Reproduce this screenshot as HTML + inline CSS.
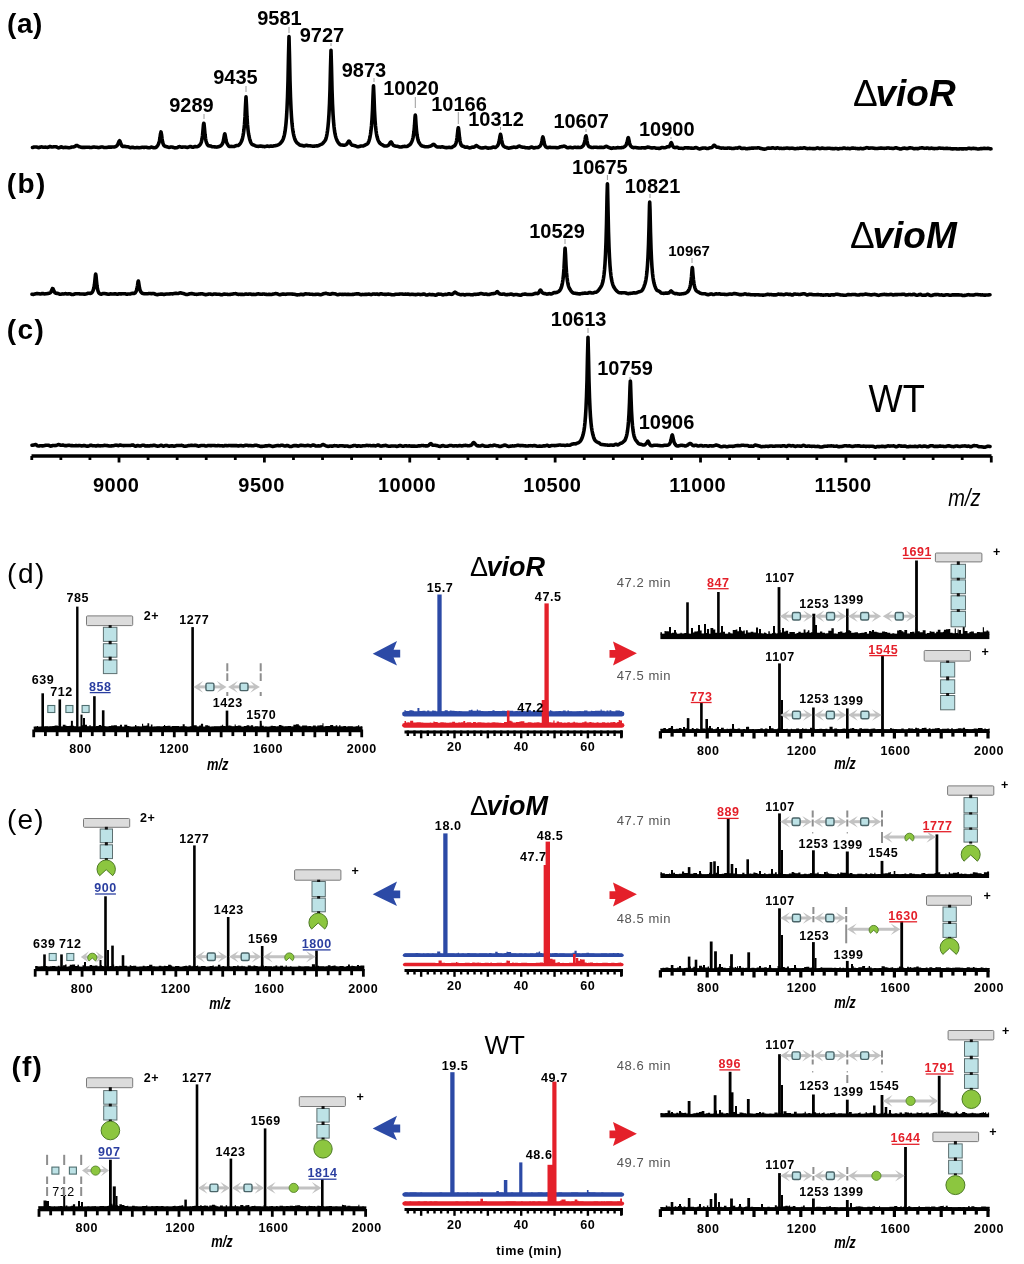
<!DOCTYPE html>
<html><head><meta charset="utf-8"><title>Figure</title>
<style>
html,body{margin:0;padding:0;background:#fff;}
body{width:1024px;height:1264px;overflow:hidden;}
svg{display:block;font-family:"Liberation Sans", sans-serif;filter:blur(0.45px);}
</style></head><body>
<svg width="1024" height="1264" viewBox="0 0 1024 1264">
<rect width="1024" height="1264" fill="#fff"/>
<text x="7" y="33.2" font-size="28" font-weight="bold" text-anchor="start" fill="#000" letter-spacing="0.6">(a)</text>
<path d="M32.5 147.53 L33 147.41 L33.5 147.21 L34 147.04 L34.5 146.95 L35 146.94 L35.5 146.96 L36 146.99 L36.5 147.02 L37 147.1 L37.5 147.26 L38 147.45 L38.5 147.59 L39 147.6 L39.5 147.45 L40 147.24 L40.5 147.05 L41 146.95 L41.5 146.92 L42 146.95 L42.5 147.04 L43 147.16 L43.5 147.24 L44 147.24 L44.5 147.19 L45 147.15 L45.5 147.15 L46 147.18 L46.5 147.26 L47 147.35 L47.5 147.39 L48 147.31 L48.5 147.1 L49 146.82 L49.5 146.61 L50 146.53 L50.5 146.61 L51 146.77 L51.5 146.93 L52 146.99 L52.5 146.98 L53 146.91 L53.5 146.82 L54 146.74 L54.5 146.7 L55 146.7 L55.5 146.72 L56 146.78 L56.5 146.93 L57 147.18 L57.5 147.48 L58 147.74 L58.5 147.87 L59 147.83 L59.5 147.65 L60 147.38 L60.5 147.11 L61 146.92 L61.5 146.9 L62 147.04 L62.5 147.28 L63 147.5 L63.5 147.6 L64 147.57 L64.5 147.47 L65 147.37 L65.5 147.32 L66 147.35 L66.5 147.42 L67 147.5 L67.5 147.56 L68 147.61 L68.5 147.67 L69 147.71 L69.5 147.7 L70 147.6 L70.5 147.45 L71 147.27 L71.5 147.12 L72 147.02 L72.5 146.96 L73 146.92 L73.5 146.88 L74 146.81 L74.5 146.68 L75 146.43 L75.5 146.08 L76 145.71 L76.5 145.49 L77 145.5 L77.5 145.7 L78 145.99 L78.5 146.28 L79 146.52 L79.5 146.72 L80 146.89 L80.5 147.03 L81 147.18 L81.5 147.32 L82 147.41 L82.5 147.42 L83 147.39 L83.5 147.39 L84 147.41 L84.5 147.41 L85 147.36 L85.5 147.29 L86 147.24 L86.5 147.23 L87 147.23 L87.5 147.21 L88 147.22 L88.5 147.25 L89 147.31 L89.5 147.39 L90 147.46 L90.5 147.5 L91 147.5 L91.5 147.45 L92 147.37 L92.5 147.25 L93 147.12 L93.5 147.02 L94 147.01 L94.5 147.07 L95 147.15 L95.5 147.2 L96 147.21 L96.5 147.23 L97 147.32 L97.5 147.45 L98 147.57 L98.5 147.59 L99 147.51 L99.5 147.39 L100 147.28 L100.5 147.18 L101 147.07 L101.5 146.97 L102 146.92 L102.5 146.97 L103 147.12 L103.5 147.29 L104 147.42 L104.5 147.48 L105 147.51 L105.5 147.51 L106 147.5 L106.5 147.46 L107 147.39 L107.5 147.3 L108 147.22 L108.5 147.16 L109 147.13 L109.5 147.12 L110 147.12 L110.5 147.11 L111 147.11 L111.5 147.1 L112 147.07 L112.5 147.01 L113 146.96 L113.5 146.94 L114 146.94 L114.5 146.9 L115 146.78 L115.5 146.58 L116 146.33 L116.5 146.02 L117 145.59 L117.5 144.93 L118 143.96 L118.5 142.69 L119 141.39 L119.5 140.77 L120 141.32 L120.5 142.64 L121 144.04 L121.5 145.18 L122 145.98 L122.5 146.42 L123 146.54 L123.5 146.47 L124 146.34 L124.5 146.27 L125 146.33 L125.5 146.5 L126 146.68 L126.5 146.79 L127 146.8 L127.5 146.79 L128 146.83 L128.5 146.95 L129 147.14 L129.5 147.34 L130 147.51 L130.5 147.61 L131 147.58 L131.5 147.47 L132 147.35 L132.5 147.3 L133 147.35 L133.5 147.48 L134 147.64 L134.5 147.77 L135 147.82 L135.5 147.77 L136 147.65 L136.5 147.53 L137 147.49 L137.5 147.54 L138 147.63 L138.5 147.71 L139 147.73 L139.5 147.71 L140 147.66 L140.5 147.59 L141 147.5 L141.5 147.39 L142 147.29 L142.5 147.25 L143 147.28 L143.5 147.36 L144 147.42 L144.5 147.39 L145 147.3 L145.5 147.2 L146 147.2 L146.5 147.28 L147 147.41 L147.5 147.53 L148 147.63 L148.5 147.71 L149 147.78 L149.5 147.77 L150 147.64 L150.5 147.44 L151 147.23 L151.5 147.13 L152 147.18 L152.5 147.36 L153 147.56 L153.5 147.71 L154 147.77 L154.5 147.76 L155 147.7 L155.5 147.57 L156 147.34 L156.5 146.96 L157 146.43 L157.5 145.75 L158 144.94 L158.5 143.97 L159 142.65 L159.5 140.66 L160 137.63 L160.5 133.86 L161 131.92 L161.5 134.27 L162 138.33 L162.5 141.47 L163 143.46 L163.5 144.69 L164 145.47 L164.5 145.97 L165 146.26 L165.5 146.42 L166 146.53 L166.5 146.63 L167 146.76 L167.5 146.93 L168 147.12 L168.5 147.29 L169 147.37 L169.5 147.35 L170 147.25 L170.5 147.1 L171 146.99 L171.5 146.96 L172 147.02 L172.5 147.14 L173 147.29 L173.5 147.46 L174 147.64 L174.5 147.78 L175 147.84 L175.5 147.8 L176 147.75 L176.5 147.71 L177 147.63 L177.5 147.46 L178 147.2 L178.5 146.91 L179 146.71 L179.5 146.65 L180 146.73 L180.5 146.91 L181 147.11 L181.5 147.23 L182 147.23 L182.5 147.15 L183 147.07 L183.5 147.03 L184 147.01 L184.5 146.99 L185 147 L185.5 147.07 L186 147.21 L186.5 147.34 L187 147.42 L187.5 147.39 L188 147.26 L188.5 147.08 L189 146.88 L189.5 146.71 L190 146.59 L190.5 146.56 L191 146.62 L191.5 146.79 L192 147.01 L192.5 147.21 L193 147.28 L193.5 147.18 L194 146.93 L194.5 146.68 L195 146.54 L195.5 146.57 L196 146.69 L196.5 146.77 L197 146.75 L197.5 146.61 L198 146.41 L198.5 146.15 L199 145.78 L199.5 145.28 L200 144.67 L200.5 143.93 L201 142.95 L201.5 141.48 L202 139.14 L202.5 135.44 L203 130.01 L203.5 124.45 L203.8 123.22 L204 123.75 L204.5 128.72 L205 134.33 L205.5 138.31 L206 140.92 L206.5 142.67 L207 143.89 L207.5 144.76 L208 145.36 L208.5 145.72 L209 145.87 L209.5 145.89 L210 145.9 L210.5 146 L211 146.2 L211.5 146.46 L212 146.66 L212.5 146.76 L213 146.78 L213.5 146.78 L214 146.79 L214.5 146.84 L215 146.9 L215.5 146.98 L216 147.04 L216.5 147.08 L217 147.06 L217.5 146.98 L218 146.84 L218.5 146.69 L219 146.55 L219.5 146.41 L220 146.22 L220.5 145.92 L221 145.51 L221.5 145 L222 144.38 L222.5 143.54 L223 142.28 L223.5 140.3 L224 137.4 L224.5 134.45 L224.8 133.84 L225 134.23 L225.5 136.97 L226 139.99 L226.5 142.05 L227 143.34 L227.5 144.23 L228 144.97 L228.5 145.64 L229 146.16 L229.5 146.46 L230 146.53 L230.5 146.47 L231 146.41 L231.5 146.42 L232 146.47 L232.5 146.51 L233 146.54 L233.5 146.55 L234 146.54 L234.5 146.44 L235 146.22 L235.5 145.94 L236 145.71 L236.5 145.58 L237 145.56 L237.5 145.55 L238 145.48 L238.5 145.26 L239 144.88 L239.5 144.39 L240 143.81 L240.5 143.15 L241 142.35 L241.5 141.3 L242 139.91 L242.5 138.14 L243 135.9 L243.5 133.04 L244 129.31 L244.5 124.23 L245 116.89 L245.5 105.75 L246 96.86 L246.5 105.78 L247 116.99 L247.5 124.44 L248 129.62 L248.5 133.38 L249 136.2 L249.5 138.4 L250 140.19 L250.5 141.67 L251 142.83 L251.5 143.67 L252 144.24 L252.5 144.59 L253 144.82 L253.5 144.99 L254 145.19 L254.5 145.42 L255 145.66 L255.5 145.88 L256 146.06 L256.5 146.19 L257 146.27 L257.5 146.33 L258 146.37 L258.5 146.37 L259 146.32 L259.5 146.22 L260 146.12 L260.5 146.07 L261 146.12 L261.5 146.23 L262 146.34 L262.5 146.37 L263 146.38 L263.5 146.43 L264 146.53 L264.5 146.62 L265 146.62 L265.5 146.5 L266 146.33 L266.5 146.16 L267 146.07 L267.5 146.09 L268 146.19 L268.5 146.31 L269 146.38 L269.5 146.34 L270 146.22 L270.5 146.12 L271 146.09 L271.5 146.14 L272 146.21 L272.5 146.21 L273 146.11 L273.5 145.97 L274 145.85 L274.5 145.78 L275 145.71 L275.5 145.63 L276 145.54 L276.5 145.44 L277 145.3 L277.5 145.12 L278 144.89 L278.5 144.64 L279 144.35 L279.5 144.01 L280 143.6 L280.5 143.13 L281 142.61 L281.5 142.03 L282 141.34 L282.5 140.5 L283 139.48 L283.5 138.2 L284 136.56 L284.5 134.43 L285 131.67 L285.5 128.07 L286 123.34 L286.5 117.08 L287 108.7 L287.5 97.24 L288 80.78 L288.5 56.14 L289 36.54 L289.5 55.94 L290 80.47 L290.5 96.95 L291 108.53 L291.5 117.01 L292 123.29 L292.5 127.93 L293 131.4 L293.5 134.09 L294 136.27 L294.5 138.09 L295 139.55 L295.5 140.67 L296 141.54 L296.5 142.24 L297 142.8 L297.5 143.25 L298 143.62 L298.5 143.99 L299 144.41 L299.5 144.83 L300 145.15 L300.5 145.31 L301 145.33 L301.5 145.33 L302 145.39 L302.5 145.54 L303 145.74 L303.5 145.9 L304 145.97 L304.5 145.91 L305 145.73 L305.5 145.51 L306 145.34 L306.5 145.29 L307 145.36 L307.5 145.52 L308 145.69 L308.5 145.77 L309 145.77 L309.5 145.73 L310 145.73 L310.5 145.79 L311 145.9 L311.5 146 L312 146.09 L312.5 146.16 L313 146.18 L313.5 146.17 L314 146.14 L314.5 146.11 L315 146.06 L315.5 145.99 L316 145.91 L316.5 145.87 L317 145.9 L317.5 145.91 L318 145.83 L318.5 145.61 L319 145.31 L319.5 145.03 L320 144.81 L320.5 144.62 L321 144.43 L321.5 144.23 L322 143.96 L322.5 143.58 L323 143.09 L323.5 142.51 L324 141.92 L324.5 141.34 L325 140.69 L325.5 139.82 L326 138.52 L326.5 136.64 L327 134.1 L327.5 130.8 L328 126.59 L328.5 121.12 L329 113.82 L329.5 103.77 L330 89.27 L330.5 67.55 L331 50.32 L331.5 67.45 L332 89.09 L332.5 103.57 L333 113.64 L333.5 121 L334 126.48 L334.5 130.6 L335 133.67 L335.5 135.98 L336 137.77 L336.5 139.19 L337 140.36 L337.5 141.33 L338 142.19 L338.5 142.94 L339 143.59 L339.5 144.13 L340 144.55 L340.5 144.83 L341 144.97 L341.5 145 L342 145 L342.5 145.04 L343 145.13 L343.5 145.21 L344 145.23 L344.5 145.17 L345 145.06 L345.5 144.9 L346 144.67 L346.5 144.3 L347 143.75 L347.5 143.01 L348 142.15 L348.5 141.38 L349 141.08 L349.5 141.49 L350 142.34 L350.5 143.26 L351 144.05 L351.5 144.66 L352 145.05 L352.5 145.24 L353 145.33 L353.5 145.4 L354 145.5 L354.5 145.64 L355 145.81 L355.5 145.99 L356 146.17 L356.5 146.37 L357 146.56 L357.5 146.7 L358 146.77 L358.5 146.74 L359 146.62 L359.5 146.44 L360 146.26 L360.5 146.12 L361 146.02 L361.5 145.98 L362 145.97 L362.5 145.98 L363 145.97 L363.5 145.87 L364 145.68 L364.5 145.4 L365 145.08 L365.5 144.79 L366 144.55 L366.5 144.36 L367 144.13 L367.5 143.76 L368 143.12 L368.5 142.15 L369 140.83 L369.5 139.14 L370 136.99 L370.5 134.21 L371 130.56 L371.5 125.7 L372 119.17 L372.5 110 L373 96.43 L373.5 85.77 L374 96.75 L374.5 110.48 L375 119.62 L375.5 125.95 L376 130.56 L376.5 133.99 L377 136.53 L377.5 138.4 L378 139.84 L378.5 141 L379 141.96 L379.5 142.72 L380 143.29 L380.5 143.74 L381 144.08 L381.5 144.35 L382 144.6 L382.5 144.88 L383 145.21 L383.5 145.54 L384 145.79 L384.5 145.95 L385 146.02 L385.5 146.04 L386 146.05 L386.5 146.02 L387 145.92 L387.5 145.74 L388 145.46 L388.5 145.1 L389 144.61 L389.5 143.93 L390 143.07 L390.5 142.26 L391 141.93 L391.5 142.35 L392 143.26 L392.5 144.18 L393 144.89 L393.5 145.34 L394 145.62 L394.5 145.8 L395 145.96 L395.5 146.09 L396 146.18 L396.5 146.22 L397 146.24 L397.5 146.28 L398 146.41 L398.5 146.6 L399 146.78 L399.5 146.9 L400 146.94 L400.5 146.94 L401 146.93 L401.5 146.92 L402 146.85 L402.5 146.71 L403 146.56 L403.5 146.46 L404 146.42 L404.5 146.41 L405 146.41 L405.5 146.44 L406 146.49 L406.5 146.51 L407 146.43 L407.5 146.22 L408 145.91 L408.5 145.57 L409 145.23 L409.5 144.89 L410 144.49 L410.5 143.93 L411 143.19 L411.5 142.26 L412 141.14 L412.5 139.74 L413 137.85 L413.5 135.17 L414 131.3 L414.5 125.52 L415 117.58 L415.3 115.01 L415.5 116.21 L416 124 L416.5 130.34 L417 134.64 L417.5 137.69 L418 139.85 L418.5 141.39 L419 142.48 L419.5 143.31 L420 144 L420.5 144.63 L421 145.2 L421.5 145.65 L422 145.93 L422.5 146.07 L423 146.17 L423.5 146.27 L424 146.41 L424.5 146.56 L425 146.68 L425.5 146.76 L426 146.8 L426.5 146.81 L427 146.8 L427.5 146.76 L428 146.7 L428.5 146.61 L429 146.5 L429.5 146.36 L430 146.23 L430.5 146.08 L431 145.88 L431.5 145.61 L432 145.26 L432.5 144.87 L433 144.5 L433.5 144.35 L434 144.53 L434.5 144.91 L435 145.35 L435.5 145.8 L436 146.22 L436.5 146.58 L437 146.84 L437.5 146.99 L438 147.04 L438.5 147.03 L439 147.01 L439.5 147.02 L440 147.07 L440.5 147.1 L441 147.07 L441.5 146.95 L442 146.82 L442.5 146.8 L443 146.92 L443.5 147.09 L444 147.25 L444.5 147.35 L445 147.43 L445.5 147.52 L446 147.6 L446.5 147.64 L447 147.62 L447.5 147.56 L448 147.48 L448.5 147.41 L449 147.38 L449.5 147.4 L450 147.47 L450.5 147.57 L451 147.6 L451.5 147.5 L452 147.27 L452.5 146.95 L453 146.62 L453.5 146.32 L454 146.04 L454.5 145.68 L455 145.15 L455.5 144.31 L456 143.03 L456.5 141.09 L457 138.07 L457.5 133.59 L458 128.92 L458.3 127.77 L458.5 128.19 L459 132.43 L459.5 137.31 L460 140.85 L460.5 143.13 L461 144.54 L461.5 145.37 L462 145.8 L462.5 146.01 L463 146.18 L463.5 146.39 L464 146.66 L464.5 146.92 L465 147.12 L465.5 147.22 L466 147.22 L466.5 147.14 L467 147.09 L467.5 147.15 L468 147.35 L468.5 147.6 L469 147.82 L469.5 147.92 L470 147.89 L470.5 147.75 L471 147.54 L471.5 147.33 L472 147.2 L472.5 147.17 L473 147.19 L473.5 147.19 L474 147.08 L474.5 146.81 L475 146.43 L475.5 146 L476 145.66 L476.4 145.56 L476.5 145.58 L477 145.81 L477.5 146.19 L478 146.55 L478.5 146.84 L479 147.1 L479.5 147.34 L480 147.56 L480.5 147.74 L481 147.89 L481.5 147.99 L482 148.03 L482.5 147.99 L483 147.88 L483.5 147.78 L484 147.69 L484.5 147.6 L485 147.48 L485.5 147.41 L486 147.44 L486.5 147.61 L487 147.86 L487.5 148.07 L488 148.16 L488.5 148.15 L489 148.08 L489.5 148.02 L490 147.99 L490.5 147.95 L491 147.87 L491.5 147.72 L492 147.52 L492.5 147.3 L493 147.11 L493.5 147.04 L494 147.11 L494.5 147.27 L495 147.39 L495.5 147.34 L496 147.08 L496.5 146.69 L497 146.24 L497.5 145.69 L498 144.93 L498.5 143.79 L499 142.06 L499.5 139.44 L500 136.13 L500.5 134.31 L501 136.15 L501.5 139.53 L502 142.26 L502.5 144.06 L503 145.2 L503.5 145.92 L504 146.4 L504.5 146.76 L505 147.05 L505.5 147.25 L506 147.4 L506.5 147.54 L507 147.71 L507.5 147.89 L508 148.04 L508.5 148.12 L509 148.11 L509.5 148.04 L510 147.93 L510.5 147.8 L511 147.7 L511.5 147.61 L512 147.52 L512.5 147.39 L513 147.25 L513.5 147.15 L514 147.14 L514.5 147.23 L515 147.33 L515.5 147.39 L516 147.39 L516.5 147.33 L517 147.17 L517.5 146.91 L518 146.59 L518.5 146.29 L519 146.14 L519.5 146.17 L520 146.33 L520.5 146.54 L521 146.74 L521.5 146.92 L522 147.07 L522.5 147.16 L523 147.21 L523.5 147.24 L524 147.29 L524.5 147.39 L525 147.51 L525.5 147.61 L526 147.68 L526.5 147.72 L527 147.75 L527.5 147.81 L528 147.88 L528.5 147.95 L529 147.95 L529.5 147.86 L530 147.69 L530.5 147.45 L531 147.22 L531.5 147.1 L532 147.16 L532.5 147.38 L533 147.67 L533.5 147.89 L534 147.96 L534.5 147.88 L535 147.74 L535.5 147.6 L536 147.54 L536.5 147.54 L537 147.57 L537.5 147.54 L538 147.4 L538.5 147.17 L539 146.87 L539.5 146.51 L540 146.07 L540.5 145.46 L541 144.52 L541.5 143.01 L542 140.68 L542.5 137.97 L542.9 136.97 L543 137.06 L543.5 139.12 L544 141.99 L544.5 144.16 L545 145.57 L545.5 146.45 L546 146.97 L546.5 147.28 L547 147.48 L547.5 147.61 L548 147.62 L548.5 147.52 L549 147.37 L549.5 147.29 L550 147.31 L550.5 147.37 L551 147.43 L551.5 147.46 L552 147.49 L552.5 147.52 L553 147.53 L553.5 147.53 L554 147.52 L554.5 147.52 L555 147.53 L555.5 147.56 L556 147.61 L556.5 147.66 L557 147.68 L557.5 147.68 L558 147.63 L558.5 147.55 L559 147.41 L559.5 147.22 L560 146.99 L560.5 146.79 L561 146.69 L561.5 146.67 L562 146.65 L562.5 146.55 L563 146.37 L563.5 146.2 L564 146.15 L564.5 146.22 L565 146.39 L565.5 146.63 L566 146.93 L566.5 147.28 L567 147.55 L567.5 147.69 L568 147.71 L568.5 147.66 L569 147.57 L569.5 147.47 L570 147.37 L570.5 147.37 L571 147.47 L571.5 147.62 L572 147.74 L572.5 147.77 L573 147.7 L573.5 147.55 L574 147.38 L574.5 147.25 L575 147.22 L575.5 147.28 L576 147.38 L576.5 147.45 L577 147.45 L577.5 147.42 L578 147.39 L578.5 147.4 L579 147.45 L579.5 147.49 L580 147.5 L580.5 147.44 L581 147.32 L581.5 147.12 L582 146.81 L582.5 146.4 L583 145.86 L583.5 145.17 L584 144.16 L584.5 142.56 L585 140.06 L585.5 137.09 L585.9 135.91 L586 135.89 L586.5 138.03 L587 141.1 L587.5 143.46 L588 145.02 L588.5 145.99 L589 146.53 L589.5 146.81 L590 146.96 L590.5 147.1 L591 147.27 L591.5 147.43 L592 147.54 L592.5 147.56 L593 147.5 L593.5 147.38 L594 147.28 L594.5 147.24 L595 147.24 L595.5 147.25 L596 147.26 L596.5 147.29 L597 147.35 L597.5 147.43 L598 147.48 L598.5 147.48 L599 147.45 L599.5 147.4 L600 147.39 L600.5 147.39 L601 147.39 L601.5 147.37 L602 147.38 L602.5 147.42 L603 147.45 L603.5 147.42 L604 147.27 L604.5 147.05 L605 146.8 L605.5 146.55 L606 146.38 L606.5 146.37 L607 146.54 L607.5 146.82 L608 147.12 L608.5 147.35 L609 147.51 L609.5 147.66 L610 147.86 L610.5 148.12 L611 148.32 L611.5 148.35 L612 148.22 L612.5 148.02 L613 147.89 L613.5 147.89 L614 147.95 L614.5 148.01 L615 148.04 L615.5 148.04 L616 147.98 L616.5 147.85 L617 147.69 L617.5 147.59 L618 147.6 L618.5 147.69 L619 147.76 L619.5 147.78 L620 147.78 L620.5 147.76 L621 147.71 L621.5 147.63 L622 147.55 L622.5 147.48 L623 147.4 L623.5 147.26 L624 147 L624.5 146.65 L625 146.24 L625.5 145.77 L626 145.13 L626.5 144.14 L627 142.58 L627.5 140.3 L628 137.99 L628.3 137.59 L628.5 138.02 L629 140.37 L629.5 142.91 L630 144.62 L630.5 145.63 L631 146.26 L631.5 146.71 L632 147.08 L632.5 147.36 L633 147.54 L633.5 147.61 L634 147.58 L634.5 147.52 L635 147.48 L635.5 147.5 L636 147.58 L636.5 147.67 L637 147.75 L637.5 147.83 L638 147.9 L638.5 147.97 L639 148.01 L639.5 148.03 L640 148.03 L640.5 148.02 L641 147.97 L641.5 147.89 L642 147.8 L642.5 147.73 L643 147.72 L643.5 147.77 L644 147.85 L644.5 147.91 L645 147.92 L645.5 147.86 L646 147.71 L646.5 147.5 L647 147.28 L647.5 147.13 L648 147.09 L648.5 147.17 L649 147.33 L649.5 147.48 L650 147.58 L650.5 147.67 L651 147.79 L651.5 147.94 L652 148.02 L652.5 147.98 L653 147.84 L653.5 147.71 L654 147.67 L654.5 147.75 L655 147.9 L655.5 148.04 L656 148.15 L656.5 148.22 L657 148.26 L657.5 148.28 L658 148.3 L658.5 148.33 L659 148.37 L659.5 148.39 L660 148.36 L660.5 148.21 L661 147.94 L661.5 147.67 L662 147.5 L662.5 147.47 L663 147.55 L663.5 147.66 L664 147.73 L664.5 147.75 L665 147.7 L665.5 147.6 L666 147.42 L666.5 147.18 L667 146.91 L667.5 146.73 L668 146.67 L668.5 146.71 L669 146.66 L669.5 146.32 L670 145.51 L670.5 144.22 L671 142.92 L671.3 142.63 L671.5 142.86 L672 144.09 L672.5 145.46 L673 146.43 L673.5 147.04 L674 147.4 L674.5 147.58 L675 147.63 L675.5 147.56 L676 147.42 L676.5 147.29 L677 147.28 L677.5 147.44 L678 147.72 L678.5 148.01 L679 148.22 L679.5 148.29 L680 148.28 L680.5 148.23 L681 148.21 L681.5 148.25 L682 148.33 L682.5 148.42 L683 148.46 L683.5 148.4 L684 148.21 L684.5 147.97 L685 147.8 L685.5 147.73 L686 147.76 L686.5 147.83 L687 147.88 L687.5 147.91 L688 147.91 L688.5 147.9 L689 147.91 L689.5 147.95 L690 148.02 L690.5 148.08 L691 148.11 L691.5 148.13 L692 148.16 L692.5 148.2 L693 148.23 L693.5 148.22 L694 148.13 L694.5 147.96 L695 147.76 L695.5 147.64 L696 147.62 L696.5 147.72 L697 147.9 L697.5 148.14 L698 148.41 L698.5 148.66 L699 148.84 L699.5 148.91 L700 148.86 L700.5 148.72 L701 148.53 L701.5 148.33 L702 148.19 L702.5 148.12 L703 148.08 L703.5 148.06 L704 148.04 L704.5 148.03 L705 148.05 L705.5 148.11 L706 148.23 L706.5 148.39 L707 148.5 L707.5 148.51 L708 148.42 L708.5 148.26 L709 148.08 L709.5 147.91 L710 147.8 L710.5 147.74 L711 147.71 L711.5 147.6 L712 147.35 L712.5 146.89 L713 146.27 L713.5 145.62 L714 145.24 L714.5 145.32 L715 145.76 L715.5 146.3 L716 146.77 L716.5 147.09 L717 147.24 L717.5 147.28 L718 147.29 L718.5 147.34 L719 147.46 L719.5 147.64 L720 147.84 L720.5 148.01 L721 148.1 L721.5 148.1 L722 148.04 L722.5 148 L723 148.01 L723.5 148.1 L724 148.2 L724.5 148.27 L725 148.3 L725.5 148.31 L726 148.3 L726.5 148.27 L727 148.2 L727.5 148.12 L728 148.07 L728.5 148.05 L729 148.07 L729.5 148.11 L730 148.16 L730.5 148.22 L731 148.29 L731.5 148.37 L732 148.45 L732.5 148.52 L733 148.52 L733.5 148.47 L734 148.38 L734.5 148.28 L735 148.17 L735.5 148.08 L736 148.04 L736.5 148.07 L737 148.11 L737.5 148.08 L738 147.93 L738.5 147.7 L739 147.48 L739.5 147.41 L740 147.57 L740.5 147.9 L741 148.25 L741.5 148.47 L742 148.53 L742.5 148.48 L743 148.37 L743.5 148.26 L744 148.21 L744.5 148.25 L745 148.37 L745.5 148.52 L746 148.67 L746.5 148.76 L747 148.76 L747.5 148.67 L748 148.53 L748.5 148.43 L749 148.39 L749.5 148.39 L750 148.36 L750.5 148.3 L751 148.21 L751.5 148.14 L752 148.11 L752.5 148.11 L753 148.12 L753.5 148.1 L754 148.05 L754.5 148.01 L755 147.99 L755.5 148 L756 148.01 L756.5 147.98 L757 147.92 L757.5 147.85 L758 147.78 L758.5 147.76 L759 147.83 L759.5 148.01 L760 148.2 L760.5 148.36 L761 148.45 L761.5 148.53 L762 148.64 L762.5 148.79 L763 148.95 L763.5 149.07 L764 149.14 L764.5 149.15 L765 149.11 L765.5 149 L766 148.83 L766.5 148.62 L767 148.38 L767.5 148.18 L768 148.08 L768.5 148.07 L769 148.13 L769.5 148.22 L770 148.28 L770.5 148.27 L771 148.17 L771.5 148.01 L772 147.85 L772.5 147.77 L773 147.81 L773.5 147.94 L774 148.1 L774.5 148.25 L775 148.35 L775.5 148.34 L776 148.21 L776.5 148.01 L777 147.84 L777.5 147.81 L778 147.93 L778.5 148.13 L779 148.29 L779.5 148.36 L780 148.34 L780.5 148.3 L781 148.31 L781.5 148.37 L782 148.43 L782.5 148.45 L783 148.43 L783.5 148.41 L784 148.39 L784.5 148.37 L785 148.32 L785.5 148.25 L786 148.14 L786.5 148.05 L787 148.01 L787.5 148.04 L788 148.14 L788.5 148.26 L789 148.35 L789.5 148.38 L790 148.37 L790.5 148.32 L791 148.25 L791.5 148.19 L792 148.16 L792.5 148.2 L793 148.32 L793.5 148.46 L794 148.58 L794.5 148.65 L795 148.69 L795.5 148.68 L796 148.61 L796.5 148.5 L797 148.41 L797.5 148.42 L798 148.45 L798.5 148.43 L799 148.32 L799.5 148.17 L800 148.08 L800.5 148.06 L801 148.11 L801.5 148.19 L802 148.26 L802.5 148.24 L803 148.1 L803.5 147.92 L804 147.79 L804.5 147.79 L805 147.92 L805.5 148.13 L806 148.33 L806.5 148.49 L807 148.56 L807.5 148.58 L808 148.57 L808.5 148.52 L809 148.45 L809.5 148.4 L810 148.4 L810.5 148.46 L811 148.52 L811.5 148.56 L812 148.57 L812.5 148.58 L813 148.6 L813.5 148.64 L814 148.67 L814.5 148.67 L815 148.63 L815.5 148.52 L816 148.37 L816.5 148.18 L817 148.01 L817.5 147.92 L818 147.95 L818.5 148.11 L819 148.33 L819.5 148.52 L820 148.61 L820.5 148.57 L821 148.42 L821.5 148.24 L822 148.13 L822.5 148.12 L823 148.19 L823.5 148.28 L824 148.36 L824.5 148.42 L825 148.47 L825.5 148.5 L826 148.48 L826.5 148.43 L827 148.35 L827.5 148.27 L828 148.23 L828.5 148.23 L829 148.25 L829.5 148.28 L830 148.33 L830.5 148.41 L831 148.5 L831.5 148.57 L832 148.61 L832.5 148.63 L833 148.66 L833.5 148.68 L834 148.67 L834.5 148.61 L835 148.53 L835.5 148.45 L836 148.42 L836.5 148.47 L837 148.6 L837.5 148.76 L838 148.87 L838.5 148.88 L839 148.78 L839.5 148.62 L840 148.5 L840.5 148.47 L841 148.52 L841.5 148.56 L842 148.52 L842.5 148.4 L843 148.24 L843.5 148.09 L844 148.01 L844.5 148.02 L845 148.15 L845.5 148.32 L846 148.45 L846.5 148.47 L847 148.42 L847.5 148.37 L848 148.38 L848.5 148.46 L849 148.59 L849.5 148.67 L850 148.66 L850.5 148.54 L851 148.35 L851.5 148.19 L852 148.1 L852.5 148.09 L853 148.12 L853.5 148.15 L854 148.19 L854.5 148.25 L855 148.33 L855.5 148.4 L856 148.47 L856.5 148.52 L857 148.55 L857.5 148.59 L858 148.65 L858.5 148.73 L859 148.74 L859.5 148.63 L860 148.47 L860.5 148.37 L861 148.41 L861.5 148.52 L862 148.64 L862.5 148.72 L863 148.71 L863.5 148.62 L864 148.47 L864.5 148.31 L865 148.16 L865.5 148.01 L866 147.84 L866.5 147.71 L867 147.66 L867.5 147.74 L868 147.93 L868.5 148.13 L869 148.24 L869.5 148.22 L870 148.13 L870.5 148.07 L871 148.06 L871.5 148.06 L872 148.05 L872.5 148.07 L873 148.13 L873.5 148.23 L874 148.31 L874.5 148.36 L875 148.4 L875.5 148.44 L876 148.47 L876.5 148.48 L877 148.48 L877.5 148.46 L878 148.41 L878.5 148.33 L879 148.25 L879.5 148.19 L880 148.15 L880.5 148.13 L881 148.12 L881.5 148.13 L882 148.16 L882.5 148.21 L883 148.26 L883.5 148.31 L884 148.34 L884.5 148.34 L885 148.32 L885.5 148.27 L886 148.2 L886.5 148.11 L887 148.01 L887.5 147.93 L888 147.91 L888.5 147.94 L889 148.02 L889.5 148.13 L890 148.21 L890.5 148.25 L891 148.27 L891.5 148.31 L892 148.37 L892.5 148.46 L893 148.51 L893.5 148.48 L894 148.36 L894.5 148.16 L895 147.97 L895.5 147.85 L896 147.82 L896.5 147.9 L897 148.06 L897.5 148.23 L898 148.36 L898.5 148.46 L899 148.59 L899.5 148.77 L900 148.95 L900.5 149.03 L901 148.98 L901.5 148.83 L902 148.64 L902.5 148.45 L903 148.29 L903.5 148.19 L904 148.15 L904.5 148.15 L905 148.2 L905.5 148.29 L906 148.43 L906.5 148.57 L907 148.63 L907.5 148.56 L908 148.41 L908.5 148.21 L909 148.02 L909.5 147.88 L910 147.83 L910.5 147.87 L911 147.95 L911.5 148.02 L912 148.09 L912.5 148.19 L913 148.35 L913.5 148.55 L914 148.69 L914.5 148.72 L915 148.66 L915.5 148.57 L916 148.53 L916.5 148.55 L917 148.6 L917.5 148.63 L918 148.62 L918.5 148.53 L919 148.39 L919.5 148.22 L920 148.08 L920.5 147.98 L921 147.91 L921.5 147.85 L922 147.81 L922.5 147.84 L923 147.95 L923.5 148.11 L924 148.26 L924.5 148.33 L925 148.32 L925.5 148.26 L926 148.19 L926.5 148.11 L927 148.04 L927.5 148.02 L928 148.09 L928.5 148.26 L929 148.44 L929.5 148.53 L930 148.48 L930.5 148.34 L931 148.19 L931.5 148.12 L932 148.17 L932.5 148.3 L933 148.46 L933.5 148.58 L934 148.63 L934.5 148.61 L935 148.55 L935.5 148.52 L936 148.52 L936.5 148.54 L937 148.55 L937.5 148.49 L938 148.35 L938.5 148.17 L939 148.04 L939.5 148.01 L940 148.08 L940.5 148.17 L941 148.24 L941.5 148.26 L942 148.24 L942.5 148.24 L943 148.31 L943.5 148.44 L944 148.55 L944.5 148.57 L945 148.51 L945.5 148.41 L946 148.33 L946.5 148.3 L947 148.33 L947.5 148.38 L948 148.44 L948.5 148.47 L949 148.48 L949.5 148.51 L950 148.55 L950.5 148.62 L951 148.71 L951.5 148.8 L952 148.87 L952.5 148.9 L953 148.87 L953.5 148.79 L954 148.72 L954.5 148.7 L955 148.73 L955.5 148.77 L956 148.81 L956.5 148.84 L957 148.88 L957.5 148.92 L958 148.95 L958.5 148.94 L959 148.89 L959.5 148.84 L960 148.81 L960.5 148.8 L961 148.81 L961.5 148.83 L962 148.85 L962.5 148.88 L963 148.9 L963.5 148.89 L964 148.82 L964.5 148.75 L965 148.73 L965.5 148.78 L966 148.84 L966.5 148.85 L967 148.76 L967.5 148.58 L968 148.37 L968.5 148.23 L969 148.21 L969.5 148.3 L970 148.44 L970.5 148.55 L971 148.61 L971.5 148.6 L972 148.53 L972.5 148.44 L973 148.37 L973.5 148.35 L974 148.38 L974.5 148.42 L975 148.47 L975.5 148.53 L976 148.63 L976.5 148.73 L977 148.84 L977.5 148.92 L978 148.97 L978.5 148.96 L979 148.9 L979.5 148.8 L980 148.69 L980.5 148.63 L981 148.64 L981.5 148.66 L982 148.65 L982.5 148.58 L983 148.49 L983.5 148.41 L984 148.36 L984.5 148.36 L985 148.4 L985.5 148.45 L986 148.49 L986.5 148.48 L987 148.43 L987.5 148.36 L988 148.32 L988.5 148.37 L989 148.5 L989.5 148.67 L990 148.81 L990.5 148.86 L991 148.82" fill="none" stroke="#000" stroke-width="3.6" stroke-linejoin="round" stroke-linecap="round"/>
<text x="191.5" y="112.3" font-size="20" font-weight="bold" text-anchor="middle" fill="#000">9289</text>
<text x="235.5" y="84" font-size="20" font-weight="bold" text-anchor="middle" fill="#000">9435</text>
<text x="279.5" y="25" font-size="20" font-weight="bold" text-anchor="middle" fill="#000">9581</text>
<text x="322" y="41.9" font-size="20" font-weight="bold" text-anchor="middle" fill="#000">9727</text>
<text x="364" y="76.6" font-size="20" font-weight="bold" text-anchor="middle" fill="#000">9873</text>
<text x="411" y="95.2" font-size="20" font-weight="bold" text-anchor="middle" fill="#000">10020</text>
<text x="459" y="111.2" font-size="20" font-weight="bold" text-anchor="middle" fill="#000">10166</text>
<text x="496" y="126.4" font-size="20" font-weight="bold" text-anchor="middle" fill="#000">10312</text>
<text x="581.2" y="128.3" font-size="20" font-weight="bold" text-anchor="middle" fill="#000">10607</text>
<text x="666.8" y="136.1" font-size="20" font-weight="bold" text-anchor="middle" fill="#000">10900</text>
<line x1="204" y1="114" x2="204" y2="119" stroke="#9a9a9a" stroke-width="1"/>
<line x1="246" y1="86" x2="246" y2="92" stroke="#9a9a9a" stroke-width="1"/>
<line x1="289" y1="27" x2="289" y2="33" stroke="#9a9a9a" stroke-width="1"/>
<line x1="331" y1="43" x2="331" y2="46" stroke="#9a9a9a" stroke-width="1"/>
<line x1="374" y1="78" x2="374" y2="82" stroke="#9a9a9a" stroke-width="1"/>
<line x1="415.3" y1="97" x2="415.3" y2="108" stroke="#9a9a9a" stroke-width="1"/>
<line x1="458.3" y1="112" x2="458.3" y2="124" stroke="#9a9a9a" stroke-width="1"/>
<line x1="500.5" y1="127" x2="500.5" y2="130" stroke="#9a9a9a" stroke-width="1"/>
<line x1="586" y1="129" x2="586" y2="132" stroke="#9a9a9a" stroke-width="1"/>
<line x1="671" y1="137" x2="671" y2="139" stroke="#9a9a9a" stroke-width="1"/>
<text x="853" y="105.9" font-size="37" font-weight="normal" text-anchor="start" fill="#000">&#916;</text>
<text x="875.5" y="105.9" font-size="37" font-weight="bold" text-anchor="start" fill="#000" font-style="italic">vioR</text>
<text x="6.8" y="192.5" font-size="28" font-weight="bold" text-anchor="start" fill="#000" letter-spacing="1.4">(b)</text>
<path d="M32 294.22 L32.5 294.32 L33 294.37 L33.5 294.36 L34 294.27 L34.5 294.13 L35 293.97 L35.5 293.82 L36 293.71 L36.5 293.64 L37 293.61 L37.5 293.62 L38 293.64 L38.5 293.68 L39 293.75 L39.5 293.87 L40 293.98 L40.5 294 L41 293.9 L41.5 293.73 L42 293.59 L42.5 293.54 L43 293.6 L43.5 293.74 L44 293.87 L44.5 293.93 L45 293.9 L45.5 293.83 L46 293.76 L46.5 293.7 L47 293.64 L47.5 293.55 L48 293.46 L48.5 293.37 L49 293.28 L49.5 293.17 L50 292.96 L50.5 292.56 L51 291.87 L51.5 290.82 L52 289.52 L52.5 288.54 L52.7 288.46 L53 288.78 L53.5 289.94 L54 291.21 L54.5 292.13 L55 292.69 L55.5 293.03 L56 293.23 L56.5 293.33 L57 293.36 L57.5 293.37 L58 293.45 L58.5 293.65 L59 293.92 L59.5 294.15 L60 294.27 L60.5 294.27 L61 294.17 L61.5 294.06 L62 293.97 L62.5 293.92 L63 293.92 L63.5 293.94 L64 293.93 L64.5 293.84 L65 293.71 L65.5 293.62 L66 293.67 L66.5 293.83 L67 293.98 L67.5 294.02 L68 293.92 L68.5 293.78 L69 293.72 L69.5 293.75 L70 293.87 L70.5 294.03 L71 294.21 L71.5 294.38 L72 294.5 L72.5 294.54 L73 294.51 L73.5 294.41 L74 294.23 L74.5 294.03 L75 293.87 L75.5 293.79 L76 293.79 L76.5 293.82 L77 293.82 L77.5 293.79 L78 293.77 L78.5 293.79 L79 293.83 L79.5 293.89 L80 293.97 L80.5 294.03 L81 294.06 L81.5 294.03 L82 293.96 L82.5 293.93 L83 293.98 L83.5 294.07 L84 294.15 L84.5 294.17 L85 294.13 L85.5 294.04 L86 293.93 L86.5 293.81 L87 293.66 L87.5 293.48 L88 293.3 L88.5 293.21 L89 293.23 L89.5 293.33 L90 293.4 L90.5 293.37 L91 293.22 L91.5 292.93 L92 292.44 L92.5 291.71 L93 290.74 L93.5 289.43 L94 287.5 L94.5 284.35 L95 279.47 L95.5 274.64 L95.7 274.16 L96 275.64 L96.5 281.12 L97 285.87 L97.5 288.93 L98 290.9 L98.5 292.19 L99 293.01 L99.5 293.52 L100 293.85 L100.5 294.06 L101 294.16 L101.5 294.11 L102 293.94 L102.5 293.74 L103 293.6 L103.5 293.55 L104 293.54 L104.5 293.55 L105 293.59 L105.5 293.67 L106 293.78 L106.5 293.88 L107 293.97 L107.5 294.07 L108 294.2 L108.5 294.27 L109 294.24 L109.5 294.1 L110 293.95 L110.5 293.87 L111 293.88 L111.5 293.94 L112 293.99 L112.5 294 L113 293.98 L113.5 293.95 L114 293.91 L114.5 293.88 L115 293.86 L115.5 293.88 L116 293.97 L116.5 294.09 L117 294.2 L117.5 294.22 L118 294.14 L118.5 293.99 L119 293.84 L119.5 293.78 L120 293.8 L120.5 293.86 L121 293.88 L121.5 293.85 L122 293.8 L122.5 293.74 L123 293.72 L123.5 293.72 L124 293.71 L124.5 293.7 L125 293.74 L125.5 293.85 L126 294.02 L126.5 294.15 L127 294.19 L127.5 294.14 L128 294.08 L128.5 294.04 L129 294.05 L129.5 294.06 L130 294.04 L130.5 293.93 L131 293.73 L131.5 293.5 L132 293.33 L132.5 293.28 L133 293.34 L133.5 293.42 L134 293.42 L134.5 293.28 L135 292.96 L135.5 292.42 L136 291.59 L136.5 290.36 L137 288.46 L137.5 285.44 L138 281.93 L138.3 281.07 L138.5 281.5 L139 284.77 L139.5 288 L140 290.03 L140.5 291.26 L141 292.07 L141.5 292.64 L142 293.03 L142.5 293.27 L143 293.42 L143.5 293.55 L144 293.67 L144.5 293.76 L145 293.78 L145.5 293.77 L146 293.77 L146.5 293.79 L147 293.81 L147.5 293.78 L148 293.69 L148.5 293.59 L149 293.51 L149.5 293.47 L150 293.5 L150.5 293.57 L151 293.65 L151.5 293.67 L152 293.63 L152.5 293.56 L153 293.5 L153.5 293.51 L154 293.61 L154.5 293.79 L155 294.01 L155.5 294.23 L156 294.43 L156.5 294.56 L157 294.63 L157.5 294.62 L158 294.54 L158.5 294.43 L159 294.31 L159.5 294.23 L160 294.18 L160.5 294.16 L161 294.13 L161.5 294.09 L162 294.09 L162.5 294.15 L163 294.26 L163.5 294.37 L164 294.42 L164.5 294.4 L165 294.32 L165.5 294.21 L166 294.1 L166.5 294.01 L167 293.98 L167.5 294 L168 294.03 L168.5 294.05 L169 294.03 L169.5 293.96 L170 293.86 L170.5 293.76 L171 293.73 L171.5 293.76 L172 293.83 L172.5 293.85 L173 293.8 L173.5 293.68 L174 293.56 L174.5 293.46 L175 293.41 L175.5 293.38 L176 293.36 L176.5 293.37 L177 293.43 L177.5 293.49 L178 293.49 L178.5 293.4 L179 293.21 L179.5 293 L180 292.83 L180.5 292.79 L180.7 292.87 L181 292.91 L181.5 293.03 L182 293.2 L182.5 293.35 L183 293.45 L183.5 293.56 L184 293.72 L184.5 293.93 L185 294.13 L185.5 294.28 L186 294.38 L186.5 294.45 L187 294.47 L187.5 294.44 L188 294.33 L188.5 294.17 L189 293.99 L189.5 293.86 L190 293.79 L190.5 293.72 L191 293.64 L191.5 293.56 L192 293.55 L192.5 293.66 L193 293.83 L193.5 293.98 L194 294.06 L194.5 294.12 L195 294.18 L195.5 294.25 L196 294.32 L196.5 294.36 L197 294.34 L197.5 294.27 L198 294.15 L198.5 294.03 L199 293.96 L199.5 293.93 L200 293.92 L200.5 293.9 L201 293.85 L201.5 293.81 L202 293.81 L202.5 293.87 L203 293.98 L203.5 294.13 L204 294.27 L204.5 294.41 L205 294.52 L205.5 294.6 L206 294.61 L206.5 294.53 L207 294.4 L207.5 294.27 L208 294.17 L208.5 294.1 L209 294.06 L209.5 294.03 L210 294.04 L210.5 294.09 L211 294.19 L211.5 294.33 L212 294.44 L212.5 294.45 L213 294.33 L213.5 294.17 L214 294.03 L214.5 293.96 L215 293.97 L215.5 294.04 L216 294.14 L216.5 294.24 L217 294.3 L217.5 294.31 L218 294.29 L218.5 294.26 L219 294.25 L219.5 294.29 L220 294.41 L220.5 294.57 L221 294.71 L221.5 294.77 L222 294.71 L222.5 294.55 L223 294.34 L223.5 294.16 L224 294.07 L224.5 294.09 L225 294.15 L225.5 294.21 L226 294.25 L226.5 294.27 L227 294.31 L227.5 294.38 L228 294.45 L228.5 294.49 L229 294.49 L229.5 294.45 L230 294.4 L230.5 294.35 L231 294.3 L231.5 294.23 L232 294.13 L232.5 294.01 L233 293.91 L233.5 293.84 L234 293.8 L234.5 293.74 L235 293.67 L235.5 293.63 L236 293.68 L236.5 293.82 L237 294.03 L237.5 294.22 L238 294.33 L238.5 294.36 L239 294.34 L239.5 294.31 L240 294.32 L240.5 294.36 L241 294.4 L241.5 294.4 L242 294.39 L242.5 294.38 L243 294.43 L243.5 294.47 L244 294.45 L244.5 294.32 L245 294.15 L245.5 294.02 L246 293.99 L246.5 294.07 L247 294.19 L247.5 294.29 L248 294.29 L248.5 294.21 L249 294.09 L249.5 293.99 L250 293.96 L250.5 294.05 L251 294.2 L251.5 294.36 L252 294.43 L252.5 294.41 L253 294.36 L253.5 294.35 L254 294.41 L254.5 294.48 L255 294.52 L255.5 294.48 L256 294.38 L256.5 294.23 L257 294.08 L257.5 293.96 L258 293.89 L258.5 293.89 L259 293.93 L259.5 294.01 L260 294.11 L260.5 294.19 L261 294.24 L261.5 294.25 L262 294.22 L262.5 294.15 L263 294.08 L263.5 294.04 L264 294.07 L264.5 294.15 L265 294.23 L265.5 294.29 L266 294.35 L266.5 294.41 L267 294.46 L267.5 294.48 L268 294.46 L268.5 294.41 L269 294.35 L269.5 294.32 L270 294.36 L270.5 294.42 L271 294.46 L271.5 294.45 L272 294.36 L272.5 294.24 L273 294.13 L273.5 294.05 L274 293.96 L274.5 293.84 L275 293.7 L275.5 293.6 L276 293.59 L276.5 293.66 L277 293.79 L277.5 293.96 L278 294.16 L278.5 294.38 L279 294.57 L279.5 294.69 L280 294.71 L280.5 294.64 L281 294.49 L281.5 294.31 L282 294.16 L282.5 294.08 L283 294.08 L283.5 294.1 L284 294.13 L284.5 294.18 L285 294.27 L285.5 294.33 L286 294.31 L286.5 294.22 L287 294.09 L287.5 293.99 L288 293.93 L288.5 293.94 L289 293.99 L289.5 294.05 L290 294.07 L290.5 294.06 L291 294.05 L291.5 294.05 L292 294.08 L292.5 294.12 L293 294.16 L293.5 294.2 L294 294.23 L294.5 294.28 L295 294.36 L295.5 294.5 L296 294.66 L296.5 294.8 L297 294.87 L297.5 294.84 L298 294.78 L298.5 294.73 L299 294.7 L299.5 294.65 L300 294.53 L300.5 294.38 L301 294.27 L301.5 294.26 L302 294.37 L302.5 294.52 L303 294.63 L303.5 294.62 L304 294.45 L304.5 294.18 L305 293.93 L305.5 293.82 L306 293.85 L306.5 293.95 L307 294.02 L307.5 294.03 L308 293.99 L308.5 293.98 L309 294.03 L309.5 294.11 L310 294.19 L310.5 294.24 L311 294.26 L311.5 294.29 L312 294.33 L312.5 294.39 L313 294.47 L313.5 294.53 L314 294.53 L314.5 294.49 L315 294.44 L315.5 294.4 L316 294.37 L316.5 294.3 L317 294.21 L317.5 294.17 L318 294.23 L318.5 294.34 L319 294.47 L319.5 294.57 L320 294.65 L320.5 294.69 L321 294.68 L321.5 294.59 L322 294.42 L322.5 294.2 L323 293.97 L323.5 293.77 L324 293.62 L324.5 293.51 L325 293.42 L325.5 293.37 L326 293.39 L326.5 293.49 L327 293.63 L327.5 293.77 L328 293.87 L328.5 293.98 L329 294.11 L329.5 294.23 L330 294.29 L330.5 294.23 L331 294.05 L331.5 293.81 L332 293.63 L332.5 293.56 L333 293.61 L333.5 293.7 L334 293.78 L334.5 293.83 L335 293.87 L335.5 293.97 L336 294.15 L336.5 294.4 L337 294.62 L337.5 294.75 L338 294.72 L338.5 294.59 L339 294.4 L339.5 294.26 L340 294.2 L340.5 294.24 L341 294.34 L341.5 294.41 L342 294.42 L342.5 294.4 L343 294.41 L343.5 294.42 L344 294.38 L344.5 294.31 L345 294.26 L345.5 294.29 L346 294.37 L346.5 294.44 L347 294.44 L347.5 294.39 L348 294.35 L348.5 294.35 L349 294.38 L349.5 294.42 L350 294.47 L350.5 294.52 L351 294.54 L351.5 294.51 L352 294.45 L352.5 294.39 L353 294.36 L353.5 294.35 L354 294.32 L354.5 294.24 L355 294.11 L355.5 293.99 L356 293.9 L356.5 293.85 L357 293.84 L357.5 293.84 L358 293.82 L358.5 293.83 L359 293.93 L359.5 294.12 L360 294.38 L360.5 294.59 L361 294.67 L361.5 294.6 L362 294.48 L362.5 294.41 L363 294.43 L363.5 294.51 L364 294.53 L364.5 294.48 L365 294.4 L365.5 294.35 L366 294.35 L366.5 294.37 L367 294.36 L367.5 294.31 L368 294.23 L368.5 294.16 L369 294.13 L369.5 294.2 L370 294.35 L370.5 294.51 L371 294.6 L371.5 294.55 L372 294.4 L372.5 294.21 L373 294.04 L373.5 293.94 L374 293.95 L374.5 294.03 L375 294.14 L375.5 294.18 L376 294.12 L376.5 294.03 L377 294 L377.5 294.1 L378 294.29 L378.5 294.45 L379 294.46 L379.5 294.28 L380 294.01 L380.5 293.79 L381 293.72 L381.5 293.78 L382 293.92 L382.5 294.06 L383 294.18 L383.5 294.27 L384 294.32 L384.5 294.33 L385 294.33 L385.5 294.34 L386 294.36 L386.5 294.36 L387 294.3 L387.5 294.21 L388 294.13 L388.5 294.12 L389 294.17 L389.5 294.25 L390 294.35 L390.5 294.46 L391 294.57 L391.5 294.65 L392 294.71 L392.5 294.74 L393 294.75 L393.5 294.75 L394 294.7 L394.5 294.61 L395 294.47 L395.5 294.34 L396 294.25 L396.5 294.24 L397 294.27 L397.5 294.31 L398 294.3 L398.5 294.24 L399 294.16 L399.5 294.1 L400 294.07 L400.5 294.04 L401 294 L401.5 293.97 L402 293.98 L402.5 294.05 L403 294.16 L403.5 294.25 L404 294.28 L404.5 294.23 L405 294.16 L405.5 294.14 L406 294.17 L406.5 294.2 L407 294.19 L407.5 294.15 L408 294.12 L408.5 294.15 L409 294.26 L409.5 294.39 L410 294.47 L410.5 294.47 L411 294.39 L411.5 294.29 L412 294.24 L412.5 294.27 L413 294.36 L413.5 294.47 L414 294.54 L414.5 294.57 L415 294.59 L415.5 294.61 L416 294.62 L416.5 294.57 L417 294.45 L417.5 294.32 L418 294.25 L418.5 294.26 L419 294.34 L419.5 294.44 L420 294.53 L420.5 294.58 L421 294.58 L421.5 294.52 L422 294.4 L422.5 294.26 L423 294.13 L423.5 294.05 L424 294.06 L424.5 294.19 L425 294.41 L425.5 294.67 L426 294.87 L426.5 294.96 L427 294.96 L427.5 294.89 L428 294.79 L428.5 294.64 L429 294.47 L429.5 294.38 L430 294.43 L430.5 294.57 L431 294.67 L431.5 294.68 L432 294.63 L432.5 294.6 L433 294.62 L433.5 294.68 L434 294.76 L434.5 294.89 L435 295.06 L435.5 295.21 L436 295.21 L436.5 295 L437 294.64 L437.5 294.27 L438 294.05 L438.5 294.03 L439 294.14 L439.5 294.22 L440 294.21 L440.5 294.17 L441 294.21 L441.5 294.38 L442 294.62 L442.5 294.82 L443 294.9 L443.5 294.82 L444 294.65 L444.5 294.49 L445 294.4 L445.5 294.4 L446 294.43 L446.5 294.43 L447 294.37 L447.5 294.23 L448 294.04 L448.5 293.89 L449 293.82 L449.5 293.87 L450 294.03 L450.5 294.2 L451 294.32 L451.5 294.34 L452 294.27 L452.5 294.06 L453 293.7 L453.5 293.24 L454 292.75 L454.5 292.31 L455 292.12 L455.5 292.31 L456 292.71 L456.5 293.09 L457 293.44 L457.5 293.74 L458 293.96 L458.5 294.11 L459 294.23 L459.5 294.39 L460 294.56 L460.5 294.68 L461 294.7 L461.5 294.63 L462 294.54 L462.5 294.48 L463 294.5 L463.5 294.61 L464 294.76 L464.5 294.88 L465 294.88 L465.5 294.77 L466 294.62 L466.5 294.5 L467 294.45 L467.5 294.45 L468 294.45 L468.5 294.43 L469 294.43 L469.5 294.49 L470 294.59 L470.5 294.67 L471 294.73 L471.5 294.78 L472 294.83 L472.5 294.82 L473 294.7 L473.5 294.53 L474 294.38 L474.5 294.31 L475 294.32 L475.5 294.36 L476 294.36 L476.5 294.3 L477 294.21 L477.5 294.17 L478 294.17 L478.5 294.15 L479 294.04 L479.5 293.85 L480 293.64 L480.5 293.51 L481 293.5 L481.5 293.57 L482 293.68 L482.5 293.81 L483 293.95 L483.5 294.08 L484 294.17 L484.5 294.18 L485 294.12 L485.5 294.04 L486 294.01 L486.5 294.09 L487 294.27 L487.5 294.44 L488 294.55 L488.5 294.55 L489 294.48 L489.5 294.37 L490 294.25 L490.5 294.12 L491 293.99 L491.5 293.86 L492 293.75 L492.5 293.68 L493 293.64 L493.5 293.59 L494 293.54 L494.5 293.45 L495 293.33 L495.5 293.13 L496 292.78 L496.5 292.26 L497 291.75 L497.3 291.63 L497.5 291.71 L498 292.24 L498.5 292.92 L499 293.46 L499.5 293.79 L500 293.97 L500.5 294.1 L501 294.2 L501.5 294.27 L502 294.27 L502.5 294.19 L503 294.07 L503.5 294 L504 294.05 L504.5 294.21 L505 294.43 L505.5 294.6 L506 294.69 L506.5 294.69 L507 294.64 L507.5 294.59 L508 294.55 L508.5 294.53 L509 294.48 L509.5 294.38 L510 294.25 L510.5 294.14 L511 294.1 L511.5 294.14 L512 294.26 L512.5 294.46 L513 294.68 L513.5 294.83 L514 294.85 L514.5 294.75 L515 294.61 L515.5 294.5 L516 294.45 L516.5 294.46 L517 294.54 L517.5 294.65 L518 294.77 L518.5 294.89 L519 295 L519.5 295.12 L520 295.24 L520.5 295.29 L521 295.19 L521.5 294.94 L522 294.64 L522.5 294.4 L523 294.28 L523.5 294.23 L524 294.18 L524.5 294.1 L525 294.05 L525.5 294.09 L526 294.22 L526.5 294.38 L527 294.51 L527.5 294.55 L528 294.53 L528.5 294.5 L529 294.49 L529.5 294.5 L530 294.51 L530.5 294.52 L531 294.52 L531.5 294.51 L532 294.46 L532.5 294.35 L533 294.21 L533.5 294.07 L534 293.91 L534.5 293.71 L535 293.51 L535.5 293.39 L536 293.38 L536.5 293.47 L537 293.57 L537.5 293.6 L538 293.45 L538.5 293.03 L539 292.32 L539.5 291.37 L540 290.44 L540.5 290.07 L541 290.57 L541.5 291.47 L542 292.24 L542.5 292.74 L543 293.05 L543.5 293.27 L544 293.42 L544.5 293.53 L545 293.63 L545.5 293.74 L546 293.89 L546.5 294.04 L547 294.12 L547.5 294.08 L548 293.94 L548.5 293.76 L549 293.66 L549.5 293.66 L550 293.77 L550.5 293.9 L551 293.98 L551.5 293.94 L552 293.75 L552.5 293.46 L553 293.14 L553.5 292.85 L554 292.65 L554.5 292.58 L555 292.62 L555.5 292.66 L556 292.63 L556.5 292.49 L557 292.3 L557.5 292.11 L558 291.92 L558.5 291.67 L559 291.3 L559.5 290.79 L560 290.15 L560.5 289.35 L561 288.31 L561.5 286.92 L562 285.05 L562.5 282.55 L563 279.19 L563.5 274.62 L564 268.19 L564.5 258.62 L565 248.63 L565.1 248.22 L565.5 254.03 L566 264.92 L566.5 272.39 L567 277.52 L567.5 281.25 L568 283.99 L568.5 286 L569 287.44 L569.5 288.51 L570 289.35 L570.5 290.09 L571 290.77 L571.5 291.41 L572 291.99 L572.5 292.48 L573 292.85 L573.5 293.08 L574 293.17 L574.5 293.18 L575 293.19 L575.5 293.27 L576 293.42 L576.5 293.56 L577 293.63 L577.5 293.66 L578 293.7 L578.5 293.78 L579 293.86 L579.5 293.9 L580 293.87 L580.5 293.76 L581 293.63 L581.5 293.5 L582 293.43 L582.5 293.39 L583 293.34 L583.5 293.28 L584 293.2 L584.5 293.13 L585 293.09 L585.5 293.1 L586 293.17 L586.5 293.26 L587 293.29 L587.5 293.22 L588 293.05 L588.5 292.83 L589 292.62 L589.5 292.51 L590 292.51 L590.5 292.62 L591 292.78 L591.5 292.94 L592 293.04 L592.5 293.05 L593 292.96 L593.5 292.81 L594 292.63 L594.5 292.46 L595 292.34 L595.5 292.27 L596 292.19 L596.5 292.03 L597 291.74 L597.5 291.32 L598 290.81 L598.5 290.24 L599 289.62 L599.5 288.96 L600 288.26 L600.5 287.53 L601 286.75 L601.5 285.83 L602 284.65 L602.5 283.07 L603 280.99 L603.5 278.27 L604 274.74 L604.5 270.01 L605 263.54 L605.5 254.59 L606 242.11 L606.5 224 L607 197.74 L607.4 183.77 L607.5 184.78 L608 208.73 L608.5 231.57 L609 246.83 L609.5 257.65 L610 265.61 L610.5 271.52 L611 275.91 L611.5 279.17 L612 281.64 L612.5 283.57 L613 285.12 L613.5 286.34 L614 287.3 L614.5 288.09 L615 288.83 L615.5 289.53 L616 290.15 L616.5 290.69 L617 291.14 L617.5 291.56 L618 291.96 L618.5 292.31 L619 292.55 L619.5 292.68 L620 292.76 L620.5 292.82 L621 292.85 L621.5 292.86 L622 292.84 L622.5 292.82 L623 292.79 L623.5 292.77 L624 292.76 L624.5 292.77 L625 292.82 L625.5 292.91 L626 293.05 L626.5 293.24 L627 293.44 L627.5 293.58 L628 293.64 L628.5 293.61 L629 293.54 L629.5 293.45 L630 293.37 L630.5 293.33 L631 293.32 L631.5 293.27 L632 293.18 L632.5 293.04 L633 292.91 L633.5 292.84 L634 292.85 L634.5 292.91 L635 292.96 L635.5 292.95 L636 292.87 L636.5 292.72 L637 292.52 L637.5 292.3 L638 292.1 L638.5 291.93 L639 291.79 L639.5 291.66 L640 291.52 L640.5 291.36 L641 291.17 L641.5 290.89 L642 290.45 L642.5 289.78 L643 288.88 L643.5 287.78 L644 286.56 L644.5 285.22 L645 283.7 L645.5 281.82 L646 279.33 L646.5 275.93 L647 271.3 L647.5 265.06 L648 256.63 L648.5 244.89 L649 227.38 L649.5 205.52 L649.7 202.17 L650 209.34 L650.5 231.77 L651 248.09 L651.5 259.26 L652 267.34 L652.5 273.26 L653 277.57 L653.5 280.7 L654 283.03 L654.5 284.86 L655 286.38 L655.5 287.67 L656 288.77 L656.5 289.66 L657 290.3 L657.5 290.67 L658 290.86 L658.5 290.99 L659 291.18 L659.5 291.49 L660 291.91 L660.5 292.39 L661 292.82 L661.5 293.1 L662 293.22 L662.5 293.25 L663 293.28 L663.5 293.34 L664 293.37 L664.5 293.33 L665 293.22 L665.5 293.1 L666 293.05 L666.5 293.08 L667 293.13 L667.5 293.15 L668 293.1 L668.5 292.97 L669 292.76 L669.5 292.39 L670 291.84 L670.5 291.22 L671 290.92 L671.5 291.21 L672 291.81 L672.5 292.32 L673 292.67 L673.5 292.95 L674 293.22 L674.5 293.45 L675 293.58 L675.5 293.58 L676 293.56 L676.5 293.57 L677 293.65 L677.5 293.76 L678 293.88 L678.5 293.98 L679 294.05 L679.5 294.08 L680 294.08 L680.5 294.07 L681 294.02 L681.5 293.92 L682 293.81 L682.5 293.74 L683 293.7 L683.5 293.66 L684 293.59 L684.5 293.45 L685 293.26 L685.5 293.05 L686 292.82 L686.5 292.57 L687 292.27 L687.5 291.88 L688 291.37 L688.5 290.7 L689 289.82 L689.5 288.62 L690 286.96 L690.5 284.61 L691 281.31 L691.5 276.45 L692 269.81 L692.3 267.6 L692.5 268.49 L693 274.83 L693.5 280.01 L694 283.58 L694.5 286.18 L695 288.07 L695.5 289.41 L696 290.32 L696.5 290.91 L697 291.29 L697.5 291.56 L698 291.8 L698.5 292.07 L699 292.38 L699.5 292.71 L700 293.01 L700.5 293.23 L701 293.4 L701.5 293.52 L702 293.64 L702.5 293.75 L703 293.82 L703.5 293.81 L704 293.74 L704.5 293.68 L705 293.72 L705.5 293.88 L706 294.1 L706.5 294.31 L707 294.48 L707.5 294.59 L708 294.64 L708.5 294.63 L709 294.54 L709.5 294.38 L710 294.18 L710.5 294.01 L711 293.92 L711.5 293.95 L712 294.08 L712.5 294.27 L713 294.44 L713.5 294.5 L714 294.43 L714.5 294.29 L715 294.12 L715.5 293.96 L716 293.87 L716.5 293.86 L717 293.94 L717.5 294.03 L718 294.03 L718.5 293.95 L719 293.86 L719.5 293.87 L720 293.98 L720.5 294.12 L721 294.22 L721.5 294.27 L722 294.29 L722.5 294.28 L723 294.28 L723.5 294.28 L724 294.31 L724.5 294.35 L725 294.4 L725.5 294.46 L726 294.53 L726.5 294.58 L727 294.56 L727.5 294.49 L728 294.38 L728.5 294.25 L729 294.13 L729.5 294.06 L730 294.03 L730.5 294.05 L731 294.11 L731.5 294.18 L732 294.19 L732.5 294.1 L733 293.92 L733.5 293.71 L734 293.56 L734.5 293.54 L735 293.63 L735.5 293.74 L736 293.84 L736.5 293.9 L737 293.96 L737.5 294.05 L738 294.18 L738.5 294.33 L739 294.48 L739.5 294.59 L740 294.64 L740.5 294.65 L741 294.63 L741.5 294.6 L742 294.58 L742.5 294.54 L743 294.46 L743.5 294.32 L744 294.13 L744.5 293.96 L745 293.88 L745.5 293.94 L746 294.09 L746.5 294.27 L747 294.4 L747.5 294.45 L748 294.44 L748.5 294.4 L749 294.39 L749.5 294.45 L750 294.58 L750.5 294.72 L751 294.81 L751.5 294.79 L752 294.73 L752.5 294.68 L753 294.68 L753.5 294.72 L754 294.78 L754.5 294.84 L755 294.88 L755.5 294.88 L756 294.83 L756.5 294.77 L757 294.72 L757.5 294.71 L758 294.74 L758.5 294.81 L759 294.89 L759.5 294.97 L760 295 L760.5 294.97 L761 294.94 L761.5 294.97 L762 295.03 L762.5 295.1 L763 295.13 L763.5 295.11 L764 295.07 L764.5 295 L765 294.92 L765.5 294.84 L766 294.74 L766.5 294.61 L767 294.44 L767.5 294.32 L768 294.31 L768.5 294.42 L769 294.54 L769.5 294.6 L770 294.58 L770.5 294.53 L771 294.52 L771.5 294.6 L772 294.72 L772.5 294.82 L773 294.85 L773.5 294.83 L774 294.81 L774.5 294.83 L775 294.88 L775.5 294.92 L776 294.91 L776.5 294.83 L777 294.65 L777.5 294.43 L778 294.23 L778.5 294.14 L779 294.18 L779.5 294.27 L780 294.35 L780.5 294.38 L781 294.37 L781.5 294.37 L782 294.4 L782.5 294.49 L783 294.6 L783.5 294.68 L784 294.68 L784.5 294.58 L785 294.38 L785.5 294.16 L786 294.01 L786.5 293.99 L787 294.08 L787.5 294.21 L788 294.33 L788.5 294.41 L789 294.41 L789.5 294.34 L790 294.29 L790.5 294.35 L791 294.56 L791.5 294.82 L792 295 L792.5 294.98 L793 294.78 L793.5 294.46 L794 294.14 L794.5 293.95 L795 293.95 L795.5 294.08 L796 294.19 L796.5 294.25 L797 294.25 L797.5 294.27 L798 294.33 L798.5 294.42 L799 294.48 L799.5 294.49 L800 294.45 L800.5 294.38 L801 294.3 L801.5 294.2 L802 294.07 L802.5 293.94 L803 293.85 L803.5 293.81 L804 293.81 L804.5 293.87 L805 294 L805.5 294.23 L806 294.51 L806.5 294.76 L807 294.91 L807.5 294.93 L808 294.82 L808.5 294.62 L809 294.4 L809.5 294.26 L810 294.24 L810.5 294.29 L811 294.36 L811.5 294.41 L812 294.47 L812.5 294.56 L813 294.67 L813.5 294.76 L814 294.8 L814.5 294.81 L815 294.8 L815.5 294.79 L816 294.77 L816.5 294.71 L817 294.64 L817.5 294.58 L818 294.56 L818.5 294.59 L819 294.66 L819.5 294.75 L820 294.83 L820.5 294.88 L821 294.89 L821.5 294.9 L822 294.95 L822.5 295.03 L823 295.11 L823.5 295.12 L824 295.07 L824.5 295 L825 294.95 L825.5 294.92 L826 294.88 L826.5 294.81 L827 294.73 L827.5 294.72 L828 294.83 L828.5 295.03 L829 295.22 L829.5 295.3 L830 295.22 L830.5 295.03 L831 294.84 L831.5 294.74 L832 294.75 L832.5 294.82 L833 294.9 L833.5 294.92 L834 294.87 L834.5 294.76 L835 294.62 L835.5 294.46 L836 294.32 L836.5 294.24 L837 294.24 L837.5 294.3 L838 294.39 L838.5 294.5 L839 294.6 L839.5 294.7 L840 294.8 L840.5 294.89 L841 294.96 L841.5 294.99 L842 295.02 L842.5 295.06 L843 295.11 L843.5 295.18 L844 295.24 L844.5 295.27 L845 295.28 L845.5 295.25 L846 295.18 L846.5 295.06 L847 294.89 L847.5 294.73 L848 294.6 L848.5 294.54 L849 294.57 L849.5 294.67 L850 294.77 L850.5 294.81 L851 294.77 L851.5 294.67 L852 294.56 L852.5 294.49 L853 294.47 L853.5 294.46 L854 294.47 L854.5 294.48 L855 294.53 L855.5 294.63 L856 294.74 L856.5 294.85 L857 294.94 L857.5 295.01 L858 295.06 L858.5 295.05 L859 294.95 L859.5 294.78 L860 294.61 L860.5 294.52 L861 294.52 L861.5 294.56 L862 294.6 L862.5 294.62 L863 294.6 L863.5 294.55 L864 294.47 L864.5 294.36 L865 294.23 L865.5 294.13 L866 294.12 L866.5 294.18 L867 294.3 L867.5 294.42 L868 294.51 L868.5 294.57 L869 294.61 L869.5 294.66 L870 294.74 L870.5 294.84 L871 294.9 L871.5 294.88 L872 294.79 L872.5 294.68 L873 294.58 L873.5 294.51 L874 294.45 L874.5 294.42 L875 294.44 L875.5 294.53 L876 294.66 L876.5 294.8 L877 294.96 L877.5 295.14 L878 295.29 L878.5 295.34 L879 295.26 L879.5 295.08 L880 294.91 L880.5 294.81 L881 294.76 L881.5 294.71 L882 294.64 L882.5 294.56 L883 294.48 L883.5 294.43 L884 294.39 L884.5 294.39 L885 294.46 L885.5 294.55 L886 294.63 L886.5 294.65 L887 294.65 L887.5 294.68 L888 294.73 L888.5 294.74 L889 294.69 L889.5 294.58 L890 294.48 L890.5 294.41 L891 294.4 L891.5 294.47 L892 294.6 L892.5 294.77 L893 294.9 L893.5 294.94 L894 294.87 L894.5 294.74 L895 294.63 L895.5 294.58 L896 294.57 L896.5 294.58 L897 294.58 L897.5 294.59 L898 294.57 L898.5 294.52 L899 294.47 L899.5 294.44 L900 294.46 L900.5 294.5 L901 294.51 L901.5 294.47 L902 294.37 L902.5 294.26 L903 294.19 L903.5 294.2 L904 294.3 L904.5 294.47 L905 294.7 L905.5 294.9 L906 295 L906.5 294.98 L907 294.89 L907.5 294.8 L908 294.7 L908.5 294.61 L909 294.54 L909.5 294.53 L910 294.57 L910.5 294.63 L911 294.69 L911.5 294.73 L912 294.72 L912.5 294.63 L913 294.46 L913.5 294.29 L914 294.23 L914.5 294.33 L915 294.57 L915.5 294.86 L916 295.09 L916.5 295.21 L917 295.23 L917.5 295.18 L918 295.07 L918.5 294.91 L919 294.71 L919.5 294.5 L920 294.37 L920.5 294.37 L921 294.54 L921.5 294.85 L922 295.14 L922.5 295.3 L923 295.28 L923.5 295.18 L924 295.12 L924.5 295.16 L925 295.23 L925.5 295.23 L926 295.06 L926.5 294.77 L927 294.48 L927.5 294.33 L928 294.36 L928.5 294.56 L929 294.84 L929.5 295.12 L930 295.32 L930.5 295.45 L931 295.49 L931.5 295.47 L932 295.37 L932.5 295.22 L933 295.05 L933.5 294.88 L934 294.74 L934.5 294.66 L935 294.63 L935.5 294.62 L936 294.62 L936.5 294.59 L937 294.54 L937.5 294.52 L938 294.56 L938.5 294.68 L939 294.83 L939.5 294.97 L940 295.03 L940.5 295 L941 294.91 L941.5 294.86 L942 294.92 L942.5 295.08 L943 295.25 L943.5 295.33 L944 295.29 L944.5 295.16 L945 295.02 L945.5 294.9 L946 294.79 L946.5 294.71 L947 294.69 L947.5 294.74 L948 294.83 L948.5 294.94 L949 295.05 L949.5 295.16 L950 295.24 L950.5 295.25 L951 295.19 L951.5 295.06 L952 294.93 L952.5 294.86 L953 294.85 L953.5 294.88 L954 294.89 L954.5 294.87 L955 294.84 L955.5 294.83 L956 294.83 L956.5 294.84 L957 294.86 L957.5 294.86 L958 294.84 L958.5 294.85 L959 294.89 L959.5 294.95 L960 294.97 L960.5 294.97 L961 295 L961.5 295.12 L962 295.27 L962.5 295.41 L963 295.47 L963.5 295.48 L964 295.46 L964.5 295.41 L965 295.35 L965.5 295.28 L966 295.2 L966.5 295.1 L967 294.97 L967.5 294.82 L968 294.7 L968.5 294.67 L969 294.75 L969.5 294.88 L970 294.98 L970.5 295 L971 294.99 L971.5 294.98 L972 295.02 L972.5 295.07 L973 295.09 L973.5 295.05 L974 294.96 L974.5 294.83 L975 294.69 L975.5 294.58 L976 294.52 L976.5 294.5 L977 294.53 L977.5 294.58 L978 294.64 L978.5 294.7 L979 294.73 L979.5 294.75 L980 294.8 L980.5 294.87 L981 294.94 L981.5 294.94 L982 294.89 L982.5 294.88 L983 294.94 L983.5 295.03 L984 295.1 L984.5 295.12 L985 295.12 L985.5 295.1 L986 295.05 L986.5 295 L987 294.96 L987.5 294.96 L988 294.95 L988.5 294.91 L989 294.85 L989.5 294.8 L990 294.78" fill="none" stroke="#000" stroke-width="3.6" stroke-linejoin="round" stroke-linecap="round"/>
<text x="557" y="238" font-size="20" font-weight="bold" text-anchor="middle" fill="#000">10529</text>
<text x="599.9" y="173.6" font-size="20" font-weight="bold" text-anchor="middle" fill="#000">10675</text>
<text x="652.5" y="192.5" font-size="20" font-weight="bold" text-anchor="middle" fill="#000">10821</text>
<text x="689.1" y="256.3" font-size="15" font-weight="bold" text-anchor="middle" fill="#000">10967</text>
<line x1="565" y1="239" x2="565" y2="244" stroke="#9a9a9a" stroke-width="1"/>
<line x1="607.4" y1="175" x2="607.4" y2="180" stroke="#9a9a9a" stroke-width="1"/>
<line x1="650" y1="194" x2="650" y2="198" stroke="#9a9a9a" stroke-width="1"/>
<line x1="692" y1="258" x2="692" y2="263" stroke="#9a9a9a" stroke-width="1"/>
<text x="850" y="247.9" font-size="37" font-weight="normal" text-anchor="start" fill="#000">&#916;</text>
<text x="872.5" y="247.9" font-size="37" font-weight="bold" text-anchor="start" fill="#000" font-style="italic">vioM</text>
<text x="6.8" y="339.2" font-size="28" font-weight="bold" text-anchor="start" fill="#000" letter-spacing="1.4">(c)</text>
<path d="M32 445.29 L32.5 445.2 L33 445.11 L33.5 445.02 L34 444.92 L34.5 444.8 L35 444.67 L35.5 444.54 L36 444.57 L36.5 444.95 L37 445.41 L37.5 445.75 L38 445.96 L38.5 446.04 L39 446.02 L39.5 445.89 L40 445.74 L40.5 445.69 L41 445.72 L41.5 445.78 L42 445.84 L42.5 445.86 L43 445.84 L43.5 445.78 L44 445.7 L44.5 445.59 L45 445.47 L45.5 445.34 L46 445.24 L46.5 445.2 L47 445.21 L47.5 445.2 L48 445.2 L48.5 445.26 L49 445.43 L49.5 445.69 L50 445.95 L50.5 446.09 L51 446.09 L51.5 445.96 L52 445.76 L52.5 445.59 L53 445.49 L53.5 445.47 L54 445.5 L54.5 445.56 L55 445.6 L55.5 445.57 L56 445.47 L56.5 445.31 L57 445.11 L57.5 444.89 L58 444.7 L58.5 444.59 L59 444.61 L59.5 444.77 L60 444.99 L60.5 445.19 L61 445.3 L61.5 445.3 L62 445.19 L62.5 445.06 L63 445.05 L63.5 445.19 L64 445.41 L64.5 445.58 L65 445.66 L65.5 445.67 L66 445.66 L66.5 445.62 L67 445.53 L67.5 445.43 L68 445.34 L68.5 445.28 L69 445.28 L69.5 445.33 L70 445.42 L70.5 445.52 L71 445.6 L71.5 445.63 L72 445.63 L72.5 445.65 L73 445.71 L73.5 445.78 L74 445.82 L74.5 445.79 L75 445.7 L75.5 445.61 L76 445.58 L76.5 445.6 L77 445.65 L77.5 445.69 L78 445.68 L78.5 445.63 L79 445.57 L79.5 445.56 L80 445.61 L80.5 445.7 L81 445.79 L81.5 445.85 L82 445.85 L82.5 445.77 L83 445.64 L83.5 445.5 L84 445.44 L84.5 445.51 L85 445.67 L85.5 445.86 L86 446 L86.5 446.09 L87 446.13 L87.5 446.15 L88 446.11 L88.5 446.02 L89 445.86 L89.5 445.66 L90 445.44 L90.5 445.29 L91 445.26 L91.5 445.37 L92 445.53 L92.5 445.64 L93 445.69 L93.5 445.68 L94 445.69 L94.5 445.74 L95 445.84 L95.5 445.94 L96 445.96 L96.5 445.88 L97 445.72 L97.5 445.58 L98 445.54 L98.5 445.6 L99 445.71 L99.5 445.81 L100 445.85 L100.5 445.83 L101 445.79 L101.5 445.76 L102 445.76 L102.5 445.74 L103 445.68 L103.5 445.57 L104 445.47 L104.5 445.41 L105 445.4 L105.5 445.44 L106 445.5 L106.5 445.57 L107 445.61 L107.5 445.65 L108 445.7 L108.5 445.82 L109 445.96 L109.5 446.07 L110 446.07 L110.5 446 L111 445.91 L111.5 445.86 L112 445.84 L112.5 445.82 L113 445.78 L113.5 445.69 L114 445.56 L114.5 445.41 L115 445.29 L115.5 445.2 L116 445.17 L116.5 445.2 L117 445.3 L117.5 445.47 L118 445.61 L118.5 445.6 L119 445.43 L119.5 445.23 L120 445.11 L120.5 445.12 L121 445.2 L121.5 445.3 L122 445.4 L122.5 445.5 L123 445.58 L123.5 445.62 L124 445.61 L124.5 445.57 L125 445.54 L125.5 445.53 L126 445.53 L126.5 445.54 L127 445.52 L127.5 445.49 L128 445.46 L128.5 445.48 L129 445.52 L129.5 445.54 L130 445.51 L130.5 445.42 L131 445.3 L131.5 445.15 L132 445.03 L132.5 444.98 L133 445.04 L133.5 445.23 L134 445.51 L134.5 445.82 L135 446.09 L135.5 446.22 L136 446.16 L136.5 445.96 L137 445.72 L137.5 445.55 L138 445.54 L138.5 445.66 L139 445.83 L139.5 445.98 L140 446.04 L140.5 445.98 L141 445.81 L141.5 445.59 L142 445.39 L142.5 445.25 L143 445.18 L143.5 445.2 L144 445.32 L144.5 445.52 L145 445.78 L145.5 445.99 L146 446.05 L146.5 445.97 L147 445.85 L147.5 445.82 L148 445.88 L148.5 445.97 L149 445.98 L149.5 445.89 L150 445.77 L150.5 445.67 L151 445.64 L151.5 445.67 L152 445.68 L152.5 445.61 L153 445.47 L153.5 445.32 L154 445.24 L154.5 445.29 L155 445.44 L155.5 445.63 L156 445.79 L156.5 445.94 L157 446.05 L157.5 446.12 L158 446.12 L158.5 446.05 L159 445.93 L159.5 445.79 L160 445.62 L160.5 445.44 L161 445.3 L161.5 445.31 L162 445.51 L162.5 445.81 L163 446.07 L163.5 446.15 L164 446.05 L164.5 445.86 L165 445.65 L165.5 445.49 L166 445.42 L166.5 445.44 L167 445.54 L167.5 445.7 L168 445.88 L168.5 446.03 L169 446.12 L169.5 446.11 L170 446.03 L170.5 445.92 L171 445.84 L171.5 445.81 L172 445.83 L172.5 445.89 L173 445.99 L173.5 446.1 L174 446.16 L174.5 446.13 L175 446 L175.5 445.83 L176 445.66 L176.5 445.54 L177 445.49 L177.5 445.5 L178 445.55 L178.5 445.57 L179 445.57 L179.5 445.54 L180 445.51 L180.5 445.47 L181 445.42 L181.5 445.39 L182 445.43 L182.5 445.56 L183 445.75 L183.5 445.95 L184 446.12 L184.5 446.23 L185 446.26 L185.5 446.2 L186 446.12 L186.5 446.04 L187 445.95 L187.5 445.82 L188 445.66 L188.5 445.55 L189 445.54 L189.5 445.58 L190 445.56 L190.5 445.45 L191 445.33 L191.5 445.29 L192 445.35 L192.5 445.45 L193 445.51 L193.5 445.51 L194 445.47 L194.5 445.4 L195 445.33 L195.5 445.31 L196 445.38 L196.5 445.54 L197 445.74 L197.5 445.93 L198 446.07 L198.5 446.12 L199 446.09 L199.5 445.96 L200 445.8 L200.5 445.64 L201 445.53 L201.5 445.49 L202 445.48 L202.5 445.48 L203 445.46 L203.5 445.45 L204 445.49 L204.5 445.6 L205 445.78 L205.5 445.94 L206 446 L206.5 445.95 L207 445.84 L207.5 445.71 L208 445.58 L208.5 445.51 L209 445.51 L209.5 445.56 L210 445.62 L210.5 445.65 L211 445.65 L211.5 445.61 L212 445.55 L212.5 445.49 L213 445.46 L213.5 445.45 L214 445.47 L214.5 445.52 L215 445.61 L215.5 445.7 L216 445.76 L216.5 445.75 L217 445.67 L217.5 445.59 L218 445.54 L218.5 445.55 L219 445.6 L219.5 445.68 L220 445.75 L220.5 445.79 L221 445.8 L221.5 445.77 L222 445.78 L222.5 445.84 L223 445.94 L223.5 445.99 L224 445.92 L224.5 445.74 L225 445.56 L225.5 445.48 L226 445.53 L226.5 445.63 L227 445.7 L227.5 445.71 L228 445.64 L228.5 445.55 L229 445.48 L229.5 445.47 L230 445.52 L230.5 445.58 L231 445.6 L231.5 445.61 L232 445.62 L232.5 445.65 L233 445.67 L233.5 445.66 L234 445.65 L234.5 445.66 L235 445.67 L235.5 445.64 L236 445.6 L236.5 445.59 L237 445.64 L237.5 445.76 L238 445.86 L238.5 445.89 L239 445.84 L239.5 445.73 L240 445.62 L240.5 445.55 L241 445.55 L241.5 445.62 L242 445.71 L242.5 445.8 L243 445.85 L243.5 445.86 L244 445.8 L244.5 445.65 L245 445.46 L245.5 445.28 L246 445.19 L246.5 445.21 L247 445.33 L247.5 445.46 L248 445.58 L248.5 445.64 L249 445.63 L249.5 445.57 L250 445.52 L250.5 445.53 L251 445.61 L251.5 445.71 L252 445.78 L252.5 445.8 L253 445.79 L253.5 445.74 L254 445.62 L254.5 445.45 L255 445.3 L255.5 445.2 L256 445.19 L256.5 445.25 L257 445.4 L257.5 445.58 L258 445.75 L258.5 445.86 L259 445.97 L259.5 446.1 L260 446.26 L260.5 446.37 L261 446.4 L261.5 446.37 L262 446.34 L262.5 446.33 L263 446.32 L263.5 446.26 L264 446.15 L264.5 446.02 L265 445.92 L265.5 445.85 L266 445.83 L266.5 445.85 L267 445.85 L267.5 445.77 L268 445.63 L268.5 445.51 L269 445.5 L269.5 445.59 L270 445.73 L270.5 445.86 L271 445.98 L271.5 446.12 L272 446.27 L272.5 446.4 L273 446.42 L273.5 446.32 L274 446.16 L274.5 446.02 L275 445.92 L275.5 445.85 L276 445.76 L276.5 445.67 L277 445.6 L277.5 445.56 L278 445.57 L278.5 445.63 L279 445.71 L279.5 445.75 L280 445.69 L280.5 445.54 L281 445.35 L281.5 445.22 L282 445.2 L282.5 445.28 L283 445.43 L283.5 445.61 L284 445.78 L284.5 445.93 L285 446 L285.5 445.95 L286 445.79 L286.5 445.58 L287 445.45 L287.5 445.46 L288 445.64 L288.5 445.91 L289 446.19 L289.5 446.39 L290 446.51 L290.5 446.54 L291 446.5 L291.5 446.43 L292 446.31 L292.5 446.13 L293 445.89 L293.5 445.68 L294 445.59 L294.5 445.59 L295 445.6 L295.5 445.58 L296 445.55 L296.5 445.61 L297 445.77 L297.5 445.98 L298 446.1 L298.5 446.06 L299 445.87 L299.5 445.63 L300 445.44 L300.5 445.34 L301 445.32 L301.5 445.34 L302 445.37 L302.5 445.42 L303 445.48 L303.5 445.56 L304 445.64 L304.5 445.7 L305 445.72 L305.5 445.69 L306 445.63 L306.5 445.53 L307 445.44 L307.5 445.38 L308 445.4 L308.5 445.48 L309 445.6 L309.5 445.72 L310 445.8 L310.5 445.86 L311 445.84 L311.5 445.71 L312 445.48 L312.5 445.23 L313 445.05 L313.5 445.03 L314 445.16 L314.5 445.42 L315 445.7 L315.5 445.93 L316 446.05 L316.5 446.07 L317 446.01 L317.5 445.92 L318 445.85 L318.5 445.83 L319 445.89 L319.5 445.95 L320 445.94 L320.5 445.83 L321 445.61 L321.5 445.31 L322 444.98 L322.5 444.72 L323 444.6 L323.5 444.65 L324 444.84 L324.5 445.11 L325 445.37 L325.5 445.6 L326 445.8 L326.5 445.99 L327 446.17 L327.5 446.29 L328 446.35 L328.5 446.34 L329 446.26 L329.5 446.13 L330 446.03 L330.5 445.99 L331 446.03 L331.5 446.1 L332 446.14 L332.5 446.11 L333 446.01 L333.5 445.84 L334 445.69 L334.5 445.64 L335 445.68 L335.5 445.75 L336 445.79 L336.5 445.83 L337 445.9 L337.5 446.02 L338 446.12 L338.5 446.13 L339 446 L339.5 445.82 L340 445.69 L340.5 445.68 L341 445.75 L341.5 445.79 L342 445.8 L342.5 445.8 L343 445.85 L343.5 445.94 L344 446.03 L344.5 446.09 L345 446.11 L345.5 446.08 L346 446.03 L346.5 445.98 L347 445.96 L347.5 446.01 L348 446.14 L348.5 446.31 L349 446.45 L349.5 446.51 L350 446.49 L350.5 446.42 L351 446.33 L351.5 446.24 L352 446.12 L352.5 445.95 L353 445.76 L353.5 445.6 L354 445.5 L354.5 445.44 L355 445.44 L355.5 445.54 L356 445.76 L356.5 446.02 L357 446.18 L357.5 446.13 L358 445.96 L358.5 445.81 L359 445.8 L359.5 445.92 L360 446.07 L360.5 446.16 L361 446.15 L361.5 446.05 L362 445.95 L362.5 445.88 L363 445.83 L363.5 445.78 L364 445.73 L364.5 445.7 L365 445.68 L365.5 445.61 L366 445.5 L366.5 445.41 L367 445.39 L367.5 445.46 L368 445.55 L368.5 445.59 L369 445.57 L369.5 445.54 L370 445.57 L370.5 445.63 L371 445.68 L371.5 445.7 L372 445.69 L372.5 445.66 L373 445.61 L373.5 445.59 L374 445.63 L374.5 445.74 L375 445.85 L375.5 445.88 L376 445.82 L376.5 445.66 L377 445.45 L377.5 445.24 L378 445.09 L378.5 445.09 L379 445.29 L379.5 445.6 L380 445.89 L380.5 446.07 L381 446.1 L381.5 446.04 L382 445.94 L382.5 445.86 L383 445.79 L383.5 445.71 L384 445.61 L384.5 445.51 L385 445.43 L385.5 445.4 L386 445.45 L386.5 445.59 L387 445.79 L387.5 445.97 L388 446.09 L388.5 446.18 L389 446.26 L389.5 446.32 L390 446.32 L390.5 446.23 L391 446.09 L391.5 445.96 L392 445.92 L392.5 445.96 L393 446.02 L393.5 446.06 L394 446.05 L394.5 446.02 L395 446.02 L395.5 446.08 L396 446.22 L396.5 446.36 L397 446.41 L397.5 446.34 L398 446.18 L398.5 445.98 L399 445.78 L399.5 445.62 L400 445.53 L400.5 445.55 L401 445.67 L401.5 445.85 L402 446.03 L402.5 446.17 L403 446.22 L403.5 446.19 L404 446.08 L404.5 445.93 L405 445.81 L405.5 445.78 L406 445.81 L406.5 445.88 L407 445.94 L407.5 445.98 L408 445.98 L408.5 445.94 L409 445.88 L409.5 445.87 L410 445.94 L410.5 446.06 L411 446.14 L411.5 446.14 L412 446.09 L412.5 446.06 L413 446.09 L413.5 446.15 L414 446.17 L414.5 446.15 L415 446.13 L415.5 446.17 L416 446.24 L416.5 446.26 L417 446.18 L417.5 446.04 L418 445.92 L418.5 445.85 L419 445.85 L419.5 445.88 L420 445.87 L420.5 445.81 L421 445.7 L421.5 445.58 L422 445.49 L422.5 445.47 L423 445.52 L423.5 445.61 L424 445.71 L424.5 445.79 L425 445.83 L425.5 445.84 L426 445.84 L426.5 445.86 L427 445.89 L427.5 445.88 L428 445.75 L428.5 445.47 L429 445.06 L429.5 444.57 L430 444.07 L430.5 443.68 L431 443.65 L431.5 444.07 L432 444.63 L432.5 445.03 L433 445.21 L433.5 445.25 L434 445.21 L434.5 445.2 L435 445.25 L435.5 445.36 L436 445.47 L436.5 445.55 L437 445.62 L437.5 445.71 L438 445.87 L438.5 446.06 L439 446.24 L439.5 446.36 L440 446.39 L440.5 446.34 L441 446.19 L441.5 445.98 L442 445.76 L442.5 445.62 L443 445.61 L443.5 445.72 L444 445.9 L444.5 446.08 L445 446.2 L445.5 446.23 L446 446.22 L446.5 446.22 L447 446.23 L447.5 446.2 L448 446.06 L448.5 445.85 L449 445.67 L449.5 445.57 L450 445.52 L450.5 445.46 L451 445.44 L451.5 445.5 L452 445.64 L452.5 445.79 L453 445.9 L453.5 445.94 L454 445.92 L454.5 445.85 L455 445.75 L455.5 445.7 L456 445.74 L456.5 445.86 L457 445.98 L457.5 446 L458 445.91 L458.5 445.75 L459 445.62 L459.5 445.57 L460 445.62 L460.5 445.73 L461 445.84 L461.5 445.91 L462 445.91 L462.5 445.82 L463 445.67 L463.5 445.54 L464 445.46 L464.5 445.43 L465 445.41 L465.5 445.39 L466 445.41 L466.5 445.49 L467 445.6 L467.5 445.71 L468 445.76 L468.5 445.75 L469 445.71 L469.5 445.65 L470 445.58 L470.5 445.47 L471 445.29 L471.5 444.98 L472 444.49 L472.5 443.77 L473 442.95 L473.5 442.45 L474 442.62 L474.5 443.19 L475 443.78 L475.5 444.31 L476 444.78 L476.5 445.22 L477 445.58 L477.5 445.8 L478 445.89 L478.5 445.91 L479 445.95 L479.5 446.03 L480 446.06 L480.5 445.96 L481 445.75 L481.5 445.52 L482 445.37 L482.5 445.35 L483 445.45 L483.5 445.61 L484 445.81 L484.5 446.01 L485 446.15 L485.5 446.2 L486 446.19 L486.5 446.18 L487 446.21 L487.5 446.26 L488 446.27 L488.5 446.18 L489 445.99 L489.5 445.79 L490 445.64 L490.5 445.62 L491 445.7 L491.5 445.79 L492 445.81 L492.5 445.71 L493 445.51 L493.5 445.3 L494 445.17 L494.5 445.15 L495 445.24 L495.5 445.4 L496 445.57 L496.5 445.68 L497 445.71 L497.5 445.73 L498 445.82 L498.5 446.01 L499 446.26 L499.5 446.46 L500 446.51 L500.5 446.41 L501 446.26 L501.5 446.12 L502 446.01 L502.5 445.88 L503 445.68 L503.5 445.46 L504 445.26 L504.5 445.14 L505 445.12 L505.5 445.2 L506 445.36 L506.5 445.6 L507 445.88 L507.5 446.14 L508 446.33 L508.5 446.41 L509 446.38 L509.5 446.29 L510 446.21 L510.5 446.15 L511 446.11 L511.5 446.04 L512 445.95 L512.5 445.91 L513 445.92 L513.5 445.96 L514 445.96 L514.5 445.9 L515 445.81 L515.5 445.73 L516 445.66 L516.5 445.57 L517 445.45 L517.5 445.32 L518 445.27 L518.5 445.31 L519 445.43 L519.5 445.55 L520 445.62 L520.5 445.64 L521 445.61 L521.5 445.56 L522 445.52 L522.5 445.55 L523 445.63 L523.5 445.73 L524 445.79 L524.5 445.81 L525 445.84 L525.5 445.89 L526 445.98 L526.5 446.04 L527 446.04 L527.5 446 L528 445.94 L528.5 445.88 L529 445.81 L529.5 445.73 L530 445.68 L530.5 445.67 L531 445.71 L531.5 445.77 L532 445.83 L532.5 445.85 L533 445.8 L533.5 445.7 L534 445.58 L534.5 445.53 L535 445.59 L535.5 445.75 L536 445.93 L536.5 446.08 L537 446.17 L537.5 446.24 L538 446.27 L538.5 446.24 L539 446.15 L539.5 446.1 L540 446.13 L540.5 446.23 L541 446.29 L541.5 446.26 L542 446.15 L542.5 446.02 L543 445.93 L543.5 445.88 L544 445.87 L544.5 445.86 L545 445.85 L545.5 445.78 L546 445.62 L546.5 445.41 L547 445.28 L547.5 445.34 L548 445.58 L548.5 445.92 L549 446.19 L549.5 446.26 L550 446.13 L550.5 445.9 L551 445.7 L551.5 445.58 L552 445.53 L552.5 445.52 L553 445.52 L553.5 445.54 L554 445.58 L554.5 445.61 L555 445.61 L555.5 445.56 L556 445.49 L556.5 445.43 L557 445.38 L557.5 445.33 L558 445.25 L558.5 445.16 L559 445.07 L559.5 445.01 L560 445.01 L560.5 445.07 L561 445.16 L561.5 445.26 L562 445.3 L562.5 445.29 L563 445.25 L563.5 445.26 L564 445.33 L564.5 445.43 L565 445.5 L565.5 445.46 L566 445.34 L566.5 445.2 L567 445.12 L567.5 445.13 L568 445.2 L568.5 445.26 L569 445.28 L569.5 445.24 L570 445.13 L570.5 444.95 L571 444.71 L571.5 444.45 L572 444.23 L572.5 444.07 L573 443.95 L573.5 443.86 L574 443.8 L574.5 443.8 L575 443.84 L575.5 443.83 L576 443.72 L576.5 443.51 L577 443.26 L577.5 443.01 L578 442.78 L578.5 442.55 L579 442.29 L579.5 441.96 L580 441.52 L580.5 440.91 L581 440.14 L581.5 439.2 L582 438.08 L582.5 436.73 L583 435.09 L583.5 433.03 L584 430.38 L584.5 426.89 L585 422.27 L585.5 416.11 L586 407.83 L586.5 396.5 L587 380.32 L587.5 356.2 L588 337.19 L588.5 356.6 L589 381 L589.5 397.31 L590 408.63 L590.5 416.84 L591 422.86 L591.5 427.26 L592 430.5 L592.5 432.99 L593 435.06 L593.5 436.84 L594 438.32 L594.5 439.46 L595 440.25 L595.5 440.79 L596 441.23 L596.5 441.63 L597 442 L597.5 442.27 L598 442.43 L598.5 442.58 L599 442.83 L599.5 443.21 L600 443.66 L600.5 444.04 L601 444.29 L601.5 444.43 L602 444.5 L602.5 444.56 L603 444.62 L603.5 444.67 L604 444.71 L604.5 444.78 L605 444.87 L605.5 444.97 L606 445.03 L606.5 445.05 L607 445.05 L607.5 445.1 L608 445.19 L608.5 445.27 L609 445.28 L609.5 445.22 L610 445.13 L610.5 445.07 L611 445.04 L611.5 445.05 L612 445.09 L612.5 445.16 L613 445.21 L613.5 445.18 L614 445.03 L614.5 444.77 L615 444.5 L615.5 444.31 L616 444.3 L616.5 444.48 L617 444.72 L617.5 444.88 L618 444.85 L618.5 444.65 L619 444.34 L619.5 444.02 L620 443.72 L620.5 443.46 L621 443.24 L621.5 443.04 L622 442.79 L622.5 442.46 L623 442.07 L623.5 441.68 L624 441.3 L624.5 440.82 L625 440.1 L625.5 439.06 L626 437.71 L626.5 435.99 L627 433.78 L627.5 430.85 L628 426.87 L628.5 421.42 L629 413.85 L629.5 402.88 L630 387.38 L630.35 380.97 L630.5 382.54 L631 397.64 L631.5 410.79 L632 419.61 L632.5 425.77 L633 430.15 L633.5 433.32 L634 435.67 L634.5 437.42 L635 438.73 L635.5 439.69 L636 440.42 L636.5 441.03 L637 441.64 L637.5 442.3 L638 442.96 L638.5 443.5 L639 443.84 L639.5 444.02 L640 444.11 L640.5 444.19 L641 444.31 L641.5 444.47 L642 444.64 L642.5 444.8 L643 444.92 L643.5 444.99 L644 444.97 L644.5 444.83 L645 444.56 L645.5 444.17 L646 443.72 L646.5 443.15 L647 442.4 L647.5 441.58 L648 441.24 L648.5 441.8 L649 442.9 L649.5 443.96 L650 444.78 L650.5 445.31 L651 445.59 L651.5 445.7 L652 445.7 L652.5 445.67 L653 445.59 L653.5 445.46 L654 445.33 L654.5 445.24 L655 445.21 L655.5 445.21 L656 445.2 L656.5 445.19 L657 445.21 L657.5 445.29 L658 445.39 L658.5 445.47 L659 445.52 L659.5 445.56 L660 445.64 L660.5 445.73 L661 445.78 L661.5 445.78 L662 445.75 L662.5 445.7 L663 445.63 L663.5 445.52 L664 445.4 L664.5 445.32 L665 445.3 L665.5 445.32 L666 445.34 L666.5 445.31 L667 445.25 L667.5 445.17 L668 445.06 L668.5 444.86 L669 444.5 L669.5 443.93 L670 443.07 L670.5 441.83 L671 440.06 L671.5 437.67 L672 435.39 L672.3 434.99 L672.5 435.37 L673 437.56 L673.5 440.05 L674 441.87 L674.5 443.13 L675 444.05 L675.5 444.77 L676 445.33 L676.5 445.72 L677 445.94 L677.5 446.01 L678 445.97 L678.5 445.88 L679 445.76 L679.5 445.63 L680 445.5 L680.5 445.38 L681 445.32 L681.5 445.32 L682 445.35 L682.5 445.38 L683 445.42 L683.5 445.5 L684 445.62 L684.5 445.78 L685 445.92 L685.5 445.95 L686 445.86 L686.5 445.67 L687 445.44 L687.5 445.16 L688 444.81 L688.5 444.4 L689 443.97 L689.5 443.62 L690 443.45 L690.5 443.54 L691 443.84 L691.5 444.25 L692 444.71 L692.5 445.16 L693 445.5 L693.5 445.67 L694 445.66 L694.5 445.51 L695 445.32 L695.5 445.2 L696 445.21 L696.5 445.37 L697 445.63 L697.5 445.88 L698 446.02 L698.5 446.02 L699 445.91 L699.5 445.75 L700 445.61 L700.5 445.51 L701 445.48 L701.5 445.55 L702 445.72 L702.5 445.92 L703 446.05 L703.5 446.06 L704 445.96 L704.5 445.85 L705 445.76 L705.5 445.73 L706 445.76 L706.5 445.84 L707 445.94 L707.5 446.04 L708 446.1 L708.5 446.08 L709 446 L709.5 445.88 L710 445.79 L710.5 445.75 L711 445.79 L711.5 445.87 L712 445.92 L712.5 445.94 L713 445.91 L713.5 445.85 L714 445.76 L714.5 445.62 L715 445.41 L715.5 445.18 L716 445.04 L716.5 445.09 L717 445.23 L717.5 445.38 L718 445.51 L718.5 445.67 L719 445.89 L719.5 446.15 L720 446.4 L720.5 446.6 L721 446.72 L721.5 446.75 L722 446.7 L722.5 446.59 L723 446.45 L723.5 446.31 L724 446.21 L724.5 446.19 L725 446.26 L725.5 446.4 L726 446.55 L726.5 446.68 L727 446.75 L727.5 446.72 L728 446.6 L728.5 446.44 L729 446.32 L729.5 446.26 L730 446.26 L730.5 446.27 L731 446.26 L731.5 446.27 L732 446.3 L732.5 446.34 L733 446.34 L733.5 446.28 L734 446.16 L734.5 446.02 L735 445.9 L735.5 445.81 L736 445.73 L736.5 445.66 L737 445.59 L737.5 445.56 L738 445.58 L738.5 445.64 L739 445.7 L739.5 445.7 L740 445.63 L740.5 445.51 L741 445.41 L741.5 445.34 L742 445.29 L742.5 445.22 L743 445.18 L743.5 445.22 L744 445.36 L744.5 445.49 L745 445.53 L745.5 445.5 L746 445.47 L746.5 445.45 L747 445.44 L747.5 445.48 L748 445.63 L748.5 445.89 L749 446.16 L749.5 446.29 L750 446.26 L750.5 446.15 L751 446.08 L751.5 446.11 L752 446.21 L752.5 446.29 L753 446.25 L753.5 446.05 L754 445.71 L754.5 445.36 L755 445.13 L755.5 445.08 L756 445.16 L756.5 445.28 L757 445.39 L757.5 445.51 L758 445.64 L758.5 445.77 L759 445.89 L759.5 446.02 L760 446.2 L760.5 446.42 L761 446.61 L761.5 446.68 L762 446.64 L762.5 446.57 L763 446.52 L763.5 446.52 L764 446.52 L764.5 446.49 L765 446.4 L765.5 446.29 L766 446.21 L766.5 446.19 L767 446.25 L767.5 446.35 L768 446.42 L768.5 446.41 L769 446.31 L769.5 446.16 L770 446.02 L770.5 445.95 L771 445.96 L771.5 446.02 L772 446.08 L772.5 446.14 L773 446.18 L773.5 446.21 L774 446.22 L774.5 446.2 L775 446.15 L775.5 446.07 L776 445.99 L776.5 445.96 L777 445.97 L777.5 446.01 L778 446.03 L778.5 446.03 L779 446.01 L779.5 446.02 L780 446.05 L780.5 446.1 L781 446.13 L781.5 446.1 L782 445.99 L782.5 445.87 L783 445.78 L783.5 445.74 L784 445.74 L784.5 445.81 L785 446 L785.5 446.24 L786 446.41 L786.5 446.41 L787 446.24 L787.5 445.97 L788 445.7 L788.5 445.5 L789 445.42 L789.5 445.48 L790 445.66 L790.5 445.86 L791 445.98 L791.5 445.97 L792 445.85 L792.5 445.71 L793 445.66 L793.5 445.77 L794 446 L794.5 446.24 L795 446.39 L795.5 446.41 L796 446.3 L796.5 446.14 L797 445.99 L797.5 445.92 L798 445.93 L798.5 445.97 L799 446.02 L799.5 446.07 L800 446.15 L800.5 446.24 L801 446.28 L801.5 446.2 L802 445.99 L802.5 445.71 L803 445.48 L803.5 445.4 L804 445.5 L804.5 445.72 L805 445.96 L805.5 446.13 L806 446.21 L806.5 446.21 L807 446.18 L807.5 446.12 L808 446.04 L808.5 445.99 L809 446.03 L809.5 446.12 L810 446.22 L810.5 446.29 L811 446.33 L811.5 446.36 L812 446.37 L812.5 446.33 L813 446.25 L813.5 446.2 L814 446.21 L814.5 446.29 L815 446.41 L815.5 446.52 L816 446.55 L816.5 446.51 L817 446.41 L817.5 446.34 L818 446.34 L818.5 446.41 L819 446.55 L819.5 446.73 L820 446.9 L820.5 447.02 L821 447.06 L821.5 447.01 L822 446.9 L822.5 446.77 L823 446.64 L823.5 446.51 L824 446.39 L824.5 446.3 L825 446.25 L825.5 446.25 L826 446.28 L826.5 446.28 L827 446.23 L827.5 446.14 L828 446.05 L828.5 446.01 L829 446.01 L829.5 446.02 L830 445.99 L830.5 445.95 L831 445.91 L831.5 445.91 L832 445.94 L832.5 445.98 L833 446.03 L833.5 446.09 L834 446.18 L834.5 446.27 L835 446.32 L835.5 446.28 L836 446.19 L836.5 446.13 L837 446.16 L837.5 446.32 L838 446.54 L838.5 446.7 L839 446.72 L839.5 446.63 L840 446.52 L840.5 446.46 L841 446.45 L841.5 446.44 L842 446.39 L842.5 446.3 L843 446.18 L843.5 446.05 L844 445.93 L844.5 445.83 L845 445.76 L845.5 445.72 L846 445.73 L846.5 445.81 L847 445.94 L847.5 446.03 L848 446.04 L848.5 445.96 L849 445.89 L849.5 445.88 L850 445.94 L850.5 446.04 L851 446.16 L851.5 446.29 L852 446.4 L852.5 446.44 L853 446.39 L853.5 446.29 L854 446.15 L854.5 446.02 L855 445.93 L855.5 445.92 L856 445.94 L856.5 445.93 L857 445.88 L857.5 445.83 L858 445.82 L858.5 445.83 L859 445.85 L859.5 445.91 L860 446.01 L860.5 446.15 L861 446.27 L861.5 446.32 L862 446.3 L862.5 446.24 L863 446.15 L863.5 446.1 L864 446.1 L864.5 446.17 L865 446.26 L865.5 446.36 L866 446.41 L866.5 446.4 L867 446.33 L867.5 446.26 L868 446.26 L868.5 446.33 L869 446.39 L869.5 446.39 L870 446.33 L870.5 446.25 L871 446.21 L871.5 446.23 L872 446.26 L872.5 446.29 L873 446.34 L873.5 446.46 L874 446.67 L874.5 446.92 L875 447.11 L875.5 447.14 L876 447.02 L876.5 446.82 L877 446.63 L877.5 446.55 L878 446.57 L878.5 446.61 L879 446.63 L879.5 446.61 L880 446.56 L880.5 446.49 L881 446.42 L881.5 446.35 L882 446.32 L882.5 446.33 L883 446.39 L883.5 446.48 L884 446.58 L884.5 446.64 L885 446.65 L885.5 446.59 L886 446.48 L886.5 446.31 L887 446.11 L887.5 445.94 L888 445.87 L888.5 445.91 L889 446.01 L889.5 446.1 L890 446.11 L890.5 446.06 L891 446.03 L891.5 446.02 L892 446.02 L892.5 445.98 L893 445.92 L893.5 445.9 L894 445.95 L894.5 446.09 L895 446.3 L895.5 446.52 L896 446.68 L896.5 446.71 L897 446.59 L897.5 446.37 L898 446.09 L898.5 445.83 L899 445.67 L899.5 445.7 L900 445.87 L900.5 446.06 L901 446.15 L901.5 446.15 L902 446.15 L902.5 446.2 L903 446.26 L903.5 446.24 L904 446.13 L904.5 446.03 L905 446.04 L905.5 446.17 L906 446.38 L906.5 446.56 L907 446.71 L907.5 446.79 L908 446.81 L908.5 446.72 L909 446.57 L909.5 446.42 L910 446.37 L910.5 446.41 L911 446.48 L911.5 446.53 L912 446.55 L912.5 446.57 L913 446.56 L913.5 446.52 L914 446.45 L914.5 446.38 L915 446.36 L915.5 446.4 L916 446.48 L916.5 446.57 L917 446.61 L917.5 446.58 L918 446.47 L918.5 446.31 L919 446.13 L919.5 445.98 L920 445.98 L920.5 446.13 L921 446.35 L921.5 446.51 L922 446.53 L922.5 446.42 L923 446.27 L923.5 446.16 L924 446.11 L924.5 446.1 L925 446.14 L925.5 446.22 L926 446.35 L926.5 446.51 L927 446.67 L927.5 446.77 L928 446.77 L928.5 446.64 L929 446.41 L929.5 446.14 L930 445.93 L930.5 445.81 L931 445.76 L931.5 445.74 L932 445.75 L932.5 445.81 L933 445.96 L933.5 446.18 L934 446.36 L934.5 446.43 L935 446.41 L935.5 446.35 L936 446.32 L936.5 446.34 L937 446.39 L937.5 446.42 L938 446.39 L938.5 446.29 L939 446.17 L939.5 446.07 L940 446.04 L940.5 446.1 L941 446.21 L941.5 446.29 L942 446.31 L942.5 446.28 L943 446.3 L943.5 446.39 L944 446.5 L944.5 446.56 L945 446.55 L945.5 446.48 L946 446.38 L946.5 446.26 L947 446.11 L947.5 445.98 L948 445.9 L948.5 445.87 L949 445.87 L949.5 445.91 L950 446.01 L950.5 446.15 L951 446.3 L951.5 446.4 L952 446.45 L952.5 446.51 L953 446.58 L953.5 446.61 L954 446.58 L954.5 446.47 L955 446.3 L955.5 446.13 L956 446 L956.5 445.97 L957 446.02 L957.5 446.1 L958 446.18 L958.5 446.26 L959 446.36 L959.5 446.43 L960 446.44 L960.5 446.4 L961 446.32 L961.5 446.23 L962 446.14 L962.5 446.08 L963 446.04 L963.5 446.01 L964 445.97 L964.5 445.92 L965 445.89 L965.5 445.94 L966 446.08 L966.5 446.26 L967 446.35 L967.5 446.29 L968 446.14 L968.5 446.06 L969 446.15 L969.5 446.38 L970 446.63 L970.5 446.75 L971 446.71 L971.5 446.55 L972 446.34 L972.5 446.12 L973 445.91 L973.5 445.72 L974 445.62 L974.5 445.62 L975 445.69 L975.5 445.76 L976 445.8 L976.5 445.82 L977 445.89 L977.5 446.04 L978 446.27 L978.5 446.51 L979 446.69 L979.5 446.78 L980 446.8 L980.5 446.78 L981 446.78 L981.5 446.82 L982 446.88 L982.5 446.96 L983 447.04 L983.5 447.11 L984 447.17 L984.5 447.19 L985 447.15 L985.5 447.01 L986 446.82 L986.5 446.64 L987 446.49 L987.5 446.38 L988 446.32 L988.5 446.31 L989 446.36 L989.5 446.45 L990 446.52" fill="none" stroke="#000" stroke-width="3.6" stroke-linejoin="round" stroke-linecap="round"/>
<text x="578.6" y="326.4" font-size="20" font-weight="bold" text-anchor="middle" fill="#000">10613</text>
<text x="625" y="375.2" font-size="20" font-weight="bold" text-anchor="middle" fill="#000">10759</text>
<text x="666.5" y="428.9" font-size="20" font-weight="bold" text-anchor="middle" fill="#000">10906</text>
<line x1="588" y1="328" x2="588" y2="333" stroke="#9a9a9a" stroke-width="1"/>
<line x1="630" y1="377" x2="630" y2="379" stroke="#9a9a9a" stroke-width="1"/>
<text x="868.5" y="411.7" font-size="38.8" font-weight="normal" text-anchor="start" fill="#000" textLength="56.3" lengthAdjust="spacingAndGlyphs">WT</text>
<line x1="31.5" y1="456" x2="991.5" y2="456" stroke="#000" stroke-width="3.6"/>
<line x1="31.77" y1="456" x2="31.77" y2="460" stroke="#000" stroke-width="2.8"/>
<line x1="60.85" y1="456" x2="60.85" y2="460" stroke="#000" stroke-width="2.8"/>
<line x1="89.92" y1="456" x2="89.92" y2="460" stroke="#000" stroke-width="2.8"/>
<line x1="119" y1="456" x2="119" y2="462.5" stroke="#000" stroke-width="2.8"/>
<line x1="148.08" y1="456" x2="148.08" y2="460" stroke="#000" stroke-width="2.8"/>
<line x1="177.15" y1="456" x2="177.15" y2="460" stroke="#000" stroke-width="2.8"/>
<line x1="206.23" y1="456" x2="206.23" y2="460" stroke="#000" stroke-width="2.8"/>
<line x1="235.3" y1="456" x2="235.3" y2="460" stroke="#000" stroke-width="2.8"/>
<line x1="264.38" y1="456" x2="264.38" y2="462.5" stroke="#000" stroke-width="2.8"/>
<line x1="293.46" y1="456" x2="293.46" y2="460" stroke="#000" stroke-width="2.8"/>
<line x1="322.53" y1="456" x2="322.53" y2="460" stroke="#000" stroke-width="2.8"/>
<line x1="351.61" y1="456" x2="351.61" y2="460" stroke="#000" stroke-width="2.8"/>
<line x1="380.68" y1="456" x2="380.68" y2="460" stroke="#000" stroke-width="2.8"/>
<line x1="409.76" y1="456" x2="409.76" y2="462.5" stroke="#000" stroke-width="2.8"/>
<line x1="438.84" y1="456" x2="438.84" y2="460" stroke="#000" stroke-width="2.8"/>
<line x1="467.91" y1="456" x2="467.91" y2="460" stroke="#000" stroke-width="2.8"/>
<line x1="496.99" y1="456" x2="496.99" y2="460" stroke="#000" stroke-width="2.8"/>
<line x1="526.06" y1="456" x2="526.06" y2="460" stroke="#000" stroke-width="2.8"/>
<line x1="555.14" y1="456" x2="555.14" y2="462.5" stroke="#000" stroke-width="2.8"/>
<line x1="584.22" y1="456" x2="584.22" y2="460" stroke="#000" stroke-width="2.8"/>
<line x1="613.29" y1="456" x2="613.29" y2="460" stroke="#000" stroke-width="2.8"/>
<line x1="642.37" y1="456" x2="642.37" y2="460" stroke="#000" stroke-width="2.8"/>
<line x1="671.44" y1="456" x2="671.44" y2="460" stroke="#000" stroke-width="2.8"/>
<line x1="700.52" y1="456" x2="700.52" y2="462.5" stroke="#000" stroke-width="2.8"/>
<line x1="729.6" y1="456" x2="729.6" y2="460" stroke="#000" stroke-width="2.8"/>
<line x1="758.67" y1="456" x2="758.67" y2="460" stroke="#000" stroke-width="2.8"/>
<line x1="787.75" y1="456" x2="787.75" y2="460" stroke="#000" stroke-width="2.8"/>
<line x1="816.82" y1="456" x2="816.82" y2="460" stroke="#000" stroke-width="2.8"/>
<line x1="845.9" y1="456" x2="845.9" y2="462.5" stroke="#000" stroke-width="2.8"/>
<line x1="874.98" y1="456" x2="874.98" y2="460" stroke="#000" stroke-width="2.8"/>
<line x1="904.05" y1="456" x2="904.05" y2="460" stroke="#000" stroke-width="2.8"/>
<line x1="933.13" y1="456" x2="933.13" y2="460" stroke="#000" stroke-width="2.8"/>
<line x1="962.2" y1="456" x2="962.2" y2="460" stroke="#000" stroke-width="2.8"/>
<line x1="991.28" y1="456" x2="991.28" y2="462.5" stroke="#000" stroke-width="2.8"/>
<text x="116.2" y="491.8" font-size="20" font-weight="bold" text-anchor="middle" fill="#000" letter-spacing="0.5">9000</text>
<text x="261.58" y="491.8" font-size="20" font-weight="bold" text-anchor="middle" fill="#000" letter-spacing="0.5">9500</text>
<text x="406.96" y="491.8" font-size="20" font-weight="bold" text-anchor="middle" fill="#000" letter-spacing="0.5">10000</text>
<text x="552.34" y="491.8" font-size="20" font-weight="bold" text-anchor="middle" fill="#000" letter-spacing="0.5">10500</text>
<text x="697.72" y="491.8" font-size="20" font-weight="bold" text-anchor="middle" fill="#000" letter-spacing="0.5">11000</text>
<text x="843.1" y="491.8" font-size="20" font-weight="bold" text-anchor="middle" fill="#000" letter-spacing="0.5">11500</text>
<text x="964.4" y="505.6" font-size="23" font-weight="normal" text-anchor="middle" fill="#000" font-style="italic" textLength="32.2" lengthAdjust="spacingAndGlyphs">m/z</text>
<text x="7" y="582.6" font-size="28" font-weight="normal" text-anchor="start" fill="#000" letter-spacing="1.6">(d)</text>
<rect x="33.7" y="726.75" width="328.8" height="5.5" fill="#000"/>
<path d="M33.7 727.25 L33.7 726.72 L35.1 726.72 L35.1 726.38 L37.02 726.38 L37.02 726.08 L38.05 726.08 L38.05 726.73 L40.66 726.73 L40.66 726.56 L43.62 726.56 L43.62 726.55 L44.67 726.55 L44.67 726.3 L46.36 726.3 L46.36 726.15 L48.12 726.15 L48.12 726.52 L49.37 726.52 L49.37 726.31 L50.49 726.31 L50.49 726.3 L52.37 726.3 L52.37 726.03 L54.59 726.03 L54.59 725.61 L57.76 725.61 L57.76 726.04 L58.9 726.04 L58.9 726.28 L60.05 726.28 L60.05 726.55 L62.79 726.55 L62.79 724.79 L65.53 724.79 L65.53 725.71 L66.91 725.71 L66.91 726.03 L69.52 726.03 L69.52 725.78 L72.13 725.78 L72.13 725.66 L74.02 725.66 L74.02 726.25 L76.45 726.25 L76.45 726.64 L78.86 726.64 L78.86 726.45 L81.95 726.45 L81.95 725.32 L84.3 725.32 L84.3 724.67 L86.97 724.67 L86.97 726.24 L89.34 726.24 L89.34 725.25 L90.71 725.25 L90.71 726.18 L93.55 726.18 L93.55 726.39 L96.08 726.39 L96.08 726.06 L98.77 726.06 L98.77 724.92 L101.02 724.92 L101.02 725.73 L103.28 725.73 L103.28 726.09 L104.95 726.09 L104.95 726.25 L106.15 726.25 L106.15 726.51 L108.71 726.51 L108.71 725.93 L111.08 725.93 L111.08 725.54 L113.9 725.54 L113.9 725.18 L116.9 725.18 L116.9 726.13 L119.93 726.13 L119.93 724.64 L122.02 724.64 L122.02 726.71 L124.23 726.71 L124.23 724.78 L127.28 724.78 L127.28 725.92 L128.97 725.92 L128.97 726.25 L130.5 726.25 L130.5 726.66 L133.55 726.66 L133.55 726.57 L135.05 726.57 L135.05 724.99 L136.35 724.99 L136.35 726.34 L139.4 726.34 L139.4 726.62 L142.02 726.62 L142.02 723.86 L143.13 723.86 L143.13 725.8 L146.31 725.8 L146.31 725.5 L147.43 725.5 L147.43 723.23 L149.21 723.23 L149.21 726.42 L150.9 726.42 L150.9 724.49 L152.44 724.49 L152.44 726.69 L153.61 726.69 L153.61 726.61 L156.4 726.61 L156.4 726.23 L157.79 726.23 L157.79 726.29 L160.27 726.29 L160.27 726.41 L162.93 726.41 L162.93 726.02 L163.99 726.02 L163.99 725.05 L165.13 725.05 L165.13 726.08 L167.46 726.08 L167.46 725.67 L170.45 725.67 L170.45 726.66 L171.76 726.66 L171.76 726.05 L174.5 726.05 L174.5 726.05 L176.7 726.05 L176.7 726.01 L179.07 726.01 L179.07 726.53 L180.59 726.53 L180.59 726.3 L182.67 726.3 L182.67 724.16 L184.71 724.16 L184.71 726.36 L186.62 726.36 L186.62 726.71 L189.71 726.71 L189.71 726.37 L192.78 726.37 L192.78 725.28 L194.44 725.28 L194.44 725.22 L196.74 725.22 L196.74 726.39 L199.15 726.39 L199.15 725.44 L200.91 725.44 L200.91 723.67 L203.11 723.67 L203.11 726.72 L205.22 726.72 L205.22 725.28 L208.06 725.28 L208.06 725.65 L209.68 725.65 L209.68 726.7 L211.42 726.7 L211.42 726.49 L213.91 726.49 L213.91 726.35 L216.05 726.35 L216.05 726.27 L217.74 726.27 L217.74 726.21 L220.43 726.21 L220.43 725.77 L222.09 725.77 L222.09 724.81 L223.16 724.81 L223.16 725.99 L225.6 725.99 L225.6 726.4 L226.66 726.4 L226.66 726.03 L228.28 726.03 L228.28 725.62 L230.46 725.62 L230.46 725.71 L231.6 725.71 L231.6 726.15 L233.49 726.15 L233.49 726.28 L234.65 726.28 L234.65 724.46 L235.74 724.46 L235.74 726.09 L237.73 726.09 L237.73 725.54 L240.3 725.54 L240.3 725.77 L241.33 725.77 L241.33 726.66 L243.77 726.66 L243.77 725.99 L246.57 725.99 L246.57 725.26 L249.37 725.26 L249.37 726.32 L250.74 726.32 L250.74 725.14 L253.13 725.14 L253.13 726.66 L254.88 726.66 L254.88 726.23 L258.03 726.23 L258.03 726.59 L260.14 726.59 L260.14 723.43 L261.63 723.43 L261.63 725.77 L263.78 725.77 L263.78 726.65 L265.03 726.65 L265.03 726.52 L266.73 726.52 L266.73 726.64 L269.27 726.64 L269.27 726.43 L270.65 726.43 L270.65 725.78 L272.97 725.78 L272.97 725.98 L275.71 725.98 L275.71 726.47 L277.35 726.47 L277.35 726.31 L278.86 726.31 L278.86 725.01 L281.51 725.01 L281.51 725.63 L283.41 725.63 L283.41 726.51 L284.66 726.51 L284.66 726.34 L287.79 726.34 L287.79 726.01 L290.98 726.01 L290.98 726.6 L293.35 726.6 L293.35 724.86 L295.89 724.86 L295.89 724.34 L298.86 724.34 L298.86 725.61 L300.21 725.61 L300.21 726.59 L302.08 726.59 L302.08 725.51 L304.07 725.51 L304.07 725.6 L307.15 725.6 L307.15 726.17 L308.62 726.17 L308.62 725.91 L310.92 725.91 L310.92 726.51 L312.93 726.51 L312.93 725.51 L315.82 725.51 L315.82 726.44 L317.23 726.44 L317.23 725.42 L318.29 725.42 L318.29 725.42 L319.8 725.42 L319.8 725.33 L322.46 725.33 L322.46 723.23 L323.47 723.23 L323.47 726.4 L325.3 726.4 L325.3 725.88 L327.45 725.88 L327.45 725.99 L330.14 725.99 L330.14 725.06 L333.21 725.06 L333.21 726.27 L335.68 726.27 L335.68 725.27 L337.29 725.27 L337.29 726.49 L339.09 726.49 L339.09 725.2 L340.51 725.2 L340.51 726.41 L343.34 726.41 L343.34 725.9 L346.04 725.9 L346.04 726.67 L347.6 726.67 L347.6 726.18 L348.95 726.18 L348.95 726.26 L351.73 726.26 L351.73 726.29 L352.86 726.29 L352.86 726.72 L355.61 726.72 L355.61 726.13 L357.93 726.13 L357.93 725.16 L359.22 725.16 L359.22 726.69 L360.66 726.69 L360.66 726.26 L362.19 726.26 L362.5 727.25 Z" fill="#000"/>
<rect x="41.4" y="693.3" width="2.6" height="36.2" fill="#000"/>
<rect x="58.5" y="699.4" width="2.6" height="30.1" fill="#000"/>
<rect x="70.9" y="720.8" width="2" height="8.7" fill="#000"/>
<rect x="76.1" y="606.6" width="2.4" height="122.9" fill="#000"/>
<rect x="80.5" y="714.6" width="2" height="14.9" fill="#000"/>
<rect x="83" y="718" width="2" height="11.5" fill="#000"/>
<rect x="93.1" y="696.2" width="2.6" height="33.3" fill="#000"/>
<rect x="101.9" y="710.3" width="2.6" height="19.2" fill="#000"/>
<rect x="191.3" y="627.1" width="2.6" height="102.4" fill="#000"/>
<rect x="225.7" y="710.6" width="2.6" height="18.9" fill="#000"/>
<rect x="259.7" y="720.8" width="2" height="8.7" fill="#000"/>
<rect x="32.3" y="729.5" width="2.8" height="7.75" fill="#000"/>
<rect x="44.02" y="729.5" width="2.8" height="6.55" fill="#000"/>
<rect x="55.73" y="729.5" width="2.8" height="6.55" fill="#000"/>
<rect x="67.44" y="729.5" width="2.8" height="6.55" fill="#000"/>
<rect x="79.16" y="729.5" width="2.8" height="7.75" fill="#000"/>
<rect x="90.88" y="729.5" width="2.8" height="6.55" fill="#000"/>
<rect x="102.59" y="729.5" width="2.8" height="6.55" fill="#000"/>
<rect x="114.31" y="729.5" width="2.8" height="6.55" fill="#000"/>
<rect x="126.02" y="729.5" width="2.8" height="7.75" fill="#000"/>
<rect x="137.73" y="729.5" width="2.8" height="6.55" fill="#000"/>
<rect x="149.45" y="729.5" width="2.8" height="6.55" fill="#000"/>
<rect x="161.16" y="729.5" width="2.8" height="6.55" fill="#000"/>
<rect x="172.88" y="729.5" width="2.8" height="7.75" fill="#000"/>
<rect x="184.59" y="729.5" width="2.8" height="6.55" fill="#000"/>
<rect x="196.31" y="729.5" width="2.8" height="6.55" fill="#000"/>
<rect x="208.03" y="729.5" width="2.8" height="6.55" fill="#000"/>
<rect x="219.74" y="729.5" width="2.8" height="7.75" fill="#000"/>
<rect x="231.46" y="729.5" width="2.8" height="6.55" fill="#000"/>
<rect x="243.17" y="729.5" width="2.8" height="6.55" fill="#000"/>
<rect x="254.89" y="729.5" width="2.8" height="6.55" fill="#000"/>
<rect x="266.6" y="729.5" width="2.8" height="7.75" fill="#000"/>
<rect x="278.32" y="729.5" width="2.8" height="6.55" fill="#000"/>
<rect x="290.03" y="729.5" width="2.8" height="6.55" fill="#000"/>
<rect x="301.75" y="729.5" width="2.8" height="6.55" fill="#000"/>
<rect x="313.46" y="729.5" width="2.8" height="7.75" fill="#000"/>
<rect x="325.18" y="729.5" width="2.8" height="6.55" fill="#000"/>
<rect x="336.89" y="729.5" width="2.8" height="6.55" fill="#000"/>
<rect x="348.61" y="729.5" width="2.8" height="6.55" fill="#000"/>
<rect x="360.32" y="729.5" width="2.8" height="7.75" fill="#000"/>
<text x="77.8" y="602.2" font-size="12.5" font-weight="bold" text-anchor="middle" fill="#000" letter-spacing="0.55">785</text>
<text x="42.9" y="684" font-size="12.5" font-weight="bold" text-anchor="middle" fill="#000" letter-spacing="0.55">639</text>
<text x="61.5" y="695.9" font-size="12.5" font-weight="bold" text-anchor="middle" fill="#000" letter-spacing="0.55">712</text>
<text x="194.2" y="624.3" font-size="12.5" font-weight="bold" text-anchor="middle" fill="#000" letter-spacing="0.55">1277</text>
<text x="227.8" y="707.3" font-size="12.5" font-weight="bold" text-anchor="middle" fill="#000" letter-spacing="0.55">1423</text>
<text x="261.2" y="719" font-size="12.5" font-weight="bold" text-anchor="middle" fill="#000" letter-spacing="0.55">1570</text>
<text x="100.2" y="690.6" font-size="12.5" font-weight="bold" text-anchor="middle" fill="#2a3ea0" letter-spacing="0.55">858</text>
<line x1="89.78" y1="692.6" x2="110.62" y2="692.6" stroke="#2a3ea0" stroke-width="1.3"/>
<text x="151.5" y="620.3" font-size="12.5" font-weight="bold" text-anchor="middle" fill="#000" letter-spacing="0.55">2+</text>
<rect x="86.5" y="615.9" width="46.2" height="9.7" fill="#dcdcdc" stroke="#7a7a7a" stroke-width="1" rx="1"/>
<rect x="103.4" y="627.3" width="13.5" height="14.1" fill="#bde2e6" stroke="#5d6f70" stroke-width="1"/>
<rect x="103.4" y="643.7" width="13.5" height="13.5" fill="#bde2e6" stroke="#5d6f70" stroke-width="1"/>
<rect x="103.4" y="659.9" width="13.5" height="13.7" fill="#bde2e6" stroke="#5d6f70" stroke-width="1"/>
<rect x="108.65" y="625.1" width="3" height="2.7" fill="#111"/>
<rect x="108.65" y="640.9" width="3" height="3.3" fill="#111"/>
<rect x="108.65" y="656.7" width="3" height="3.7" fill="#111"/>
<rect x="47.8" y="705.5" width="7" height="7" fill="#bde2e6" stroke="#4f6f70" stroke-width="1.1"/>
<rect x="65.9" y="705.5" width="7" height="7" fill="#bde2e6" stroke="#4f6f70" stroke-width="1.1"/>
<rect x="82.1" y="705.5" width="7" height="7" fill="#bde2e6" stroke="#4f6f70" stroke-width="1.1"/>
<line x1="197.6" y1="686.9" x2="222.3" y2="686.9" stroke="#c2c2c2" stroke-width="3"/>
<path d="M193.4 686.9 L203.1 681.1 L198.38 686.9 L203.1 692.7 Z M226.5 686.9 L216.8 681.1 L221.53 686.9 L216.8 692.7 Z" fill="#c2c2c2"/>
<rect x="205.95" y="683.15" width="8" height="7.5" rx="1.5" fill="#bde2e6" stroke="#4a6468" stroke-width="1.4"/>
<line x1="232.3" y1="686.9" x2="255.7" y2="686.9" stroke="#c2c2c2" stroke-width="3"/>
<path d="M228.1 686.9 L237.8 681.1 L233.08 686.9 L237.8 692.7 Z M259.9 686.9 L250.2 681.1 L254.92 686.9 L250.2 692.7 Z" fill="#c2c2c2"/>
<rect x="240" y="683.15" width="8" height="7.5" rx="1.5" fill="#bde2e6" stroke="#4a6468" stroke-width="1.4"/>
<line x1="227.3" y1="663.3" x2="227.3" y2="681" stroke="#8e8e8e" stroke-width="2" stroke-dasharray="8 2"/>
<line x1="227.3" y1="692" x2="227.3" y2="696" stroke="#8e8e8e" stroke-width="2" stroke-dasharray="6 3"/>
<line x1="260.7" y1="663.3" x2="260.7" y2="681" stroke="#8e8e8e" stroke-width="2" stroke-dasharray="8 2"/>
<line x1="260.7" y1="692" x2="260.7" y2="696" stroke="#8e8e8e" stroke-width="2" stroke-dasharray="6 3"/>
<text x="80.56" y="752.7" font-size="12.5" font-weight="bold" text-anchor="middle" fill="#000" letter-spacing="0.55">800</text>
<text x="174.28" y="752.7" font-size="12.5" font-weight="bold" text-anchor="middle" fill="#000" letter-spacing="0.55">1200</text>
<text x="268" y="752.7" font-size="12.5" font-weight="bold" text-anchor="middle" fill="#000" letter-spacing="0.55">1600</text>
<text x="361.72" y="752.7" font-size="12.5" font-weight="bold" text-anchor="middle" fill="#000" letter-spacing="0.55">2000</text>
<text x="217.7" y="769.6" font-size="16.5" font-weight="bold" text-anchor="middle" fill="#000" font-style="italic" textLength="21.5" lengthAdjust="spacingAndGlyphs">m/z</text>
<text x="7" y="829" font-size="28" font-weight="normal" text-anchor="start" fill="#000" letter-spacing="1.2">(e)</text>
<rect x="35.2" y="966.8" width="329.1" height="4.4" fill="#000"/>
<path d="M35.2 967.3 L35.2 966.11 L36.54 966.11 L36.54 966.1 L37.57 966.1 L37.57 966.47 L40.55 966.47 L40.55 966.25 L43.63 966.25 L43.63 964.66 L44.64 964.66 L44.64 965.93 L47.32 965.93 L47.32 966.53 L50.01 966.53 L50.01 966.25 L52.04 966.25 L52.04 966.09 L53.68 966.09 L53.68 965.98 L55.42 965.98 L55.42 966.53 L57.79 966.53 L57.79 965.86 L59.67 965.86 L59.67 966.73 L61.06 966.73 L61.06 966.42 L63.08 966.42 L63.08 965.14 L65.11 965.14 L65.11 964.41 L66.59 964.41 L66.59 966.73 L68.51 966.73 L68.51 966.34 L69.76 966.34 L69.76 964.73 L72.17 964.73 L72.17 964.5 L75.14 964.5 L75.14 966.04 L77.47 966.04 L77.47 964.66 L78.92 964.66 L78.92 966.48 L80.09 966.48 L80.09 966.73 L82.49 966.73 L82.49 965.29 L85.56 965.29 L85.56 966.32 L87.92 966.32 L87.92 966.34 L89.63 966.34 L89.63 964.88 L92.14 964.88 L92.14 965.7 L95.16 965.7 L95.16 965.48 L97.48 965.48 L97.48 966.35 L98.64 966.35 L98.64 966.33 L100.52 966.33 L100.52 965.37 L101.97 965.37 L101.97 966.02 L103.7 966.02 L103.7 966.49 L105 966.49 L105 965.82 L106.56 965.82 L106.56 966.59 L109.61 966.59 L109.61 966.04 L111.99 966.04 L111.99 965.73 L113.13 965.73 L113.13 964.44 L114.15 964.44 L114.15 966.4 L115.34 966.4 L115.34 966.08 L117.42 966.08 L117.42 966.2 L119.31 966.2 L119.31 965.78 L120.64 965.78 L120.64 966.09 L123.05 966.09 L123.05 965.65 L124.81 965.65 L124.81 965.68 L127.16 965.68 L127.16 966.5 L129.7 966.5 L129.7 965.36 L131.25 965.36 L131.25 965.92 L133.11 965.92 L133.11 965.82 L136.24 965.82 L136.24 966.75 L139.27 966.75 L139.27 966.55 L140.38 966.55 L140.38 966.62 L142.68 966.62 L142.68 965.81 L144.62 965.81 L144.62 966.33 L147.02 966.33 L147.02 966 L149.17 966 L149.17 964.86 L152.37 964.86 L152.37 966.16 L155.11 966.16 L155.11 966.61 L157.22 966.61 L157.22 966.55 L158.77 966.55 L158.77 965.83 L161.34 965.83 L161.34 966.29 L163.85 966.29 L163.85 965.63 L165.6 965.63 L165.6 966.03 L168.11 966.03 L168.11 964.77 L170.82 964.77 L170.82 965.4 L172.1 965.4 L172.1 966.48 L173.32 966.48 L173.32 966.7 L175.07 966.7 L175.07 965.95 L177.7 965.95 L177.7 966.01 L179.43 966.01 L179.43 966.76 L182.48 966.76 L182.48 966.36 L183.88 966.36 L183.88 965.96 L185.15 965.96 L185.15 965.79 L187.19 965.79 L187.19 966.36 L188.5 966.36 L188.5 965.2 L189.77 965.2 L189.77 965.56 L191.15 965.56 L191.15 966.2 L192.68 966.2 L192.68 965.82 L195.12 965.82 L195.12 966.05 L197.04 966.05 L197.04 965.54 L198.13 965.54 L198.13 966.48 L201.09 966.48 L201.09 965.89 L203.08 965.89 L203.08 965.97 L205.64 965.97 L205.64 966.72 L207.47 966.72 L207.47 966.5 L209.6 966.5 L209.6 966.05 L212.42 966.05 L212.42 965.54 L213.8 965.54 L213.8 966.67 L215.05 966.67 L215.05 966.43 L217.89 966.43 L217.89 964.74 L220.37 964.74 L220.37 966.62 L222.31 966.62 L222.31 965.89 L224.31 965.89 L224.31 966.54 L227.29 966.54 L227.29 965.96 L230.12 965.96 L230.12 966.43 L232.94 966.43 L232.94 966.05 L235.74 966.05 L235.74 966.18 L237.13 966.18 L237.13 965.48 L238.72 965.48 L238.72 966.26 L241.51 966.26 L241.51 965.77 L242.52 965.77 L242.52 966.16 L245.34 966.16 L245.34 966.66 L247.78 966.66 L247.78 965.59 L250.82 965.59 L250.82 966.26 L253.48 966.26 L253.48 965.47 L255.31 965.47 L255.31 965.89 L257.68 965.89 L257.68 966.42 L260.73 966.42 L260.73 965.53 L263.93 965.53 L263.93 966.49 L264.94 966.49 L264.94 966.01 L266.59 966.01 L266.59 966.31 L267.98 966.31 L267.98 966.29 L269.21 966.29 L269.21 966.33 L271.98 966.33 L271.98 966.79 L273.24 966.79 L273.24 966.26 L275.4 966.26 L275.4 965.42 L277.29 965.42 L277.29 966.61 L280.1 966.61 L280.1 965.78 L282.99 965.78 L282.99 966.68 L285.56 966.68 L285.56 965.44 L286.84 965.44 L286.84 966.71 L289.91 966.71 L289.91 966.33 L291.46 966.33 L291.46 966.69 L292.82 966.69 L292.82 966.74 L295.46 966.74 L295.46 966.78 L298.39 966.78 L298.39 965.79 L299.48 965.79 L299.48 966.37 L301.1 966.37 L301.1 966.42 L302.44 966.42 L302.44 966.42 L304.31 966.42 L304.31 966.13 L306.33 966.13 L306.33 966.14 L309.47 966.14 L309.47 966.66 L311.88 966.66 L311.88 964.36 L314.96 964.36 L314.96 966.52 L317.14 966.52 L317.14 965.84 L318.89 965.84 L318.89 966.19 L321.26 966.19 L321.26 966.35 L324.01 966.35 L324.01 966.44 L325.86 966.44 L325.86 966.35 L327.83 966.35 L327.83 965.15 L330.51 965.15 L330.51 966.37 L331.57 966.37 L331.57 965.91 L332.58 965.91 L332.58 965.81 L333.89 965.81 L333.89 965.56 L335.65 965.56 L335.65 966.24 L337.3 966.24 L337.3 966.6 L339.48 966.6 L339.48 966.05 L341.96 966.05 L341.96 965.89 L343.73 965.89 L343.73 966.74 L346.37 966.74 L346.37 965.92 L348.01 965.92 L348.01 964.6 L349.9 964.6 L349.9 966.27 L351.27 966.27 L351.27 965.7 L353.14 965.7 L353.14 966.1 L354.71 966.1 L354.71 966.26 L356.93 966.26 L356.93 964.93 L359.12 964.93 L359.12 966.06 L360.3 966.06 L360.3 965.61 L363.5 965.61 L363.5 965.39 L364.3 965.39 L364.3 967.3 Z" fill="#000"/>
<rect x="43.2" y="954.4" width="2.6" height="14.6" fill="#000"/>
<rect x="60.2" y="954.4" width="2.6" height="14.6" fill="#000"/>
<rect x="84" y="962" width="2" height="7" fill="#000"/>
<rect x="99.5" y="960" width="2" height="9" fill="#000"/>
<rect x="104.2" y="896.3" width="2.6" height="72.7" fill="#000"/>
<rect x="107" y="950" width="2" height="19" fill="#000"/>
<rect x="111.2" y="945.6" width="2.6" height="23.4" fill="#000"/>
<rect x="121.7" y="955.2" width="2.6" height="13.8" fill="#000"/>
<rect x="193.1" y="845.4" width="2.6" height="123.6" fill="#000"/>
<rect x="226.9" y="917" width="2.6" height="52" fill="#000"/>
<rect x="260.9" y="946" width="2.6" height="23" fill="#000"/>
<rect x="315.2" y="950.5" width="2.6" height="18.5" fill="#000"/>
<rect x="33.8" y="969" width="2.8" height="7.7" fill="#000"/>
<rect x="45.52" y="969" width="2.8" height="6.2" fill="#000"/>
<rect x="57.24" y="969" width="2.8" height="6.2" fill="#000"/>
<rect x="68.96" y="969" width="2.8" height="6.2" fill="#000"/>
<rect x="80.68" y="969" width="2.8" height="7.7" fill="#000"/>
<rect x="92.4" y="969" width="2.8" height="6.2" fill="#000"/>
<rect x="104.12" y="969" width="2.8" height="6.2" fill="#000"/>
<rect x="115.84" y="969" width="2.8" height="6.2" fill="#000"/>
<rect x="127.56" y="969" width="2.8" height="7.7" fill="#000"/>
<rect x="139.28" y="969" width="2.8" height="6.2" fill="#000"/>
<rect x="151" y="969" width="2.8" height="6.2" fill="#000"/>
<rect x="162.72" y="969" width="2.8" height="6.2" fill="#000"/>
<rect x="174.44" y="969" width="2.8" height="7.7" fill="#000"/>
<rect x="186.16" y="969" width="2.8" height="6.2" fill="#000"/>
<rect x="197.88" y="969" width="2.8" height="6.2" fill="#000"/>
<rect x="209.6" y="969" width="2.8" height="6.2" fill="#000"/>
<rect x="221.32" y="969" width="2.8" height="7.7" fill="#000"/>
<rect x="233.04" y="969" width="2.8" height="6.2" fill="#000"/>
<rect x="244.76" y="969" width="2.8" height="6.2" fill="#000"/>
<rect x="256.48" y="969" width="2.8" height="6.2" fill="#000"/>
<rect x="268.2" y="969" width="2.8" height="7.7" fill="#000"/>
<rect x="279.92" y="969" width="2.8" height="6.2" fill="#000"/>
<rect x="291.64" y="969" width="2.8" height="6.2" fill="#000"/>
<rect x="303.36" y="969" width="2.8" height="6.2" fill="#000"/>
<rect x="315.08" y="969" width="2.8" height="7.7" fill="#000"/>
<rect x="326.8" y="969" width="2.8" height="6.2" fill="#000"/>
<rect x="338.52" y="969" width="2.8" height="6.2" fill="#000"/>
<rect x="350.24" y="969" width="2.8" height="6.2" fill="#000"/>
<rect x="361.96" y="969" width="2.8" height="7.7" fill="#000"/>
<text x="44.2" y="948.2" font-size="12.5" font-weight="bold" text-anchor="middle" fill="#000" letter-spacing="0.55">639</text>
<text x="70.3" y="948.2" font-size="12.5" font-weight="bold" text-anchor="middle" fill="#000" letter-spacing="0.55">712</text>
<text x="194.2" y="842.5" font-size="12.5" font-weight="bold" text-anchor="middle" fill="#000" letter-spacing="0.55">1277</text>
<text x="228.8" y="914.1" font-size="12.5" font-weight="bold" text-anchor="middle" fill="#000" letter-spacing="0.55">1423</text>
<text x="263" y="942.7" font-size="12.5" font-weight="bold" text-anchor="middle" fill="#000" letter-spacing="0.55">1569</text>
<text x="105.5" y="892" font-size="12.5" font-weight="bold" text-anchor="middle" fill="#2a3ea0" letter-spacing="0.55">900</text>
<line x1="95.08" y1="894" x2="115.92" y2="894" stroke="#2a3ea0" stroke-width="1.3"/>
<text x="316.7" y="947.9" font-size="12.5" font-weight="bold" text-anchor="middle" fill="#2a3ea0" letter-spacing="0.55">1800</text>
<line x1="302.8" y1="949.9" x2="330.6" y2="949.9" stroke="#2a3ea0" stroke-width="1.3"/>
<text x="147.7" y="821.6" font-size="12.5" font-weight="bold" text-anchor="middle" fill="#000" letter-spacing="0.55">2+</text>
<text x="355.5" y="874.5" font-size="12.5" font-weight="bold" text-anchor="middle" fill="#000" letter-spacing="0.55">+</text>
<rect x="83.5" y="818.5" width="46.2" height="8.8" fill="#dcdcdc" stroke="#7a7a7a" stroke-width="1" rx="1"/>
<rect x="100.2" y="829" width="12.3" height="13.7" fill="#bde2e6" stroke="#5d6f70" stroke-width="1"/>
<rect x="100.2" y="844.8" width="12.3" height="13.8" fill="#bde2e6" stroke="#5d6f70" stroke-width="1"/>
<rect x="104.85" y="826.8" width="3" height="2.7" fill="#111"/>
<rect x="104.85" y="842.2" width="3" height="3.1" fill="#111"/>
<rect x="104.85" y="858.1" width="3" height="2" fill="#111"/>
<path d="M112.71 875.71 A9.2 9.2 0 1 0 99.69 875.71 L106.2 869.66 Z" fill="#8cc63f" stroke="#4d7a25" stroke-width="1"/>
<rect x="294.6" y="869.8" width="46.3" height="10.4" fill="#dcdcdc" stroke="#7a7a7a" stroke-width="1" rx="1"/>
<rect x="312" y="881.5" width="13.3" height="15.1" fill="#bde2e6" stroke="#5d6f70" stroke-width="1"/>
<rect x="312" y="898.1" width="13.3" height="13.7" fill="#bde2e6" stroke="#5d6f70" stroke-width="1"/>
<rect x="317.15" y="879.7" width="3" height="2.3" fill="#111"/>
<rect x="317.15" y="896.1" width="3" height="2.5" fill="#111"/>
<rect x="317.15" y="911.3" width="3" height="2" fill="#111"/>
<path d="M324.78 929.08 A9.3 9.3 0 1 0 311.62 929.08 L318.2 922.97 Z" fill="#8cc63f" stroke="#4d7a25" stroke-width="1"/>
<rect x="49.2" y="953.5" width="7" height="7" fill="#bde2e6" stroke="#4f6f70" stroke-width="1.1"/>
<rect x="66.8" y="953.5" width="7" height="7" fill="#bde2e6" stroke="#4f6f70" stroke-width="1.1"/>
<line x1="85" y1="957" x2="99.6" y2="957" stroke="#c2c2c2" stroke-width="3"/>
<path d="M80.8 957 L89 951.3 L84.95 957 L89 962.7 Z M103.8 957 L95.6 951.3 L99.65 957 L95.6 962.7 Z" fill="#c2c2c2"/>
<path d="M95.55 961.05 A4.6 4.6 0 1 0 89.05 961.05 L92.3 958.03 Z" fill="#8cc63f" stroke="#4d7a25" stroke-width="0.9"/>
<line x1="199.4" y1="956.7" x2="223.2" y2="956.7" stroke="#c2c2c2" stroke-width="3"/>
<path d="M195.2 956.7 L204.9 950.9 L200.18 956.7 L204.9 962.5 Z M227.4 956.7 L217.7 950.9 L222.42 956.7 L217.7 962.5 Z" fill="#c2c2c2"/>
<rect x="207.3" y="952.95" width="8" height="7.5" rx="1.5" fill="#bde2e6" stroke="#4a6468" stroke-width="1.4"/>
<line x1="233.2" y1="956.7" x2="257.2" y2="956.7" stroke="#c2c2c2" stroke-width="3"/>
<path d="M229 956.7 L238.7 950.9 L233.97 956.7 L238.7 962.5 Z M261.4 956.7 L251.7 950.9 L256.43 956.7 L251.7 962.5 Z" fill="#c2c2c2"/>
<rect x="241.2" y="952.95" width="8" height="7.5" rx="1.5" fill="#bde2e6" stroke="#4a6468" stroke-width="1.4"/>
<line x1="267.2" y1="956.7" x2="311.5" y2="956.7" stroke="#c2c2c2" stroke-width="3"/>
<path d="M263 956.7 L272.7 950.9 L267.97 956.7 L272.7 962.5 Z M315.7 956.7 L306 950.9 L310.73 956.7 L306 962.5 Z" fill="#c2c2c2"/>
<path d="M292.6 960.75 A4.6 4.6 0 1 0 286.1 960.75 L289.35 957.73 Z" fill="#8cc63f" stroke="#4d7a25" stroke-width="0.9"/>
<text x="82.08" y="992.8" font-size="12.5" font-weight="bold" text-anchor="middle" fill="#000" letter-spacing="0.55">800</text>
<text x="175.84" y="992.8" font-size="12.5" font-weight="bold" text-anchor="middle" fill="#000" letter-spacing="0.55">1200</text>
<text x="269.6" y="992.8" font-size="12.5" font-weight="bold" text-anchor="middle" fill="#000" letter-spacing="0.55">1600</text>
<text x="363.36" y="992.8" font-size="12.5" font-weight="bold" text-anchor="middle" fill="#000" letter-spacing="0.55">2000</text>
<text x="220" y="1008.5" font-size="16.5" font-weight="bold" text-anchor="middle" fill="#000" font-style="italic" textLength="21.5" lengthAdjust="spacingAndGlyphs">m/z</text>
<text x="11.5" y="1076" font-size="28" font-weight="bold" text-anchor="start" fill="#000" letter-spacing="1.2">(f)</text>
<rect x="38.3" y="1206.7" width="328" height="4.6" fill="#000"/>
<path d="M38.3 1207.2 L38.3 1206.18 L41.01 1206.18 L41.01 1206.28 L44.15 1206.28 L44.15 1206.21 L46.49 1206.21 L46.49 1205.74 L47.57 1205.74 L47.57 1206.42 L48.7 1206.42 L48.7 1205.93 L50.26 1205.93 L50.26 1206.34 L51.28 1206.34 L51.28 1206.59 L52.98 1206.59 L52.98 1206.56 L54.05 1206.56 L54.05 1206.23 L55.07 1206.23 L55.07 1206.53 L57.86 1206.53 L57.86 1206.24 L59.92 1206.24 L59.92 1206.05 L60.92 1206.05 L60.92 1205.93 L62.53 1205.93 L62.53 1206.5 L65.55 1206.5 L65.55 1205.45 L67.38 1205.45 L67.38 1206.55 L70.08 1206.55 L70.08 1206.35 L71.38 1206.35 L71.38 1205.84 L72.92 1205.84 L72.92 1204.36 L75.15 1204.36 L75.15 1206.45 L77.04 1206.45 L77.04 1206.41 L79.61 1206.41 L79.61 1205.94 L82.53 1205.94 L82.53 1206.7 L84.33 1206.7 L84.33 1206.4 L87.25 1206.4 L87.25 1206.29 L89.49 1206.29 L89.49 1206.42 L91.49 1206.42 L91.49 1206.3 L92.88 1206.3 L92.88 1206.35 L94.63 1206.35 L94.63 1205.98 L95.82 1205.98 L95.82 1206.54 L97.25 1206.54 L97.25 1206.41 L99.45 1206.41 L99.45 1205.98 L102.57 1205.98 L102.57 1206.1 L104.06 1206.1 L104.06 1206.14 L105.4 1206.14 L105.4 1206.26 L106.9 1206.26 L106.9 1206.06 L107.97 1206.06 L107.97 1205.78 L109.47 1205.78 L109.47 1203.84 L112.47 1203.84 L112.47 1205.26 L115.27 1205.26 L115.27 1205.18 L118.11 1205.18 L118.11 1206.05 L119.33 1206.05 L119.33 1204.2 L121.89 1204.2 L121.89 1205.02 L124.48 1205.02 L124.48 1205.99 L125.83 1205.99 L125.83 1206.12 L127.13 1206.12 L127.13 1205.73 L128.25 1205.73 L128.25 1206.45 L129.87 1206.45 L129.87 1206.43 L131.98 1206.43 L131.98 1205.85 L134.74 1205.85 L134.74 1206.27 L137.57 1206.27 L137.57 1206.47 L139.84 1206.47 L139.84 1206.39 L142.08 1206.39 L142.08 1206.1 L143.48 1206.1 L143.48 1206 L145.95 1206 L145.95 1205.5 L147.39 1205.5 L147.39 1206.46 L149.26 1206.46 L149.26 1206.59 L151.27 1206.59 L151.27 1205.93 L152.72 1205.93 L152.72 1206.2 L155.63 1206.2 L155.63 1206.04 L158.13 1206.04 L158.13 1206.3 L159.28 1206.3 L159.28 1206.14 L161.08 1206.14 L161.08 1205.96 L163.55 1205.96 L163.55 1206.52 L166.29 1206.52 L166.29 1206.17 L168.35 1206.17 L168.35 1206.58 L169.9 1206.58 L169.9 1206.48 L172.59 1206.48 L172.59 1206.12 L174.2 1206.12 L174.2 1205.86 L175.56 1205.86 L175.56 1206.31 L177.64 1206.31 L177.64 1205.97 L179.04 1205.97 L179.04 1205.85 L181.57 1205.85 L181.57 1205.21 L183.23 1205.21 L183.23 1206.45 L186.14 1206.45 L186.14 1206.42 L187.84 1206.42 L187.84 1206.61 L189.64 1206.61 L189.64 1206.16 L191.12 1206.16 L191.12 1206.57 L192.21 1206.57 L192.21 1205.95 L194.27 1205.95 L194.27 1205.72 L197.13 1205.72 L197.13 1206.02 L200.14 1206.02 L200.14 1205.26 L201.67 1205.26 L201.67 1205.99 L203.76 1205.99 L203.76 1205.6 L206.12 1205.6 L206.12 1205.68 L208.08 1205.68 L208.08 1206.69 L209.24 1206.69 L209.24 1205.58 L211.99 1205.58 L211.99 1204.87 L214.9 1204.87 L214.9 1205.54 L216.43 1205.54 L216.43 1206.35 L218.23 1206.35 L218.23 1206.65 L219.98 1206.65 L219.98 1205.62 L222.89 1205.62 L222.89 1206.38 L225.68 1206.38 L225.68 1205.14 L227.14 1205.14 L227.14 1206.43 L229.74 1206.43 L229.74 1205.8 L232.14 1205.8 L232.14 1206.17 L234.79 1206.17 L234.79 1205.03 L235.84 1205.03 L235.84 1206.29 L237.3 1206.29 L237.3 1206.27 L238.35 1206.27 L238.35 1206.48 L240.22 1206.48 L240.22 1204.89 L243.39 1204.89 L243.39 1206.15 L245.34 1206.15 L245.34 1205.29 L247.7 1205.29 L247.7 1205.07 L249.35 1205.07 L249.35 1206.67 L251.41 1206.67 L251.41 1206.1 L254 1206.1 L254 1205.69 L255.53 1205.69 L255.53 1206.31 L257.7 1206.31 L257.7 1206.15 L260.88 1206.15 L260.88 1206.54 L263.63 1206.54 L263.63 1204.92 L264.96 1204.92 L264.96 1206.25 L267.73 1206.25 L267.73 1206.57 L269.02 1206.57 L269.02 1206.35 L270.85 1206.35 L270.85 1205.92 L273.14 1205.92 L273.14 1206.44 L275.92 1206.44 L275.92 1206.12 L277.67 1206.12 L277.67 1206.43 L279.51 1206.43 L279.51 1205.79 L281.07 1205.79 L281.07 1205.8 L283.1 1205.8 L283.1 1206.3 L285.99 1206.3 L285.99 1206.1 L288.66 1206.1 L288.66 1206.22 L289.74 1206.22 L289.74 1205.75 L292.93 1205.75 L292.93 1205.88 L295.08 1205.88 L295.08 1205.5 L297.32 1205.5 L297.32 1205.33 L300.23 1205.33 L300.23 1205.95 L302.52 1205.95 L302.52 1206.35 L304.94 1206.35 L304.94 1206.09 L305.97 1206.09 L305.97 1206.42 L307.39 1206.42 L307.39 1206.18 L308.58 1206.18 L308.58 1205.67 L309.87 1205.67 L309.87 1206.04 L312.66 1206.04 L312.66 1206.2 L313.67 1206.2 L313.67 1205.95 L315.13 1205.95 L315.13 1206.52 L317.25 1206.52 L317.25 1205.71 L319.5 1205.71 L319.5 1205.89 L322.39 1205.89 L322.39 1205.92 L323.87 1205.92 L323.87 1206.42 L326.14 1206.42 L326.14 1206.29 L328.79 1206.29 L328.79 1206.07 L331.99 1206.07 L331.99 1206.5 L333.28 1206.5 L333.28 1206.51 L335.3 1206.51 L335.3 1206.19 L337.49 1206.19 L337.49 1206.44 L338.97 1206.44 L338.97 1206.58 L341.93 1206.58 L341.93 1204.82 L342.97 1204.82 L342.97 1205.09 L344.11 1205.09 L344.11 1205.22 L346.22 1205.22 L346.22 1206.43 L347.32 1206.43 L347.32 1205.74 L350.37 1205.74 L350.37 1206.2 L353.43 1206.2 L353.43 1206.22 L355.64 1206.22 L355.64 1206.17 L358.38 1206.17 L358.38 1204.77 L359.39 1204.77 L359.39 1206.4 L362.18 1206.4 L362.18 1206.27 L364.09 1206.27 L364.09 1206.55 L366.3 1206.55 L366.3 1207.2 Z" fill="#000"/>
<rect x="43.5" y="1200.5" width="3" height="8.5" fill="#000"/>
<rect x="46" y="1201" width="3" height="8" fill="#000"/>
<rect x="63.2" y="1195.5" width="2" height="13.5" fill="#000"/>
<rect x="78" y="1201" width="2" height="8" fill="#000"/>
<rect x="81" y="1202" width="2" height="7" fill="#000"/>
<rect x="109" y="1159.7" width="2.8" height="49.3" fill="#000"/>
<rect x="112.8" y="1186.4" width="3" height="22.6" fill="#000"/>
<rect x="115.5" y="1196" width="2" height="13" fill="#000"/>
<rect x="184.35" y="1199.6" width="2.5" height="9.4" fill="#000"/>
<rect x="195.7" y="1084.4" width="2.6" height="124.6" fill="#000"/>
<rect x="229.6" y="1158.6" width="2.6" height="50.4" fill="#000"/>
<rect x="263.8" y="1128.4" width="2.6" height="80.6" fill="#000"/>
<rect x="321" y="1179.1" width="2.6" height="29.9" fill="#000"/>
<rect x="37.6" y="1209" width="2.8" height="7.8" fill="#000"/>
<rect x="49.27" y="1209" width="2.8" height="6.3" fill="#000"/>
<rect x="60.93" y="1209" width="2.8" height="6.3" fill="#000"/>
<rect x="72.59" y="1209" width="2.8" height="6.3" fill="#000"/>
<rect x="84.26" y="1209" width="2.8" height="7.8" fill="#000"/>
<rect x="95.92" y="1209" width="2.8" height="6.3" fill="#000"/>
<rect x="107.59" y="1209" width="2.8" height="6.3" fill="#000"/>
<rect x="119.25" y="1209" width="2.8" height="6.3" fill="#000"/>
<rect x="130.92" y="1209" width="2.8" height="7.8" fill="#000"/>
<rect x="142.59" y="1209" width="2.8" height="6.3" fill="#000"/>
<rect x="154.25" y="1209" width="2.8" height="6.3" fill="#000"/>
<rect x="165.91" y="1209" width="2.8" height="6.3" fill="#000"/>
<rect x="177.58" y="1209" width="2.8" height="7.8" fill="#000"/>
<rect x="189.25" y="1209" width="2.8" height="6.3" fill="#000"/>
<rect x="200.91" y="1209" width="2.8" height="6.3" fill="#000"/>
<rect x="212.57" y="1209" width="2.8" height="6.3" fill="#000"/>
<rect x="224.24" y="1209" width="2.8" height="7.8" fill="#000"/>
<rect x="235.91" y="1209" width="2.8" height="6.3" fill="#000"/>
<rect x="247.57" y="1209" width="2.8" height="6.3" fill="#000"/>
<rect x="259.24" y="1209" width="2.8" height="6.3" fill="#000"/>
<rect x="270.9" y="1209" width="2.8" height="7.8" fill="#000"/>
<rect x="282.57" y="1209" width="2.8" height="6.3" fill="#000"/>
<rect x="294.23" y="1209" width="2.8" height="6.3" fill="#000"/>
<rect x="305.9" y="1209" width="2.8" height="6.3" fill="#000"/>
<rect x="317.56" y="1209" width="2.8" height="7.8" fill="#000"/>
<rect x="329.23" y="1209" width="2.8" height="6.3" fill="#000"/>
<rect x="340.89" y="1209" width="2.8" height="6.3" fill="#000"/>
<rect x="352.56" y="1209" width="2.8" height="6.3" fill="#000"/>
<rect x="364.22" y="1209" width="2.8" height="7.8" fill="#000"/>
<text x="197" y="1081.5" font-size="12.5" font-weight="bold" text-anchor="middle" fill="#000" letter-spacing="0.55">1277</text>
<text x="230.5" y="1156.1" font-size="12.5" font-weight="bold" text-anchor="middle" fill="#000" letter-spacing="0.55">1423</text>
<text x="265.7" y="1124.8" font-size="12.5" font-weight="bold" text-anchor="middle" fill="#000" letter-spacing="0.55">1569</text>
<text x="63.5" y="1195.6" font-size="12.5" font-weight="normal" text-anchor="middle" fill="#000" letter-spacing="0.55">712</text>
<text x="109.2" y="1156.2" font-size="12.5" font-weight="bold" text-anchor="middle" fill="#2a3ea0" letter-spacing="0.55">907</text>
<line x1="98.78" y1="1158.2" x2="119.62" y2="1158.2" stroke="#2a3ea0" stroke-width="1.3"/>
<text x="322.6" y="1177.2" font-size="12.5" font-weight="bold" text-anchor="middle" fill="#2a3ea0" letter-spacing="0.55">1814</text>
<line x1="308.7" y1="1179.2" x2="336.5" y2="1179.2" stroke="#2a3ea0" stroke-width="1.3"/>
<text x="151.5" y="1081.5" font-size="12.5" font-weight="bold" text-anchor="middle" fill="#000" letter-spacing="0.55">2+</text>
<text x="360.4" y="1101" font-size="12.5" font-weight="bold" text-anchor="middle" fill="#000" letter-spacing="0.55">+</text>
<rect x="86.5" y="1077.8" width="46.2" height="9.9" fill="#dcdcdc" stroke="#7a7a7a" stroke-width="1" rx="1"/>
<rect x="103.7" y="1090.6" width="13.2" height="13.6" fill="#bde2e6" stroke="#5d6f70" stroke-width="1"/>
<rect x="103.7" y="1105.9" width="13.2" height="14.1" fill="#bde2e6" stroke="#5d6f70" stroke-width="1"/>
<rect x="108.8" y="1087.2" width="3" height="3.9" fill="#111"/>
<rect x="108.8" y="1103.7" width="3" height="2.7" fill="#111"/>
<rect x="108.8" y="1119.5" width="3" height="2" fill="#111"/>
<circle cx="110.4" cy="1130.5" r="9.3" fill="#8cc63f" stroke="#4d7a25" stroke-width="1"/>
<rect x="299.3" y="1096.7" width="46.1" height="9.8" fill="#dcdcdc" stroke="#7a7a7a" stroke-width="1" rx="1"/>
<rect x="316.9" y="1108.4" width="12.3" height="13.7" fill="#bde2e6" stroke="#5d6f70" stroke-width="1"/>
<rect x="316.9" y="1124.5" width="12.3" height="13.6" fill="#bde2e6" stroke="#5d6f70" stroke-width="1"/>
<rect x="321.55" y="1106" width="3" height="2.9" fill="#111"/>
<rect x="321.55" y="1121.6" width="3" height="3.4" fill="#111"/>
<rect x="321.55" y="1137.6" width="3" height="2" fill="#111"/>
<circle cx="323" cy="1148.9" r="9.2" fill="#8cc63f" stroke="#4d7a25" stroke-width="1"/>
<line x1="47.1" y1="1154.8" x2="47.1" y2="1165" stroke="#8e8e8e" stroke-width="2"/>
<line x1="47.1" y1="1176.5" x2="47.1" y2="1184" stroke="#8e8e8e" stroke-width="2"/>
<line x1="47.1" y1="1187" x2="47.1" y2="1196" stroke="#8e8e8e" stroke-width="2"/>
<line x1="64.2" y1="1154.8" x2="64.2" y2="1165" stroke="#8e8e8e" stroke-width="2"/>
<line x1="64.2" y1="1176.5" x2="64.2" y2="1184" stroke="#8e8e8e" stroke-width="2"/>
<line x1="64.2" y1="1187" x2="64.2" y2="1196" stroke="#8e8e8e" stroke-width="2"/>
<line x1="81.2" y1="1154.8" x2="81.2" y2="1165" stroke="#8e8e8e" stroke-width="2"/>
<line x1="81.2" y1="1176.5" x2="81.2" y2="1184" stroke="#8e8e8e" stroke-width="2"/>
<line x1="81.2" y1="1187" x2="81.2" y2="1196" stroke="#8e8e8e" stroke-width="2"/>
<rect x="51.9" y="1167.1" width="7" height="7" fill="#bde2e6" stroke="#4f6f70" stroke-width="1.1"/>
<rect x="69.4" y="1167.1" width="7" height="7" fill="#bde2e6" stroke="#4f6f70" stroke-width="1.1"/>
<line x1="86.2" y1="1170.6" x2="104.9" y2="1170.6" stroke="#c2c2c2" stroke-width="3"/>
<path d="M82 1170.6 L90.2 1164.9 L86.15 1170.6 L90.2 1176.3 Z M109.1 1170.6 L100.9 1164.9 L104.95 1170.6 L100.9 1176.3 Z" fill="#c2c2c2"/>
<circle cx="95.55" cy="1170.6" r="4.6" fill="#8cc63f" stroke="#4d7a25" stroke-width="0.8"/>
<line x1="202" y1="1187.9" x2="225.9" y2="1187.9" stroke="#c2c2c2" stroke-width="3"/>
<path d="M197.8 1187.9 L207.5 1182.1 L202.78 1187.9 L207.5 1193.7 Z M230.1 1187.9 L220.4 1182.1 L225.12 1187.9 L220.4 1193.7 Z" fill="#c2c2c2"/>
<rect x="209.95" y="1184.15" width="8" height="7.5" rx="1.5" fill="#bde2e6" stroke="#4a6468" stroke-width="1.4"/>
<line x1="235.9" y1="1187.9" x2="260.1" y2="1187.9" stroke="#c2c2c2" stroke-width="3"/>
<path d="M231.7 1187.9 L241.4 1182.1 L236.68 1187.9 L241.4 1193.7 Z M264.3 1187.9 L254.6 1182.1 L259.33 1187.9 L254.6 1193.7 Z" fill="#c2c2c2"/>
<rect x="244" y="1184.15" width="8" height="7.5" rx="1.5" fill="#bde2e6" stroke="#4a6468" stroke-width="1.4"/>
<line x1="270.1" y1="1187.9" x2="317.3" y2="1187.9" stroke="#c2c2c2" stroke-width="3"/>
<path d="M265.9 1187.9 L275.6 1182.1 L270.88 1187.9 L275.6 1193.7 Z M321.5 1187.9 L311.8 1182.1 L316.53 1187.9 L311.8 1193.7 Z" fill="#c2c2c2"/>
<circle cx="293.7" cy="1187.9" r="4.6" fill="#8cc63f" stroke="#4d7a25" stroke-width="0.8"/>
<text x="86.86" y="1231.9" font-size="12.5" font-weight="bold" text-anchor="middle" fill="#000" letter-spacing="0.55">800</text>
<text x="180.18" y="1231.9" font-size="12.5" font-weight="bold" text-anchor="middle" fill="#000" letter-spacing="0.55">1200</text>
<text x="273.5" y="1231.9" font-size="12.5" font-weight="bold" text-anchor="middle" fill="#000" letter-spacing="0.55">1600</text>
<text x="366.82" y="1231.9" font-size="12.5" font-weight="bold" text-anchor="middle" fill="#000" letter-spacing="0.55">2000</text>
<text x="222" y="1246.5" font-size="16.5" font-weight="bold" text-anchor="middle" fill="#000" font-style="italic" textLength="21.5" lengthAdjust="spacingAndGlyphs">m/z</text>
<text x="470" y="575.6" font-size="27" font-weight="normal" text-anchor="start" fill="#000">&#916;</text>
<text x="486.5" y="575.6" font-size="27" font-weight="bold" text-anchor="start" fill="#000" font-style="italic">vioR</text>
<line x1="404.5" y1="714" x2="622" y2="714" stroke="#2c4aa6" stroke-width="4.8" stroke-linecap="round"/>
<path d="M404.5 712.1 L404.5 710.02 L405.62 710.02 L405.62 710.9 L406.75 710.9 L406.75 711.06 L409.41 711.06 L409.41 710.37 L412.58 710.37 L412.58 710.79 L414.02 710.79 L414.02 711.59 L417.45 711.59 L417.45 707.99 L419.41 707.99 L419.41 711.09 L422.54 711.09 L422.54 710.68 L425.45 710.68 L425.45 711.55 L427.16 711.55 L427.16 710.54 L429.31 710.54 L429.31 711.43 L432.12 711.43 L432.12 710.47 L433.79 710.47 L433.79 710.75 L435.82 710.75 L435.82 711.58 L438.32 711.58 L438.32 710.91 L441.47 710.91 L441.47 711.3 L444.69 711.3 L444.69 710.27 L447.74 710.27 L447.74 711.25 L449.74 711.25 L449.74 710.57 L451.56 710.57 L451.56 710.75 L454.55 710.75 L454.55 711.05 L456.72 711.05 L456.72 711.3 L458.87 711.3 L458.87 711.06 L460.32 711.06 L460.32 711.28 L462.23 711.28 L462.23 711.52 L465.24 711.52 L465.24 711.41 L466.73 711.41 L466.73 711.39 L468.69 711.39 L468.69 710.15 L470.96 710.15 L470.96 709.79 L472.58 709.79 L472.58 710.83 L475.62 710.83 L475.62 710.74 L476.8 710.74 L476.8 709.54 L477.88 709.54 L477.88 710.61 L480.83 710.61 L480.83 711.05 L483.34 711.05 L483.34 711.26 L484.72 711.26 L484.72 711.26 L488.17 711.26 L488.17 710.98 L491.46 710.98 L491.46 711.01 L492.47 711.01 L492.47 710.31 L494.56 710.31 L494.56 711.06 L496.27 711.06 L496.27 710.92 L499.17 710.92 L499.17 711.09 L502.02 711.09 L502.02 710.78 L505.26 710.78 L505.26 710.98 L507.81 710.98 L507.81 711.39 L509.46 711.39 L509.46 710.76 L510.93 710.76 L510.93 710.71 L513.24 710.71 L513.24 711.45 L514.46 711.45 L514.46 711.35 L515.61 711.35 L515.61 711 L517.85 711 L517.85 711.16 L519.34 711.16 L519.34 710.89 L522.03 710.89 L522.03 710.94 L524.37 710.94 L524.37 711.41 L527.62 711.41 L527.62 710.34 L531.02 710.34 L531.02 711.54 L533.65 711.54 L533.65 711.25 L535.45 711.25 L535.45 710.84 L538.89 710.84 L538.89 710.82 L540.88 710.82 L540.88 711.51 L542.2 711.51 L542.2 711.34 L544.5 711.34 L544.5 710.38 L545.77 710.38 L545.77 710.47 L547.76 710.47 L547.76 711.51 L549.84 711.51 L549.84 710.36 L551.09 710.36 L551.09 710.64 L552.41 710.64 L552.41 711.48 L555.43 711.48 L555.43 711.16 L558.58 711.16 L558.58 711.11 L560.93 711.11 L560.93 711.27 L562.85 711.27 L562.85 710.53 L565.68 710.53 L565.68 711.57 L567.35 711.57 L567.35 710.54 L569.01 710.54 L569.01 711.17 L572.2 711.17 L572.2 711.58 L574.8 711.58 L574.8 711.4 L576.56 711.4 L576.56 711.29 L579.42 711.29 L579.42 710.96 L580.49 710.96 L580.49 711.27 L581.59 711.27 L581.59 711.34 L584.05 711.34 L584.05 710.55 L587.49 710.55 L587.49 711.49 L590.79 711.49 L590.79 710.77 L592.25 710.77 L592.25 711.01 L594.94 711.01 L594.94 710.63 L597.83 710.63 L597.83 710.83 L600.59 710.83 L600.59 709.47 L601.71 709.47 L601.71 710.83 L604.73 710.83 L604.73 711.44 L606.49 711.44 L606.49 710.56 L608.44 710.56 L608.44 711.57 L609.45 711.57 L609.45 710.3 L611.33 710.3 L611.33 711.31 L613.56 711.31 L613.56 711.46 L615.47 711.46 L615.47 710.44 L618.8 710.44 L618.8 710.58 L619.98 710.58 L619.98 711.11 L622 711.11 L622 712.1 Z" fill="#2c4aa6"/>
<rect x="437.35" y="594.5" width="4.3" height="120.5" fill="#2c4aa6"/>
<line x1="404.5" y1="725.3" x2="622" y2="725.3" stroke="#e4202a" stroke-width="4.8" stroke-linecap="round"/>
<path d="M404.5 723.4 L404.5 721.01 L406.02 721.01 L406.02 722.46 L407.45 722.46 L407.45 722.16 L409.13 722.16 L409.13 722.39 L410.15 722.39 L410.15 720.83 L413.19 720.83 L413.19 722.47 L416.58 722.47 L416.58 722.36 L418.32 722.36 L418.32 722.13 L420.86 722.13 L420.86 722.43 L423.32 722.43 L423.32 722.66 L426.8 722.66 L426.8 722.64 L429.78 722.64 L429.78 722.5 L431.1 722.5 L431.1 722.73 L433.39 722.73 L433.39 721.41 L434.63 721.41 L434.63 721.89 L437.76 721.89 L437.76 722.81 L440.27 722.81 L440.27 722.21 L443.73 722.21 L443.73 722.39 L446.08 722.39 L446.08 722.72 L449.36 722.72 L449.36 722.49 L452.2 722.49 L452.2 721.67 L455.06 721.67 L455.06 722.72 L458.44 722.72 L458.44 722.22 L459.5 722.22 L459.5 722.55 L461.1 722.55 L461.1 722.14 L463.36 722.14 L463.36 721.09 L465.17 721.09 L465.17 722.64 L466.8 722.64 L466.8 722.22 L467.88 722.22 L467.88 722.35 L471.38 722.35 L471.38 722.89 L472.88 722.89 L472.88 722.06 L475.9 722.06 L475.9 722.78 L477.4 722.78 L477.4 722.18 L479.91 722.18 L479.91 722.34 L481.39 722.34 L481.39 722.5 L484.62 722.5 L484.62 722.66 L487.28 722.66 L487.28 722.55 L489.56 722.55 L489.56 722.85 L491.44 722.85 L491.44 722.4 L492.46 722.4 L492.46 722.26 L495.3 722.26 L495.3 722.6 L498.61 722.6 L498.61 722.82 L501.5 722.82 L501.5 722.9 L504.01 722.9 L504.01 722.09 L506.63 722.09 L506.63 722.09 L508.21 722.09 L508.21 720.83 L511.48 720.83 L511.48 721.55 L512.68 721.55 L512.68 722.62 L516.02 722.62 L516.02 722.04 L519.45 722.04 L519.45 721.55 L520.9 721.55 L520.9 721.37 L524.39 721.37 L524.39 722.82 L525.5 722.82 L525.5 722.7 L527.71 722.7 L527.71 722.14 L531.21 722.14 L531.21 722.5 L532.36 722.5 L532.36 722.72 L534 722.72 L534 722.53 L536.64 722.53 L536.64 722.34 L539.58 722.34 L539.58 722.64 L542.24 722.64 L542.24 721.92 L544.4 721.92 L544.4 716.55 L545.41 716.55 L545.41 715.89 L548.86 715.89 L548.86 722.31 L551.34 722.31 L551.34 722.41 L553.33 722.41 L553.33 720.54 L554.57 720.54 L554.57 722.76 L556.68 722.76 L556.68 721.44 L559.02 721.44 L559.02 722.23 L562.08 722.23 L562.08 722.74 L564.25 722.74 L564.25 722.61 L565.44 722.61 L565.44 722.66 L567.29 722.66 L567.29 722.17 L569.85 722.17 L569.85 722.85 L571.81 722.85 L571.81 722.39 L573.41 722.39 L573.41 721.86 L574.89 721.86 L574.89 722.6 L577.8 722.6 L577.8 722.67 L579.1 722.67 L579.1 722.81 L582.15 722.81 L582.15 722.27 L584.47 722.27 L584.47 721.56 L586.57 721.56 L586.57 722.39 L589.39 722.39 L589.39 721.93 L591.49 721.93 L591.49 722.41 L593.98 722.41 L593.98 722.77 L596.6 722.77 L596.6 722.36 L598.53 722.36 L598.53 722.72 L601.97 722.72 L601.97 722.13 L605.18 722.13 L605.18 722.71 L607.46 722.71 L607.46 722.34 L608.54 722.34 L608.54 722.77 L610.26 722.77 L610.26 722.17 L613.14 722.17 L613.14 722.02 L615.32 722.02 L615.32 722.66 L617.2 722.66 L617.2 721.92 L618.69 721.92 L618.69 719.93 L620.11 719.93 L620.11 720.56 L622 720.56 L622 723.4 Z" fill="#e4202a"/>
<rect x="544.45" y="603.4" width="4.3" height="122.9" fill="#e4202a"/>
<rect x="541.75" y="700" width="6.5" height="26.3" fill="#e4202a"/>
<rect x="506.9" y="710.5" width="2.6" height="15.8" fill="#e4202a"/>
<rect x="404.5" y="730.5" width="218" height="3" fill="#000"/>
<rect x="406.61" y="730.5" width="2.4" height="5.5" fill="#000"/>
<rect x="413.28" y="730.5" width="2.4" height="5.5" fill="#000"/>
<rect x="419.95" y="730.5" width="2.4" height="7.8" fill="#000"/>
<rect x="426.62" y="730.5" width="2.4" height="5.5" fill="#000"/>
<rect x="433.29" y="730.5" width="2.4" height="5.5" fill="#000"/>
<rect x="439.96" y="730.5" width="2.4" height="5.5" fill="#000"/>
<rect x="446.63" y="730.5" width="2.4" height="5.5" fill="#000"/>
<rect x="453.3" y="730.5" width="2.4" height="7.8" fill="#000"/>
<rect x="459.97" y="730.5" width="2.4" height="5.5" fill="#000"/>
<rect x="466.64" y="730.5" width="2.4" height="5.5" fill="#000"/>
<rect x="473.31" y="730.5" width="2.4" height="5.5" fill="#000"/>
<rect x="479.98" y="730.5" width="2.4" height="5.5" fill="#000"/>
<rect x="486.65" y="730.5" width="2.4" height="7.8" fill="#000"/>
<rect x="493.32" y="730.5" width="2.4" height="5.5" fill="#000"/>
<rect x="499.99" y="730.5" width="2.4" height="5.5" fill="#000"/>
<rect x="506.66" y="730.5" width="2.4" height="5.5" fill="#000"/>
<rect x="513.33" y="730.5" width="2.4" height="5.5" fill="#000"/>
<rect x="520" y="730.5" width="2.4" height="7.8" fill="#000"/>
<rect x="526.67" y="730.5" width="2.4" height="5.5" fill="#000"/>
<rect x="533.34" y="730.5" width="2.4" height="5.5" fill="#000"/>
<rect x="540.01" y="730.5" width="2.4" height="5.5" fill="#000"/>
<rect x="546.68" y="730.5" width="2.4" height="5.5" fill="#000"/>
<rect x="553.35" y="730.5" width="2.4" height="7.8" fill="#000"/>
<rect x="560.02" y="730.5" width="2.4" height="5.5" fill="#000"/>
<rect x="566.69" y="730.5" width="2.4" height="5.5" fill="#000"/>
<rect x="573.36" y="730.5" width="2.4" height="5.5" fill="#000"/>
<rect x="580.03" y="730.5" width="2.4" height="5.5" fill="#000"/>
<rect x="586.7" y="730.5" width="2.4" height="7.8" fill="#000"/>
<rect x="593.37" y="730.5" width="2.4" height="5.5" fill="#000"/>
<rect x="600.04" y="730.5" width="2.4" height="5.5" fill="#000"/>
<rect x="606.71" y="730.5" width="2.4" height="5.5" fill="#000"/>
<rect x="613.38" y="730.5" width="2.4" height="5.5" fill="#000"/>
<rect x="620.05" y="730.5" width="2.4" height="7.8" fill="#000"/>
<rect x="620.5" y="730.5" width="2.4" height="7" fill="#000"/>
<text x="440" y="591.7" font-size="12.6" font-weight="bold" text-anchor="middle" fill="#000" letter-spacing="0.55">15.7</text>
<text x="548.2" y="601.1" font-size="12.6" font-weight="bold" text-anchor="middle" fill="#000" letter-spacing="0.55">47.5</text>
<text x="530.5" y="711.7" font-size="12.6" font-weight="bold" text-anchor="middle" fill="#000" letter-spacing="0.55">47.2</text>
<text x="454.5" y="751" font-size="12.6" font-weight="bold" text-anchor="middle" fill="#000" letter-spacing="0.55">20</text>
<text x="521.2" y="751" font-size="12.6" font-weight="bold" text-anchor="middle" fill="#000" letter-spacing="0.55">40</text>
<text x="587.8" y="751" font-size="12.6" font-weight="bold" text-anchor="middle" fill="#000" letter-spacing="0.55">60</text>
<path d="M372.7 653.7 L397 641 L393.6 649.8 L400.2 649.8 L400.2 657.6 L393.6 657.6 L397 665.4 Z" fill="#2c4aa6"/>
<path d="M636.9 653.2 L613 641.5 L615.4 650.1 L609.5 650.1 L609.5 657.8 L615.4 657.8 L613 665.4 Z" fill="#e4202a"/>
<text x="470" y="815" font-size="27" font-weight="normal" text-anchor="start" fill="#000">&#916;</text>
<text x="486.5" y="815" font-size="27" font-weight="bold" text-anchor="start" fill="#000" font-style="italic">vioM</text>
<line x1="404.5" y1="955.2" x2="622" y2="955.2" stroke="#2c4aa6" stroke-width="3.4" stroke-linecap="round"/>
<path d="M404.5 954 L404.5 953.31 L406.79 953.31 L406.79 953.35 L408.21 953.35 L408.21 953.34 L410.76 953.34 L410.76 953.15 L413.87 953.15 L413.87 953.32 L415.61 953.32 L415.61 952.88 L416.88 952.88 L416.88 953.11 L418.24 953.11 L418.24 953.3 L420.31 953.3 L420.31 953.45 L423.1 953.45 L423.1 953.3 L424.3 953.3 L424.3 953.46 L426.46 953.46 L426.46 953.24 L429.39 953.24 L429.39 953.38 L431.78 953.38 L431.78 953.36 L433.78 953.36 L433.78 953.5 L437.17 953.5 L437.17 951.45 L440.24 951.45 L440.24 953.19 L441.43 953.19 L441.43 953.48 L443.01 953.48 L443.01 953.47 L444.33 953.47 L444.33 953.46 L447.71 953.46 L447.71 953.37 L449.84 953.37 L449.84 953.29 L451.97 953.29 L451.97 953.35 L454.53 953.35 L454.53 953.44 L456.49 953.44 L456.49 953.36 L457.81 953.36 L457.81 952.83 L459.12 952.83 L459.12 953.45 L461.61 953.45 L461.61 953.17 L464.12 953.17 L464.12 953.48 L465.14 953.48 L465.14 953.38 L467.22 953.38 L467.22 953.11 L469.64 953.11 L469.64 953.29 L471.96 953.29 L471.96 953.32 L473.32 953.32 L473.32 953.17 L476.43 953.17 L476.43 953.47 L478.94 953.47 L478.94 953.3 L481.54 953.3 L481.54 953.17 L484.11 953.17 L484.11 953.33 L487.23 953.33 L487.23 953.46 L488.95 953.46 L488.95 953.06 L490.77 953.06 L490.77 953.28 L492.01 953.28 L492.01 953.49 L495.23 953.49 L495.23 951.65 L497.64 951.65 L497.64 952.99 L499.03 952.99 L499.03 953.2 L501.88 953.2 L501.88 953.43 L503.08 953.43 L503.08 953.41 L504.36 953.41 L504.36 953.11 L506.49 953.11 L506.49 951.75 L507.86 951.75 L507.86 952.08 L511.13 952.08 L511.13 953.35 L512.26 953.35 L512.26 953.2 L513.77 953.2 L513.77 953.37 L516.32 953.37 L516.32 953.38 L518.92 953.38 L518.92 953.36 L522.33 953.36 L522.33 953.39 L524.15 953.39 L524.15 953.35 L526.66 953.35 L526.66 953.5 L530.05 953.5 L530.05 953.23 L533.52 953.23 L533.52 953.49 L534.69 953.49 L534.69 953.21 L536 953.21 L536 952.46 L538.73 952.46 L538.73 951.48 L540.17 951.48 L540.17 953.08 L542.16 953.08 L542.16 953.41 L544.44 953.41 L544.44 953.06 L547.53 953.06 L547.53 953.32 L550.48 953.32 L550.48 953.43 L551.94 953.43 L551.94 953.25 L554.34 953.25 L554.34 952.93 L557.57 952.93 L557.57 953.48 L559.29 953.48 L559.29 953.21 L561.1 953.21 L561.1 953.24 L563.18 953.24 L563.18 953.15 L564.65 953.15 L564.65 953.4 L567.12 953.4 L567.12 953.46 L568.77 953.46 L568.77 953.45 L570.06 953.45 L570.06 953.42 L572.55 953.42 L572.55 952.71 L574.48 952.71 L574.48 950.65 L576.68 950.65 L576.68 953.25 L580.01 953.25 L580.01 953.49 L581.97 953.49 L581.97 953.26 L585.35 953.26 L585.35 953.37 L586.42 953.37 L586.42 952.81 L589.05 952.81 L589.05 953.18 L591.42 953.18 L591.42 953.33 L594.45 953.33 L594.45 953.39 L596.92 953.39 L596.92 953.44 L598.78 953.44 L598.78 953.43 L600.84 953.43 L600.84 953.32 L602.08 953.32 L602.08 953.23 L604.94 953.23 L604.94 953.29 L607.13 953.29 L607.13 953.41 L608.92 953.41 L608.92 953.24 L611.02 953.24 L611.02 953.2 L612.91 953.2 L612.91 953.01 L614.32 953.01 L614.32 953.33 L617.1 953.33 L617.1 953.03 L619.01 953.03 L619.01 953.39 L620.99 953.39 L620.99 953.44 L622 953.44 L622 954 Z" fill="#2c4aa6"/>
<rect x="443.25" y="833.4" width="4.3" height="122.8" fill="#2c4aa6"/>
<line x1="404.5" y1="964.6" x2="622" y2="964.6" stroke="#e4202a" stroke-width="3.2" stroke-linecap="round"/>
<path d="M404.5 963.5 L404.5 962.87 L407.9 962.87 L407.9 962.74 L411.39 962.74 L411.39 962.67 L412.73 962.67 L412.73 962.79 L415.51 962.79 L415.51 962.83 L417.84 962.83 L417.84 962.76 L420.2 962.76 L420.2 962.8 L423.31 962.8 L423.31 962.7 L426.73 962.7 L426.73 962.74 L430.09 962.74 L430.09 962.67 L432.3 962.67 L432.3 962.66 L435.41 962.66 L435.41 962.93 L438.54 962.93 L438.54 960.44 L441.69 960.44 L441.69 962.7 L443.05 962.7 L443.05 962.86 L445.09 962.86 L445.09 962.98 L447.93 962.98 L447.93 962.93 L451.23 962.93 L451.23 962.86 L453.66 962.86 L453.66 962.87 L456.06 962.87 L456.06 962.06 L457.35 962.06 L457.35 962.66 L459.07 962.66 L459.07 962.92 L461.71 962.92 L461.71 962.93 L464.85 962.93 L464.85 962.87 L468.28 962.87 L468.28 962.85 L469.73 962.85 L469.73 962.95 L472.16 962.95 L472.16 962.46 L474.74 962.46 L474.74 962.74 L475.77 962.74 L475.77 962.79 L477.46 962.79 L477.46 962.53 L478.8 962.53 L478.8 962.86 L480.99 962.86 L480.99 962.99 L483.08 962.99 L483.08 962.97 L484.7 962.97 L484.7 962.86 L486.6 962.86 L486.6 962.85 L488.72 962.85 L488.72 962.99 L490.44 962.99 L490.44 962.59 L491.82 962.59 L491.82 962.94 L494.68 962.94 L494.68 962.97 L496.63 962.97 L496.63 962.82 L499.69 962.82 L499.69 962.83 L502.06 962.83 L502.06 962.98 L504.72 962.98 L504.72 962.63 L506.43 962.63 L506.43 960.52 L507.82 960.52 L507.82 960.64 L509.95 960.64 L509.95 962.89 L512.42 962.89 L512.42 962.16 L513.49 962.16 L513.49 962.88 L514.6 962.88 L514.6 962.76 L515.85 962.76 L515.85 962.66 L517.86 962.66 L517.86 962.88 L521.21 962.88 L521.21 962.83 L524.42 962.83 L524.42 962.84 L527.17 962.84 L527.17 962.88 L528.94 962.88 L528.94 962.88 L532 962.88 L532 962.91 L533.82 962.91 L533.82 962.93 L535.82 962.93 L535.82 962.81 L538.58 962.81 L538.58 962.83 L539.81 962.83 L539.81 962.52 L543.01 962.52 L543.01 962.9 L544.8 962.9 L544.8 962.76 L547.64 962.76 L547.64 962.06 L549.56 962.06 L549.56 958.84 L552.54 958.84 L552.54 959.58 L555.34 959.58 L555.34 962.65 L557.54 962.65 L557.54 962.2 L559.91 962.2 L559.91 962.88 L562.46 962.88 L562.46 962.71 L563.49 962.71 L563.49 962.94 L565.44 962.94 L565.44 963 L568.92 963 L568.92 962.66 L570.58 962.66 L570.58 962.8 L573.83 962.8 L573.83 962.25 L574.85 962.25 L574.85 962.7 L577.56 962.7 L577.56 960.76 L580.09 960.76 L580.09 958.97 L581.24 958.97 L581.24 959.49 L584.73 959.49 L584.73 962.54 L586.64 962.54 L586.64 962.95 L588.05 962.95 L588.05 962.84 L590 962.84 L590 962.57 L593.01 962.57 L593.01 962.93 L596.46 962.93 L596.46 962.83 L597.5 962.83 L597.5 962.97 L598.92 962.97 L598.92 962.96 L600.31 962.96 L600.31 962.95 L602.19 962.95 L602.19 962.79 L603.89 962.79 L603.89 962.73 L606.7 962.73 L606.7 962.76 L607.78 962.76 L607.78 963 L609.15 963 L609.15 962.97 L611.21 962.97 L611.21 962.79 L614.49 962.79 L614.49 962.97 L615.51 962.97 L615.51 962.89 L617.65 962.89 L617.65 962.8 L619.62 962.8 L619.62 962.61 L621.29 962.61 L621.29 962.95 L622 962.95 L622 963.5 Z" fill="#e4202a"/>
<rect x="545.6" y="841.6" width="4.4" height="124" fill="#e4202a"/>
<rect x="543.65" y="865" width="3.5" height="100.6" fill="#e4202a"/>
<rect x="573" y="954" width="2.6" height="11.6" fill="#e4202a"/>
<rect x="575.75" y="958" width="2.5" height="7.6" fill="#e4202a"/>
<rect x="404.5" y="969" width="218" height="3" fill="#000"/>
<rect x="406.61" y="969" width="2.4" height="5.5" fill="#000"/>
<rect x="413.28" y="969" width="2.4" height="5.5" fill="#000"/>
<rect x="419.95" y="969" width="2.4" height="7.8" fill="#000"/>
<rect x="426.62" y="969" width="2.4" height="5.5" fill="#000"/>
<rect x="433.29" y="969" width="2.4" height="5.5" fill="#000"/>
<rect x="439.96" y="969" width="2.4" height="5.5" fill="#000"/>
<rect x="446.63" y="969" width="2.4" height="5.5" fill="#000"/>
<rect x="453.3" y="969" width="2.4" height="7.8" fill="#000"/>
<rect x="459.97" y="969" width="2.4" height="5.5" fill="#000"/>
<rect x="466.64" y="969" width="2.4" height="5.5" fill="#000"/>
<rect x="473.31" y="969" width="2.4" height="5.5" fill="#000"/>
<rect x="479.98" y="969" width="2.4" height="5.5" fill="#000"/>
<rect x="486.65" y="969" width="2.4" height="7.8" fill="#000"/>
<rect x="493.32" y="969" width="2.4" height="5.5" fill="#000"/>
<rect x="499.99" y="969" width="2.4" height="5.5" fill="#000"/>
<rect x="506.66" y="969" width="2.4" height="5.5" fill="#000"/>
<rect x="513.33" y="969" width="2.4" height="5.5" fill="#000"/>
<rect x="520" y="969" width="2.4" height="7.8" fill="#000"/>
<rect x="526.67" y="969" width="2.4" height="5.5" fill="#000"/>
<rect x="533.34" y="969" width="2.4" height="5.5" fill="#000"/>
<rect x="540.01" y="969" width="2.4" height="5.5" fill="#000"/>
<rect x="546.68" y="969" width="2.4" height="5.5" fill="#000"/>
<rect x="553.35" y="969" width="2.4" height="7.8" fill="#000"/>
<rect x="560.02" y="969" width="2.4" height="5.5" fill="#000"/>
<rect x="566.69" y="969" width="2.4" height="5.5" fill="#000"/>
<rect x="573.36" y="969" width="2.4" height="5.5" fill="#000"/>
<rect x="580.03" y="969" width="2.4" height="5.5" fill="#000"/>
<rect x="586.7" y="969" width="2.4" height="7.8" fill="#000"/>
<rect x="593.37" y="969" width="2.4" height="5.5" fill="#000"/>
<rect x="600.04" y="969" width="2.4" height="5.5" fill="#000"/>
<rect x="606.71" y="969" width="2.4" height="5.5" fill="#000"/>
<rect x="613.38" y="969" width="2.4" height="5.5" fill="#000"/>
<rect x="620.05" y="969" width="2.4" height="7.8" fill="#000"/>
<rect x="620.5" y="969" width="2.4" height="7" fill="#000"/>
<text x="448.2" y="829.8" font-size="12.6" font-weight="bold" text-anchor="middle" fill="#000" letter-spacing="0.55">18.0</text>
<text x="550" y="839.7" font-size="12.6" font-weight="bold" text-anchor="middle" fill="#000" letter-spacing="0.55">48.5</text>
<text x="533.3" y="860.8" font-size="12.6" font-weight="bold" text-anchor="middle" fill="#000" letter-spacing="0.55">47.7</text>
<text x="454.5" y="990" font-size="12.6" font-weight="bold" text-anchor="middle" fill="#000" letter-spacing="0.55">20</text>
<text x="521.2" y="990" font-size="12.6" font-weight="bold" text-anchor="middle" fill="#000" letter-spacing="0.55">40</text>
<text x="587.8" y="990" font-size="12.6" font-weight="bold" text-anchor="middle" fill="#000" letter-spacing="0.55">60</text>
<path d="M372.7 894.3 L397 881.6 L393.6 890.4 L400.2 890.4 L400.2 898.2 L393.6 898.2 L397 906 Z" fill="#2c4aa6"/>
<path d="M636.9 894.3 L613 882.6 L615.4 891.2 L609.5 891.2 L609.5 898.9 L615.4 898.9 L613 906.5 Z" fill="#e4202a"/>
<text x="484.5" y="1054" font-size="26" font-weight="normal" text-anchor="start" fill="#000">WT</text>
<line x1="404.5" y1="1194.6" x2="622" y2="1194.6" stroke="#2c4aa6" stroke-width="4.3" stroke-linecap="round"/>
<path d="M404.5 1192.95 L404.5 1192.33 L407.68 1192.33 L407.68 1192.41 L409.7 1192.41 L409.7 1192.32 L412.42 1192.32 L412.42 1192.31 L414.42 1192.31 L414.42 1192.37 L416.54 1192.37 L416.54 1192.43 L418.35 1192.43 L418.35 1192.44 L420.27 1192.44 L420.27 1192.36 L422.23 1192.36 L422.23 1192.41 L424.51 1192.41 L424.51 1192.45 L426.57 1192.45 L426.57 1192.43 L428.27 1192.43 L428.27 1192.4 L429.99 1192.4 L429.99 1192.4 L432.39 1192.4 L432.39 1192.41 L433.59 1192.41 L433.59 1192.41 L435.36 1192.41 L435.36 1192.45 L437.1 1192.45 L437.1 1192.38 L438.32 1192.38 L438.32 1192.42 L439.51 1192.42 L439.51 1192.29 L442.21 1192.29 L442.21 1192.44 L445.01 1192.44 L445.01 1192.41 L447 1192.41 L447 1192.39 L450.1 1192.39 L450.1 1192.44 L452.04 1192.44 L452.04 1192.39 L453.11 1192.39 L453.11 1192.43 L455.59 1192.43 L455.59 1192.43 L457.01 1192.43 L457.01 1192.34 L458.85 1192.34 L458.85 1192.44 L461.74 1192.44 L461.74 1192.4 L462.8 1192.4 L462.8 1192.43 L464.08 1192.43 L464.08 1192.4 L465.52 1192.4 L465.52 1192.38 L466.74 1192.38 L466.74 1192.35 L467.95 1192.35 L467.95 1192.44 L469.56 1192.44 L469.56 1192.41 L471.76 1192.41 L471.76 1192.4 L475.15 1192.4 L475.15 1192.45 L476.95 1192.45 L476.95 1192.34 L479.46 1192.34 L479.46 1192.42 L481.42 1192.42 L481.42 1192.36 L482.64 1192.36 L482.64 1192.44 L484.09 1192.44 L484.09 1192.4 L487.59 1192.4 L487.59 1192.43 L491.08 1192.43 L491.08 1192.39 L492.89 1192.39 L492.89 1192.45 L496.29 1192.45 L496.29 1192.22 L499.28 1192.22 L499.28 1192.35 L500.89 1192.35 L500.89 1192.34 L502.83 1192.34 L502.83 1192.38 L503.94 1192.38 L503.94 1192.39 L506.41 1192.39 L506.41 1192.44 L507.91 1192.44 L507.91 1192.42 L510.81 1192.42 L510.81 1192.35 L513.16 1192.35 L513.16 1192.44 L515.96 1192.44 L515.96 1192.39 L517 1192.39 L517 1192.44 L518.83 1192.44 L518.83 1192.33 L521.24 1192.33 L521.24 1192.4 L523.3 1192.4 L523.3 1192.41 L525.4 1192.41 L525.4 1192.44 L528.29 1192.44 L528.29 1192.42 L529.92 1192.42 L529.92 1192.44 L531.07 1192.44 L531.07 1192.37 L532.71 1192.37 L532.71 1192.44 L535.84 1192.44 L535.84 1192.41 L537.64 1192.41 L537.64 1192.34 L539.83 1192.34 L539.83 1192.35 L542.54 1192.35 L542.54 1192.44 L543.81 1192.44 L543.81 1192.39 L545.88 1192.39 L545.88 1192.28 L547.68 1192.28 L547.68 1192.31 L550.58 1192.31 L550.58 1192.42 L553.26 1192.42 L553.26 1192.38 L554.44 1192.38 L554.44 1192.23 L556.36 1192.23 L556.36 1192.39 L558.37 1192.39 L558.37 1192.3 L559.42 1192.3 L559.42 1192.33 L562.13 1192.33 L562.13 1192.43 L564.18 1192.43 L564.18 1192.38 L566.83 1192.38 L566.83 1192.39 L567.91 1192.39 L567.91 1192.41 L569.91 1192.41 L569.91 1192.4 L571.06 1192.4 L571.06 1192.37 L573.68 1192.37 L573.68 1192.35 L574.79 1192.35 L574.79 1192.29 L578.28 1192.29 L578.28 1192.44 L581.63 1192.44 L581.63 1192.38 L583.84 1192.38 L583.84 1192.43 L586.92 1192.43 L586.92 1189.92 L588.52 1189.92 L588.52 1191.91 L589.58 1191.91 L589.58 1192.32 L590.9 1192.32 L590.9 1192.32 L592.29 1192.32 L592.29 1192.34 L595.47 1192.34 L595.47 1192.43 L598.37 1192.43 L598.37 1192.4 L601.16 1192.4 L601.16 1192.3 L603.42 1192.3 L603.42 1192.38 L605.54 1192.38 L605.54 1192.42 L607.73 1192.42 L607.73 1192.41 L609.49 1192.41 L609.49 1192.44 L612.33 1192.44 L612.33 1192.41 L615.77 1192.41 L615.77 1192.44 L619.09 1192.44 L619.09 1192.43 L620.69 1192.43 L620.69 1192.42 L622 1192.42 L622 1192.95 Z" fill="#2c4aa6"/>
<rect x="450.25" y="1072.2" width="4.3" height="123.4" fill="#2c4aa6"/>
<rect x="503.85" y="1180" width="3.5" height="15.6" fill="#2c4aa6"/>
<rect x="519.2" y="1162.4" width="3.2" height="33.2" fill="#2c4aa6"/>
<rect x="496.35" y="1191" width="2.5" height="4.6" fill="#2c4aa6"/>
<line x1="404.5" y1="1203.6" x2="622" y2="1203.6" stroke="#e4202a" stroke-width="4.3" stroke-linecap="round"/>
<path d="M404.5 1201.95 L404.5 1201.34 L406.27 1201.34 L406.27 1201.44 L409.45 1201.44 L409.45 1201.33 L411.12 1201.33 L411.12 1201.45 L412.57 1201.45 L412.57 1201.39 L414.28 1201.39 L414.28 1201.39 L417.68 1201.39 L417.68 1201.29 L420.1 1201.29 L420.1 1201.44 L423.59 1201.44 L423.59 1201.34 L427.03 1201.34 L427.03 1201.39 L429.53 1201.39 L429.53 1201.35 L432.13 1201.35 L432.13 1201.38 L433.83 1201.38 L433.83 1201.35 L436.25 1201.35 L436.25 1201.3 L437.49 1201.3 L437.49 1201.4 L440.93 1201.4 L440.93 1201.39 L442.39 1201.39 L442.39 1201.41 L445.78 1201.41 L445.78 1201.41 L446.98 1201.41 L446.98 1201.44 L448.31 1201.44 L448.31 1201.44 L451.69 1201.44 L451.69 1201.43 L453.54 1201.43 L453.54 1201.45 L455.45 1201.45 L455.45 1201.36 L458.4 1201.36 L458.4 1201.39 L461 1201.39 L461 1201.44 L462.68 1201.44 L462.68 1201.41 L465.84 1201.41 L465.84 1201.33 L468.59 1201.33 L468.59 1201.43 L469.76 1201.43 L469.76 1201.41 L472.29 1201.41 L472.29 1201.43 L473.55 1201.43 L473.55 1201.4 L475.94 1201.4 L475.94 1201.38 L477.15 1201.38 L477.15 1201.36 L478.81 1201.36 L478.81 1201.4 L481.55 1201.4 L481.55 1201.3 L484.56 1201.3 L484.56 1201.35 L486.95 1201.35 L486.95 1201.43 L489.38 1201.43 L489.38 1201.44 L491.6 1201.44 L491.6 1201.44 L494.6 1201.44 L494.6 1201.4 L496.26 1201.4 L496.26 1201.44 L497.44 1201.44 L497.44 1201.43 L499.36 1201.43 L499.36 1201.43 L502.37 1201.43 L502.37 1201.44 L503.91 1201.44 L503.91 1201.45 L505.64 1201.45 L505.64 1201.35 L508.9 1201.35 L508.9 1201.37 L511.07 1201.37 L511.07 1201.33 L513.75 1201.33 L513.75 1201.35 L515.76 1201.35 L515.76 1201.41 L519.23 1201.41 L519.23 1201.43 L520.99 1201.43 L520.99 1201.36 L522.81 1201.36 L522.81 1201.38 L524.5 1201.38 L524.5 1201.44 L525.8 1201.44 L525.8 1201.41 L527.3 1201.41 L527.3 1201.43 L529.45 1201.43 L529.45 1201.24 L530.82 1201.24 L530.82 1201.39 L532.25 1201.39 L532.25 1201.34 L533.43 1201.34 L533.43 1201.37 L535.14 1201.37 L535.14 1201.41 L537.63 1201.41 L537.63 1201.36 L540.58 1201.36 L540.58 1201.41 L541.6 1201.41 L541.6 1201.38 L544.78 1201.38 L544.78 1201.44 L547.74 1201.44 L547.74 1201.25 L550.57 1201.25 L550.57 1201.37 L551.76 1201.37 L551.76 1201.4 L554.77 1201.4 L554.77 1201.41 L556.62 1201.41 L556.62 1201.43 L558.89 1201.43 L558.89 1201.14 L560.2 1201.14 L560.2 1200.55 L561.49 1200.55 L561.49 1199.57 L562.62 1199.57 L562.62 1199.57 L565.58 1199.57 L565.58 1201.27 L567.83 1201.27 L567.83 1201.36 L569.42 1201.36 L569.42 1201.38 L571.32 1201.38 L571.32 1201.27 L574.67 1201.27 L574.67 1199.5 L577.3 1199.5 L577.3 1200.86 L578.65 1200.86 L578.65 1201.36 L580.97 1201.36 L580.97 1201.28 L583.53 1201.28 L583.53 1201.41 L586.55 1201.41 L586.55 1201.38 L589.79 1201.38 L589.79 1201.43 L591.12 1201.43 L591.12 1201.45 L593.61 1201.45 L593.61 1201.36 L596.64 1201.36 L596.64 1201.26 L598.25 1201.26 L598.25 1201.45 L601.18 1201.45 L601.18 1201.35 L602.52 1201.35 L602.52 1201.42 L603.67 1201.42 L603.67 1201.32 L604.97 1201.32 L604.97 1201.38 L606.17 1201.38 L606.17 1201.35 L609.46 1201.35 L609.46 1201.36 L612.42 1201.36 L612.42 1201.44 L614.96 1201.44 L614.96 1201.44 L617.15 1201.44 L617.15 1201.33 L620.16 1201.33 L620.16 1198.45 L622 1198.45 L622 1201.95 Z" fill="#e4202a"/>
<rect x="552.3" y="1081.6" width="4.2" height="123" fill="#e4202a"/>
<rect x="547.5" y="1164.8" width="6" height="39.8" fill="#e4202a"/>
<rect x="480.4" y="1198.7" width="2.6" height="5.9" fill="#e4202a"/>
<rect x="404.5" y="1208" width="218" height="3" fill="#000"/>
<rect x="406.61" y="1208" width="2.4" height="5.5" fill="#000"/>
<rect x="413.28" y="1208" width="2.4" height="5.5" fill="#000"/>
<rect x="419.95" y="1208" width="2.4" height="7.8" fill="#000"/>
<rect x="426.62" y="1208" width="2.4" height="5.5" fill="#000"/>
<rect x="433.29" y="1208" width="2.4" height="5.5" fill="#000"/>
<rect x="439.96" y="1208" width="2.4" height="5.5" fill="#000"/>
<rect x="446.63" y="1208" width="2.4" height="5.5" fill="#000"/>
<rect x="453.3" y="1208" width="2.4" height="7.8" fill="#000"/>
<rect x="459.97" y="1208" width="2.4" height="5.5" fill="#000"/>
<rect x="466.64" y="1208" width="2.4" height="5.5" fill="#000"/>
<rect x="473.31" y="1208" width="2.4" height="5.5" fill="#000"/>
<rect x="479.98" y="1208" width="2.4" height="5.5" fill="#000"/>
<rect x="486.65" y="1208" width="2.4" height="7.8" fill="#000"/>
<rect x="493.32" y="1208" width="2.4" height="5.5" fill="#000"/>
<rect x="499.99" y="1208" width="2.4" height="5.5" fill="#000"/>
<rect x="506.66" y="1208" width="2.4" height="5.5" fill="#000"/>
<rect x="513.33" y="1208" width="2.4" height="5.5" fill="#000"/>
<rect x="520" y="1208" width="2.4" height="7.8" fill="#000"/>
<rect x="526.67" y="1208" width="2.4" height="5.5" fill="#000"/>
<rect x="533.34" y="1208" width="2.4" height="5.5" fill="#000"/>
<rect x="540.01" y="1208" width="2.4" height="5.5" fill="#000"/>
<rect x="546.68" y="1208" width="2.4" height="5.5" fill="#000"/>
<rect x="553.35" y="1208" width="2.4" height="7.8" fill="#000"/>
<rect x="560.02" y="1208" width="2.4" height="5.5" fill="#000"/>
<rect x="566.69" y="1208" width="2.4" height="5.5" fill="#000"/>
<rect x="573.36" y="1208" width="2.4" height="5.5" fill="#000"/>
<rect x="580.03" y="1208" width="2.4" height="5.5" fill="#000"/>
<rect x="586.7" y="1208" width="2.4" height="7.8" fill="#000"/>
<rect x="593.37" y="1208" width="2.4" height="5.5" fill="#000"/>
<rect x="600.04" y="1208" width="2.4" height="5.5" fill="#000"/>
<rect x="606.71" y="1208" width="2.4" height="5.5" fill="#000"/>
<rect x="613.38" y="1208" width="2.4" height="5.5" fill="#000"/>
<rect x="620.05" y="1208" width="2.4" height="7.8" fill="#000"/>
<rect x="620.5" y="1208" width="2.4" height="7" fill="#000"/>
<text x="455" y="1069.8" font-size="12.6" font-weight="bold" text-anchor="middle" fill="#000" letter-spacing="0.55">19.5</text>
<text x="554.4" y="1081.6" font-size="12.6" font-weight="bold" text-anchor="middle" fill="#000" letter-spacing="0.55">49.7</text>
<text x="539.1" y="1158.9" font-size="12.6" font-weight="bold" text-anchor="middle" fill="#000" letter-spacing="0.55">48.6</text>
<text x="454.5" y="1229.2" font-size="12.6" font-weight="bold" text-anchor="middle" fill="#000" letter-spacing="0.55">20</text>
<text x="521.2" y="1229.2" font-size="12.6" font-weight="bold" text-anchor="middle" fill="#000" letter-spacing="0.55">40</text>
<text x="587.8" y="1229.2" font-size="12.6" font-weight="bold" text-anchor="middle" fill="#000" letter-spacing="0.55">60</text>
<text x="529.2" y="1255.2" font-size="12.6" font-weight="bold" text-anchor="middle" fill="#000" letter-spacing="0.55">time (min)</text>
<path d="M372.7 1128.5 L397 1115.8 L393.6 1124.6 L400.2 1124.6 L400.2 1132.4 L393.6 1132.4 L397 1140.2 Z" fill="#2c4aa6"/>
<path d="M636.9 1133.7 L613 1122 L615.4 1130.6 L609.5 1130.6 L609.5 1138.3 L615.4 1138.3 L613 1145.9 Z" fill="#e4202a"/>
<rect x="660.4" y="633.9" width="329" height="5.2" fill="#000"/>
<path d="M660.4 634.4 L660.4 632.23 L662.03 632.23 L662.03 633.72 L664.5 633.72 L664.5 630.89 L665.6 630.89 L665.6 631.29 L668.67 631.29 L668.67 631.6 L670.26 631.6 L670.26 633.24 L671.85 633.24 L671.85 632.8 L675 632.8 L675 632.55 L676.84 632.55 L676.84 633.64 L679.33 633.64 L679.33 633.5 L680.48 633.5 L680.48 632.73 L681.67 632.73 L681.67 633.39 L684.32 633.39 L684.32 633.1 L687.22 633.1 L687.22 633.48 L689.31 633.48 L689.31 633.87 L690.98 633.87 L690.98 633.73 L692.87 633.73 L692.87 632.57 L694.33 632.57 L694.33 631.46 L696.99 631.46 L696.99 631.16 L699.64 631.16 L699.64 630.38 L701.67 630.38 L701.67 633.48 L704.48 633.48 L704.48 632.91 L706.93 632.91 L706.93 629.08 L709.07 629.08 L709.07 633.67 L710.46 633.67 L710.46 627.88 L713.28 627.88 L713.28 629.55 L715.3 629.55 L715.3 632.81 L717.66 632.81 L717.66 633.06 L720.06 633.06 L720.06 632.59 L722.27 632.59 L722.27 631.87 L724.97 631.87 L724.97 633.69 L728.14 633.69 L728.14 632.2 L730.19 632.2 L730.19 633.29 L731.36 633.29 L731.36 633.61 L732.73 633.61 L732.73 630.11 L735.69 630.11 L735.69 629.41 L737.37 629.41 L737.37 631.2 L738.9 631.2 L738.9 630.39 L742.02 630.39 L742.02 631.19 L743.35 631.19 L743.35 630.62 L744.83 630.62 L744.83 633.65 L745.9 633.65 L745.9 630.32 L747.77 630.32 L747.77 632.58 L750.66 632.58 L750.66 631.64 L753.39 631.64 L753.39 632.53 L756.03 632.53 L756.03 627.51 L758.06 627.51 L758.06 633.37 L759.36 633.37 L759.36 633.23 L762.44 633.23 L762.44 633.43 L764.03 633.43 L764.03 632.44 L765.45 632.44 L765.45 632.88 L766.62 632.88 L766.62 633.89 L768.32 633.89 L768.32 631.13 L769.81 631.13 L769.81 633.85 L772.07 633.85 L772.07 633.01 L773.62 633.01 L773.62 632.84 L775.73 632.84 L775.73 633.43 L777.13 633.43 L777.13 633.25 L779.2 633.25 L779.2 630.11 L780.6 630.11 L780.6 632.4 L783.7 632.4 L783.7 631.44 L785.59 631.44 L785.59 630.8 L788.14 630.8 L788.14 633.77 L789.37 633.77 L789.37 632 L792.42 632 L792.42 631.9 L794.88 631.9 L794.88 633.8 L796.55 633.8 L796.55 633.1 L798.33 633.1 L798.33 631.71 L800.72 631.71 L800.72 632.85 L803.63 632.85 L803.63 629.43 L805.47 629.43 L805.47 632.5 L806.89 632.5 L806.89 631.82 L807.9 631.82 L807.9 630.27 L809.41 630.27 L809.41 632.87 L810.95 632.87 L810.95 632.14 L812.8 632.14 L812.8 629.17 L814.93 629.17 L814.93 631.92 L817.08 631.92 L817.08 632.63 L819.95 632.63 L819.95 631.6 L822.3 631.6 L822.3 632.67 L824.97 632.67 L824.97 633.55 L826.3 633.55 L826.3 633.3 L828.29 633.3 L828.29 630.81 L831.38 630.81 L831.38 628.24 L833.79 628.24 L833.79 633.38 L836.12 633.38 L836.12 633.67 L837.89 633.67 L837.89 632.09 L839.81 632.09 L839.81 631.62 L842.42 631.62 L842.42 632.83 L845.13 632.83 L845.13 632.31 L847.3 632.31 L847.3 630.34 L850.16 630.34 L850.16 631.02 L851.22 631.02 L851.22 632.71 L854.22 632.71 L854.22 632.5 L855.3 632.5 L855.3 632.25 L857.94 632.25 L857.94 633.3 L859.9 633.3 L859.9 633.04 L861.41 633.04 L861.41 632.79 L864.47 632.79 L864.47 632.11 L866.92 632.11 L866.92 633.65 L868.88 633.65 L868.88 633.24 L870.22 633.24 L870.22 631.49 L872.68 631.49 L872.68 631.23 L873.92 631.23 L873.92 631.8 L876.72 631.8 L876.72 632.3 L878.47 632.3 L878.47 632.76 L880.44 632.76 L880.44 632.77 L882.06 632.77 L882.06 631.5 L885.11 631.5 L885.11 631.96 L887.26 631.96 L887.26 632.76 L890.23 632.76 L890.23 633.65 L892.26 633.65 L892.26 633.18 L894.37 633.18 L894.37 633.68 L897.1 633.68 L897.1 630.46 L899.09 630.46 L899.09 629.98 L901.63 629.98 L901.63 631.15 L903.33 631.15 L903.33 632.36 L904.34 632.36 L904.34 629.92 L907.16 629.92 L907.16 633.6 L909.98 633.6 L909.98 632.12 L912.1 632.12 L912.1 631.79 L914.51 631.79 L914.51 633.13 L915.62 633.13 L915.62 628.7 L917.35 628.7 L917.35 631.23 L919.76 631.23 L919.76 632.26 L922.7 632.26 L922.7 630.19 L925.59 630.19 L925.59 633.68 L926.92 633.68 L926.92 633.07 L929.59 633.07 L929.59 631.32 L931.24 631.32 L931.24 631.72 L932.57 631.72 L932.57 631.83 L934.61 631.83 L934.61 633.16 L936.15 633.16 L936.15 631.77 L937.78 631.77 L937.78 629.67 L940.45 629.67 L940.45 632.28 L942.9 632.28 L942.9 631.7 L943.93 631.7 L943.93 629.68 L945.95 629.68 L945.95 629.22 L948.57 629.22 L948.57 628.98 L950.28 628.98 L950.28 632.85 L952.6 632.85 L952.6 633.17 L954.7 633.17 L954.7 628.57 L955.91 628.57 L955.91 632.99 L957.56 632.99 L957.56 629.41 L958.74 629.41 L958.74 633.74 L961.48 633.74 L961.48 633.67 L962.74 633.67 L962.74 626.86 L964.7 626.86 L964.7 630.92 L967.51 630.92 L967.51 633.32 L969.37 633.32 L969.37 632.11 L970.72 632.11 L970.72 631.47 L973.88 631.47 L973.88 633.18 L976.88 633.18 L976.88 631.93 L979.7 631.93 L979.7 632.19 L982.79 632.19 L982.79 627.37 L983.94 627.37 L983.94 631.54 L986.43 631.54 L986.43 630.57 L988.25 630.57 L988.25 631.4 L989.4 631.4 L989.4 634.4 Z" fill="#000"/>
<rect x="669" y="627" width="2" height="9.5" fill="#000"/>
<rect x="674" y="630" width="2" height="6.5" fill="#000"/>
<rect x="686.2" y="602.3" width="2.6" height="34.2" fill="#000"/>
<rect x="691" y="628" width="2" height="8.5" fill="#000"/>
<rect x="698" y="625" width="2" height="11.5" fill="#000"/>
<rect x="704" y="624" width="2" height="12.5" fill="#000"/>
<rect x="717.1" y="592" width="2.6" height="44.5" fill="#000"/>
<rect x="721" y="626" width="2" height="10.5" fill="#000"/>
<rect x="739" y="627" width="2" height="9.5" fill="#000"/>
<rect x="759" y="629" width="2" height="7.5" fill="#000"/>
<rect x="773" y="626" width="2" height="10.5" fill="#000"/>
<rect x="777.6" y="587.1" width="2.8" height="49.4" fill="#000"/>
<rect x="782" y="628" width="2" height="8.5" fill="#000"/>
<rect x="812.3" y="613.7" width="3" height="22.8" fill="#000"/>
<rect x="815" y="625" width="2" height="11.5" fill="#000"/>
<rect x="846" y="608.6" width="2.6" height="27.9" fill="#000"/>
<rect x="869" y="631" width="2" height="5.5" fill="#000"/>
<rect x="872" y="630" width="2" height="6.5" fill="#000"/>
<rect x="915.1" y="560.5" width="2.8" height="76" fill="#000"/>
<rect x="959" y="630" width="2" height="6.5" fill="#000"/>
<text x="616.8" y="587.1" font-size="13" font-weight="normal" text-anchor="start" fill="#555" letter-spacing="0.55">47.2 min</text>
<text x="780" y="582.2" font-size="12.5" font-weight="bold" text-anchor="middle" fill="#000" letter-spacing="0.55">1107</text>
<text x="814.3" y="608.1" font-size="12.5" font-weight="bold" text-anchor="middle" fill="#000" letter-spacing="0.55">1253</text>
<text x="848.8" y="604.4" font-size="12.5" font-weight="bold" text-anchor="middle" fill="#000" letter-spacing="0.55">1399</text>
<text x="718.2" y="586.7" font-size="12.5" font-weight="bold" text-anchor="middle" fill="#e4202a" letter-spacing="0.55">847</text>
<line x1="707.78" y1="588.7" x2="728.62" y2="588.7" stroke="#e4202a" stroke-width="1.3"/>
<text x="917.1" y="556.4" font-size="12.5" font-weight="bold" text-anchor="middle" fill="#e4202a" letter-spacing="0.55">1691</text>
<line x1="903.2" y1="558.4" x2="931" y2="558.4" stroke="#e4202a" stroke-width="1.3"/>
<text x="997" y="556" font-size="12.5" font-weight="bold" text-anchor="middle" fill="#000" letter-spacing="0.55">+</text>
<rect x="935.4" y="553" width="46.5" height="8.9" fill="#dcdcdc" stroke="#7a7a7a" stroke-width="1" rx="1"/>
<rect x="951.1" y="564.3" width="14.4" height="14" fill="#bde2e6" stroke="#5d6f70" stroke-width="1"/>
<rect x="951.1" y="579.9" width="14.4" height="13.8" fill="#bde2e6" stroke="#5d6f70" stroke-width="1"/>
<rect x="951.1" y="595.8" width="14.4" height="13.9" fill="#bde2e6" stroke="#5d6f70" stroke-width="1"/>
<rect x="951.1" y="611.4" width="14.4" height="15.4" fill="#bde2e6" stroke="#5d6f70" stroke-width="1"/>
<rect x="956.8" y="561.4" width="3" height="3.4" fill="#111"/>
<rect x="956.8" y="577.8" width="3" height="2.6" fill="#111"/>
<rect x="956.8" y="593.2" width="3" height="3.1" fill="#111"/>
<rect x="956.8" y="609.2" width="3" height="2.7" fill="#111"/>
<line x1="784" y1="616.2" x2="808.8" y2="616.2" stroke="#c2c2c2" stroke-width="3"/>
<path d="M779.8 616.2 L789.5 610.4 L784.77 616.2 L789.5 622 Z M813 616.2 L803.3 610.4 L808.02 616.2 L803.3 622 Z" fill="#c2c2c2"/>
<rect x="792.4" y="612.45" width="8" height="7.5" rx="1.5" fill="#bde2e6" stroke="#4a6468" stroke-width="1.4"/>
<line x1="818.8" y1="616.2" x2="842.3" y2="616.2" stroke="#c2c2c2" stroke-width="3"/>
<path d="M814.6 616.2 L824.3 610.4 L819.57 616.2 L824.3 622 Z M846.5 616.2 L836.8 610.4 L841.52 616.2 L836.8 622 Z" fill="#c2c2c2"/>
<rect x="826.55" y="612.45" width="8" height="7.5" rx="1.5" fill="#bde2e6" stroke="#4a6468" stroke-width="1.4"/>
<line x1="852.3" y1="616.2" x2="877" y2="616.2" stroke="#c2c2c2" stroke-width="3"/>
<path d="M848.1 616.2 L857.8 610.4 L853.07 616.2 L857.8 622 Z M881.2 616.2 L871.5 610.4 L876.23 616.2 L871.5 622 Z" fill="#c2c2c2"/>
<rect x="860.65" y="612.45" width="8" height="7.5" rx="1.5" fill="#bde2e6" stroke="#4a6468" stroke-width="1.4"/>
<line x1="887" y1="616.2" x2="911.5" y2="616.2" stroke="#c2c2c2" stroke-width="3"/>
<path d="M882.8 616.2 L892.5 610.4 L887.77 616.2 L892.5 622 Z M915.7 616.2 L906 610.4 L910.73 616.2 L906 622 Z" fill="#c2c2c2"/>
<rect x="895.25" y="612.45" width="8" height="7.5" rx="1.5" fill="#bde2e6" stroke="#4a6468" stroke-width="1.4"/>
<rect x="660.4" y="729.4" width="329.2" height="3.6" fill="#000"/>
<path d="M660.4 729.9 L660.4 728.75 L663.29 728.75 L663.29 727.9 L665.91 727.9 L665.91 729.28 L667.13 729.28 L667.13 728.91 L668.33 728.91 L668.33 728.1 L670.79 728.1 L670.79 726.76 L673.09 726.76 L673.09 729.34 L675.78 729.34 L675.78 728.74 L678.97 728.74 L678.97 727.88 L681.53 727.88 L681.53 729.09 L682.9 729.09 L682.9 728.85 L684 728.85 L684 728.58 L686.53 728.58 L686.53 728.04 L688.62 728.04 L688.62 729.24 L691.78 729.24 L691.78 727.97 L693.66 727.97 L693.66 729.1 L696.39 729.1 L696.39 728.11 L697.41 728.11 L697.41 728.79 L699.12 728.79 L699.12 729.36 L701.42 729.36 L701.42 728.61 L702.45 728.61 L702.45 728.43 L705.18 728.43 L705.18 729.17 L707.59 729.17 L707.59 727.69 L708.87 727.69 L708.87 728.97 L710.7 728.97 L710.7 728.37 L712.91 728.37 L712.91 729.15 L715.62 729.15 L715.62 728.6 L717.09 728.6 L717.09 728.52 L718.63 728.52 L718.63 729.01 L721 729.01 L721 727.81 L723.8 727.81 L723.8 729.24 L726.57 729.24 L726.57 728.7 L728.21 728.7 L728.21 728.91 L729.49 728.91 L729.49 728.85 L731.88 728.85 L731.88 729.22 L733.08 729.22 L733.08 728.68 L735.25 728.68 L735.25 729.08 L737.58 729.08 L737.58 728.55 L740.13 728.55 L740.13 729.38 L742.8 729.38 L742.8 728.9 L745.12 728.9 L745.12 729.38 L746.47 729.38 L746.47 726.76 L749.11 726.76 L749.11 729.18 L752.2 729.18 L752.2 729.12 L754.13 729.12 L754.13 729.4 L755.23 729.4 L755.23 729.23 L757.5 729.23 L757.5 729.12 L760.46 729.12 L760.46 728.35 L761.48 728.35 L761.48 728.41 L762.95 728.41 L762.95 729.29 L764.86 729.29 L764.86 728.49 L767.38 728.49 L767.38 729.02 L768.49 729.02 L768.49 729.14 L770.54 729.14 L770.54 728.31 L773.56 728.31 L773.56 729.18 L775.08 729.18 L775.08 729.15 L777.33 729.15 L777.33 728.53 L778.7 728.53 L778.7 728.4 L781.62 728.4 L781.62 729.09 L783.29 729.09 L783.29 728.9 L785.23 728.9 L785.23 728.95 L786.44 728.95 L786.44 728.76 L787.81 728.76 L787.81 729.39 L790.83 729.39 L790.83 728.79 L791.94 728.79 L791.94 729.29 L793.3 729.29 L793.3 729.21 L796.16 729.21 L796.16 728.56 L799.14 728.56 L799.14 729.13 L800.73 729.13 L800.73 729.04 L802 729.04 L802 728.33 L803.45 728.33 L803.45 728.92 L804.66 728.92 L804.66 728.69 L806.9 728.69 L806.9 729.24 L810.03 729.24 L810.03 727.77 L812.12 727.77 L812.12 728.49 L814.98 728.49 L814.98 729.19 L816.51 729.19 L816.51 728.97 L819.43 728.97 L819.43 728.65 L822.16 728.65 L822.16 728.96 L825.29 728.96 L825.29 728.84 L827.43 728.84 L827.43 729.16 L829.5 729.16 L829.5 726.76 L832.64 726.76 L832.64 729.32 L834.23 729.32 L834.23 728.47 L837.09 728.47 L837.09 729 L838.76 729 L838.76 729.15 L840.82 729.15 L840.82 729.05 L842.06 729.05 L842.06 728.7 L843.16 728.7 L843.16 728.59 L845.49 728.59 L845.49 729.02 L848.37 729.02 L848.37 729.05 L849.76 729.05 L849.76 728.61 L851.89 728.61 L851.89 727.94 L854.23 727.94 L854.23 729.09 L856.95 729.09 L856.95 729.38 L859.32 729.38 L859.32 728.15 L862.11 728.15 L862.11 729.12 L863.43 729.12 L863.43 728.7 L866.57 728.7 L866.57 728.75 L868.54 728.75 L868.54 729.34 L870.6 729.34 L870.6 728.73 L872.56 728.73 L872.56 728.51 L875.25 728.51 L875.25 729.3 L877.25 729.3 L877.25 729.08 L880.09 729.08 L880.09 728.94 L881.15 728.94 L881.15 728.63 L884.14 728.63 L884.14 729.31 L886.09 729.31 L886.09 729.16 L888.83 729.16 L888.83 729.35 L890.14 729.35 L890.14 728.11 L891.73 728.11 L891.73 728.86 L893.98 728.86 L893.98 729.05 L896.75 729.05 L896.75 729.28 L898.34 729.28 L898.34 729.15 L901.28 729.15 L901.28 728.62 L903.78 728.62 L903.78 729.4 L906.63 729.4 L906.63 729.31 L908.11 729.31 L908.11 728.35 L909.97 728.35 L909.97 728.56 L913.16 728.56 L913.16 728.92 L915.14 728.92 L915.14 727.86 L917.09 727.86 L917.09 728.23 L919.18 728.23 L919.18 729.24 L921.75 729.24 L921.75 727.95 L924.15 727.95 L924.15 727.86 L926.55 727.86 L926.55 729.35 L928.72 729.35 L928.72 728.21 L930.47 728.21 L930.47 729.31 L931.9 729.31 L931.9 728.81 L934.87 728.81 L934.87 728.35 L937.48 728.35 L937.48 728.12 L939.79 728.12 L939.79 729.16 L942.06 729.16 L942.06 728.75 L945 728.75 L945 728.63 L946.96 728.63 L946.96 728.48 L949.21 728.48 L949.21 729.2 L951.16 729.2 L951.16 728.32 L952.81 728.32 L952.81 729.15 L955.28 729.15 L955.28 728.92 L956.47 728.92 L956.47 728.84 L958.09 728.84 L958.09 728.17 L960.91 728.17 L960.91 728.42 L962.94 728.42 L962.94 727.67 L965.11 727.67 L965.11 728.93 L968.31 728.93 L968.31 729.37 L969.43 729.37 L969.43 729.31 L972.19 729.31 L972.19 728.93 L973.67 728.93 L973.67 728.41 L976.7 728.41 L976.7 728.66 L977.97 728.66 L977.97 728.07 L980.02 728.07 L980.02 728.03 L982.58 728.03 L982.58 729.27 L984.31 729.27 L984.31 728.56 L985.78 728.56 L985.78 728.98 L986.85 728.98 L986.85 729 L988.55 729 L988.55 728.47 L989.6 728.47 L989.6 729.9 Z" fill="#000"/>
<rect x="671" y="726" width="2" height="5.2" fill="#000"/>
<rect x="683" y="727" width="2" height="4.2" fill="#000"/>
<rect x="686.8" y="718.1" width="2.6" height="13.1" fill="#000"/>
<rect x="700.1" y="702.9" width="2.6" height="28.3" fill="#000"/>
<rect x="705.4" y="719" width="2.6" height="12.2" fill="#000"/>
<rect x="709" y="726" width="2" height="5.2" fill="#000"/>
<rect x="717" y="727" width="2" height="4.2" fill="#000"/>
<rect x="732" y="724" width="2" height="7.2" fill="#000"/>
<rect x="746" y="727" width="2" height="4.2" fill="#000"/>
<rect x="769" y="726" width="2" height="5.2" fill="#000"/>
<rect x="778.1" y="663.4" width="2.8" height="67.8" fill="#000"/>
<rect x="781" y="700" width="2" height="31.2" fill="#000"/>
<rect x="812.1" y="707.5" width="2.6" height="23.7" fill="#000"/>
<rect x="846" y="708.4" width="2.6" height="22.8" fill="#000"/>
<rect x="881.1" y="656" width="2.8" height="75.2" fill="#000"/>
<rect x="658.8" y="731.2" width="3.2" height="7.3" fill="#000"/>
<rect x="670.5" y="731.2" width="3.2" height="5.4" fill="#000"/>
<rect x="682.2" y="731.2" width="3.2" height="5.4" fill="#000"/>
<rect x="693.9" y="731.2" width="3.2" height="5.4" fill="#000"/>
<rect x="705.6" y="731.2" width="3.2" height="7.3" fill="#000"/>
<rect x="717.3" y="731.2" width="3.2" height="5.4" fill="#000"/>
<rect x="729" y="731.2" width="3.2" height="5.4" fill="#000"/>
<rect x="740.7" y="731.2" width="3.2" height="5.4" fill="#000"/>
<rect x="752.4" y="731.2" width="3.2" height="7.3" fill="#000"/>
<rect x="764.1" y="731.2" width="3.2" height="5.4" fill="#000"/>
<rect x="775.8" y="731.2" width="3.2" height="5.4" fill="#000"/>
<rect x="787.5" y="731.2" width="3.2" height="5.4" fill="#000"/>
<rect x="799.2" y="731.2" width="3.2" height="7.3" fill="#000"/>
<rect x="810.9" y="731.2" width="3.2" height="5.4" fill="#000"/>
<rect x="822.6" y="731.2" width="3.2" height="5.4" fill="#000"/>
<rect x="834.3" y="731.2" width="3.2" height="5.4" fill="#000"/>
<rect x="846" y="731.2" width="3.2" height="7.3" fill="#000"/>
<rect x="857.7" y="731.2" width="3.2" height="5.4" fill="#000"/>
<rect x="869.4" y="731.2" width="3.2" height="5.4" fill="#000"/>
<rect x="881.1" y="731.2" width="3.2" height="5.4" fill="#000"/>
<rect x="892.8" y="731.2" width="3.2" height="7.3" fill="#000"/>
<rect x="904.5" y="731.2" width="3.2" height="5.4" fill="#000"/>
<rect x="916.2" y="731.2" width="3.2" height="5.4" fill="#000"/>
<rect x="927.9" y="731.2" width="3.2" height="5.4" fill="#000"/>
<rect x="939.6" y="731.2" width="3.2" height="7.3" fill="#000"/>
<rect x="951.3" y="731.2" width="3.2" height="5.4" fill="#000"/>
<rect x="963" y="731.2" width="3.2" height="5.4" fill="#000"/>
<rect x="974.7" y="731.2" width="3.2" height="5.4" fill="#000"/>
<rect x="986.4" y="731.2" width="3.2" height="7.3" fill="#000"/>
<text x="616.8" y="680" font-size="13" font-weight="normal" text-anchor="start" fill="#555" letter-spacing="0.55">47.5 min</text>
<text x="780" y="660.5" font-size="12.5" font-weight="bold" text-anchor="middle" fill="#000" letter-spacing="0.55">1107</text>
<text x="814.3" y="703.3" font-size="12.5" font-weight="bold" text-anchor="middle" fill="#000" letter-spacing="0.55">1253</text>
<text x="848.5" y="705.2" font-size="12.5" font-weight="bold" text-anchor="middle" fill="#000" letter-spacing="0.55">1399</text>
<text x="701.2" y="700.5" font-size="12.5" font-weight="bold" text-anchor="middle" fill="#e4202a" letter-spacing="0.55">773</text>
<line x1="690.78" y1="702.5" x2="711.62" y2="702.5" stroke="#e4202a" stroke-width="1.3"/>
<text x="883.2" y="653.6" font-size="12.5" font-weight="bold" text-anchor="middle" fill="#e4202a" letter-spacing="0.55">1545</text>
<line x1="869.3" y1="655.6" x2="897.1" y2="655.6" stroke="#e4202a" stroke-width="1.3"/>
<text x="985.5" y="655.5" font-size="12.5" font-weight="bold" text-anchor="middle" fill="#000" letter-spacing="0.55">+</text>
<rect x="924.2" y="650.5" width="46.2" height="10.6" fill="#dcdcdc" stroke="#7a7a7a" stroke-width="1" rx="1"/>
<rect x="940.6" y="662.3" width="14.1" height="14.7" fill="#bde2e6" stroke="#5d6f70" stroke-width="1"/>
<rect x="940.6" y="679.8" width="14.1" height="13.7" fill="#bde2e6" stroke="#5d6f70" stroke-width="1"/>
<rect x="940.6" y="695.5" width="14.1" height="14.3" fill="#bde2e6" stroke="#5d6f70" stroke-width="1"/>
<rect x="946.15" y="660.6" width="3" height="2.2" fill="#111"/>
<rect x="946.15" y="676.5" width="3" height="3.8" fill="#111"/>
<rect x="946.15" y="693" width="3" height="3" fill="#111"/>
<line x1="784.5" y1="715" x2="808.4" y2="715" stroke="#c2c2c2" stroke-width="3"/>
<path d="M780.3 715 L790 709.2 L785.27 715 L790 720.8 Z M812.6 715 L802.9 709.2 L807.62 715 L802.9 720.8 Z" fill="#c2c2c2"/>
<rect x="792.45" y="711.25" width="8" height="7.5" rx="1.5" fill="#bde2e6" stroke="#4a6468" stroke-width="1.4"/>
<line x1="818.4" y1="715" x2="842.3" y2="715" stroke="#c2c2c2" stroke-width="3"/>
<path d="M814.2 715 L823.9 709.2 L819.17 715 L823.9 720.8 Z M846.5 715 L836.8 709.2 L841.52 715 L836.8 720.8 Z" fill="#c2c2c2"/>
<rect x="826.35" y="711.25" width="8" height="7.5" rx="1.5" fill="#bde2e6" stroke="#4a6468" stroke-width="1.4"/>
<line x1="852.3" y1="715" x2="877.5" y2="715" stroke="#c2c2c2" stroke-width="3"/>
<path d="M848.1 715 L857.8 709.2 L853.07 715 L857.8 720.8 Z M881.7 715 L872 709.2 L876.73 715 L872 720.8 Z" fill="#c2c2c2"/>
<rect x="860.9" y="711.25" width="8" height="7.5" rx="1.5" fill="#bde2e6" stroke="#4a6468" stroke-width="1.4"/>
<text x="708.2" y="754.8" font-size="12.5" font-weight="bold" text-anchor="middle" fill="#000" letter-spacing="0.55">800</text>
<text x="801.8" y="754.8" font-size="12.5" font-weight="bold" text-anchor="middle" fill="#000" letter-spacing="0.55">1200</text>
<text x="895.4" y="754.8" font-size="12.5" font-weight="bold" text-anchor="middle" fill="#000" letter-spacing="0.55">1600</text>
<text x="989" y="754.8" font-size="12.5" font-weight="bold" text-anchor="middle" fill="#000" letter-spacing="0.55">2000</text>
<text x="845" y="769.4" font-size="16.5" font-weight="bold" text-anchor="middle" fill="#000" font-style="italic" textLength="21.5" lengthAdjust="spacingAndGlyphs">m/z</text>
<rect x="660.4" y="874.4" width="328.7" height="3.6" fill="#000"/>
<path d="M660.4 874.9 L660.4 872.29 L661.95 872.29 L661.95 873.22 L664.86 873.22 L664.86 874.29 L665.9 874.29 L665.9 874.12 L669.03 874.12 L669.03 873.43 L670.2 873.43 L670.2 873.97 L673.14 873.97 L673.14 872.73 L675.02 872.73 L675.02 874.03 L677.39 874.03 L677.39 874.27 L678.84 874.27 L678.84 873.83 L681.97 873.83 L681.97 871.58 L684.13 871.58 L684.13 873.1 L685.5 873.1 L685.5 873.05 L688.34 873.05 L688.34 873.23 L689.41 873.23 L689.41 873.7 L692.02 873.7 L692.02 873.66 L693.32 873.66 L693.32 872.97 L694.68 872.97 L694.68 873.04 L697.05 873.04 L697.05 874.17 L698.99 874.17 L698.99 874 L700.74 874 L700.74 873.47 L701.78 873.47 L701.78 874.33 L704.64 874.33 L704.64 874.34 L707.33 874.34 L707.33 873.99 L709.05 873.99 L709.05 872.86 L711 872.86 L711 874.34 L713 874.34 L713 873.81 L715.52 873.81 L715.52 872.81 L718.65 872.81 L718.65 873.9 L721.79 873.9 L721.79 873.78 L724.22 873.78 L724.22 873.01 L727.17 873.01 L727.17 873.24 L729.03 873.24 L729.03 873.14 L731 873.14 L731 873.92 L732.82 873.92 L732.82 873.49 L735.6 873.49 L735.6 873.81 L737.3 873.81 L737.3 874.28 L740.1 874.28 L740.1 874.26 L742.23 874.26 L742.23 872.83 L744.46 872.83 L744.46 874.34 L747.01 874.34 L747.01 873.16 L748.27 873.16 L748.27 873.79 L749.55 873.79 L749.55 873.61 L751.14 873.61 L751.14 873.78 L753.38 873.78 L753.38 872.61 L755.43 872.61 L755.43 873.11 L757.44 873.11 L757.44 873.82 L758.56 873.82 L758.56 874.04 L761.33 874.04 L761.33 873.88 L764.02 873.88 L764.02 873.33 L765.56 873.33 L765.56 874.28 L768.39 874.28 L768.39 873.75 L770.63 873.75 L770.63 873.75 L773.2 873.75 L773.2 873.73 L775.01 873.73 L775.01 872.3 L776.75 872.3 L776.75 874.18 L779.17 874.18 L779.17 873.07 L780.45 873.07 L780.45 872.7 L782.69 872.7 L782.69 874.07 L784.01 874.07 L784.01 873.97 L785.75 873.97 L785.75 874.25 L788.84 874.25 L788.84 873.54 L791.66 873.54 L791.66 872.03 L793.83 872.03 L793.83 872.77 L795.2 872.77 L795.2 873.18 L798.27 873.18 L798.27 872.41 L800.43 872.41 L800.43 874.4 L802.84 874.4 L802.84 874.26 L803.95 874.26 L803.95 873.65 L806.45 873.65 L806.45 874.23 L808.47 874.23 L808.47 873.79 L810.11 873.79 L810.11 872.95 L811.92 872.95 L811.92 873.98 L814.17 873.98 L814.17 873.44 L817.32 873.44 L817.32 872.55 L818.7 872.55 L818.7 874.11 L821.03 874.11 L821.03 874.24 L824.05 874.24 L824.05 874.1 L825.09 874.1 L825.09 874.2 L826.15 874.2 L826.15 871.84 L827.76 871.84 L827.76 873.31 L829.17 873.31 L829.17 873.83 L831.78 873.83 L831.78 873.99 L833.83 873.99 L833.83 874.36 L836.13 874.36 L836.13 874.3 L837.21 874.3 L837.21 873.15 L839.08 873.15 L839.08 874.15 L840.19 874.15 L840.19 872.38 L842.31 872.38 L842.31 872.77 L845.39 872.77 L845.39 872.87 L847.67 872.87 L847.67 873.41 L850.05 873.41 L850.05 873.12 L852.46 873.12 L852.46 874.36 L854.57 874.36 L854.57 874.4 L857.28 874.4 L857.28 873.87 L860.4 873.87 L860.4 873.69 L862.31 873.69 L862.31 874.19 L865.29 874.19 L865.29 873.31 L867.22 873.31 L867.22 874.27 L868.62 874.27 L868.62 874.26 L870.28 874.26 L870.28 873.15 L871.39 873.15 L871.39 873.87 L872.9 873.87 L872.9 874.05 L874.36 874.05 L874.36 872.63 L875.38 872.63 L875.38 874.16 L877.6 874.16 L877.6 873.97 L879.77 873.97 L879.77 874.04 L882.46 874.04 L882.46 873.46 L885.15 873.46 L885.15 873.28 L888.13 873.28 L888.13 872.44 L889.83 872.44 L889.83 872.11 L890.85 872.11 L890.85 874.29 L893.71 874.29 L893.71 870.88 L895.34 870.88 L895.34 874.08 L898.45 874.08 L898.45 874.2 L901.61 874.2 L901.61 874.04 L904.38 874.04 L904.38 873.49 L906.26 873.49 L906.26 874.37 L909.28 874.37 L909.28 873.25 L911.97 873.25 L911.97 873.75 L914.87 873.75 L914.87 874.32 L916.25 874.32 L916.25 874.13 L918.91 874.13 L918.91 874.39 L921.27 874.39 L921.27 873.31 L922.68 873.31 L922.68 872.95 L925.33 872.95 L925.33 873.9 L927.58 873.9 L927.58 873.76 L929.14 873.76 L929.14 873.87 L932.03 873.87 L932.03 873.67 L934.57 873.67 L934.57 873.09 L935.91 873.09 L935.91 873.57 L937.85 873.57 L937.85 872.2 L940.28 872.2 L940.28 874.27 L943.07 874.27 L943.07 874.37 L945.26 874.37 L945.26 873.38 L946.46 873.38 L946.46 874.39 L948.69 874.39 L948.69 872.37 L949.99 872.37 L949.99 873.6 L952.88 873.6 L952.88 872.87 L955.41 872.87 L955.41 872.86 L957.37 872.86 L957.37 872.1 L958.94 872.1 L958.94 873.76 L960.96 873.76 L960.96 873.58 L962.35 873.58 L962.35 874.04 L963.77 874.04 L963.77 873.85 L966.56 873.85 L966.56 874.16 L967.56 874.16 L967.56 874.13 L969.9 874.13 L969.9 873.83 L972.83 873.83 L972.83 872.21 L975.37 872.21 L975.37 872.58 L977.7 872.58 L977.7 873.31 L980.47 873.31 L980.47 873.32 L981.64 873.32 L981.64 873.96 L983.91 873.96 L983.91 872.33 L987.09 872.33 L987.09 871.53 L989.1 871.53 L989.1 874.9 Z" fill="#000"/>
<rect x="671" y="870" width="2" height="6.2" fill="#000"/>
<rect x="687.8" y="867.1" width="2.6" height="9.1" fill="#000"/>
<rect x="699" y="871" width="2" height="5.2" fill="#000"/>
<rect x="709.7" y="862" width="2.6" height="14.2" fill="#000"/>
<rect x="713.2" y="861.3" width="2.6" height="14.9" fill="#000"/>
<rect x="717" y="866" width="2" height="10.2" fill="#000"/>
<rect x="726.8" y="818.3" width="2.8" height="57.9" fill="#000"/>
<rect x="730.7" y="864" width="2.6" height="12.2" fill="#000"/>
<rect x="735" y="868" width="2" height="8.2" fill="#000"/>
<rect x="746.4" y="859.3" width="2.6" height="16.9" fill="#000"/>
<rect x="759" y="871" width="2" height="5.2" fill="#000"/>
<rect x="771" y="869" width="2" height="7.2" fill="#000"/>
<rect x="778.1" y="813.4" width="2.8" height="62.8" fill="#000"/>
<rect x="781" y="850" width="2" height="26.2" fill="#000"/>
<rect x="812" y="850.3" width="2.8" height="25.9" fill="#000"/>
<rect x="824" y="872" width="2" height="4.2" fill="#000"/>
<rect x="845.8" y="851.5" width="3" height="24.7" fill="#000"/>
<rect x="880.6" y="860.9" width="2.8" height="15.3" fill="#000"/>
<rect x="935.5" y="834.4" width="2.8" height="41.8" fill="#000"/>
<text x="616.8" y="824.8" font-size="13" font-weight="normal" text-anchor="start" fill="#555" letter-spacing="0.55">47.7 min</text>
<text x="780" y="810.5" font-size="12.5" font-weight="bold" text-anchor="middle" fill="#000" letter-spacing="0.55">1107</text>
<text x="813.4" y="848" font-size="12.5" font-weight="bold" text-anchor="middle" fill="#000" letter-spacing="0.55">1253</text>
<text x="847.8" y="849.1" font-size="12.5" font-weight="bold" text-anchor="middle" fill="#000" letter-spacing="0.55">1399</text>
<text x="883.3" y="857.3" font-size="12.5" font-weight="bold" text-anchor="middle" fill="#000" letter-spacing="0.55">1545</text>
<text x="728.2" y="816.4" font-size="12.5" font-weight="bold" text-anchor="middle" fill="#e4202a" letter-spacing="0.55">889</text>
<line x1="717.78" y1="818.4" x2="738.62" y2="818.4" stroke="#e4202a" stroke-width="1.3"/>
<text x="937.5" y="829.7" font-size="12.5" font-weight="bold" text-anchor="middle" fill="#e4202a" letter-spacing="0.55">1777</text>
<line x1="923.6" y1="831.7" x2="951.4" y2="831.7" stroke="#e4202a" stroke-width="1.3"/>
<text x="1005" y="789" font-size="12.5" font-weight="bold" text-anchor="middle" fill="#000" letter-spacing="0.55">+</text>
<rect x="947.6" y="785.9" width="46.2" height="9.3" fill="#dcdcdc" stroke="#7a7a7a" stroke-width="1" rx="1"/>
<rect x="964" y="797.6" width="13.4" height="15.2" fill="#bde2e6" stroke="#5d6f70" stroke-width="1"/>
<rect x="964" y="814" width="13.4" height="14" fill="#bde2e6" stroke="#5d6f70" stroke-width="1"/>
<rect x="964" y="829.2" width="13.4" height="12.9" fill="#bde2e6" stroke="#5d6f70" stroke-width="1"/>
<rect x="969.2" y="794.7" width="3" height="3.4" fill="#111"/>
<rect x="969.2" y="812.3" width="3" height="2.2" fill="#111"/>
<rect x="969.2" y="827.5" width="3" height="2.2" fill="#111"/>
<rect x="969.2" y="841.6" width="3" height="2" fill="#111"/>
<path d="M977.42 861.22 A9.5 9.5 0 1 0 963.98 861.22 L970.7 854.98 Z" fill="#8cc63f" stroke="#4d7a25" stroke-width="1"/>
<line x1="784.5" y1="821.7" x2="807.7" y2="821.7" stroke="#c2c2c2" stroke-width="3"/>
<path d="M780.3 821.7 L790 815.9 L785.27 821.7 L790 827.5 Z M811.9 821.7 L802.2 815.9 L806.93 821.7 L802.2 827.5 Z" fill="#c2c2c2"/>
<rect x="792.1" y="817.95" width="8" height="7.5" rx="1.5" fill="#bde2e6" stroke="#4a6468" stroke-width="1.4"/>
<line x1="817.7" y1="821.7" x2="842.3" y2="821.7" stroke="#c2c2c2" stroke-width="3"/>
<path d="M813.5 821.7 L823.2 815.9 L818.48 821.7 L823.2 827.5 Z M846.5 821.7 L836.8 815.9 L841.52 821.7 L836.8 827.5 Z" fill="#c2c2c2"/>
<rect x="826" y="817.95" width="8" height="7.5" rx="1.5" fill="#bde2e6" stroke="#4a6468" stroke-width="1.4"/>
<line x1="852.3" y1="821.7" x2="877" y2="821.7" stroke="#c2c2c2" stroke-width="3"/>
<path d="M848.1 821.7 L857.8 815.9 L853.07 821.7 L857.8 827.5 Z M881.2 821.7 L871.5 815.9 L876.23 821.7 L871.5 827.5 Z" fill="#c2c2c2"/>
<rect x="860.65" y="817.95" width="8" height="7.5" rx="1.5" fill="#bde2e6" stroke="#4a6468" stroke-width="1.4"/>
<line x1="812.7" y1="810.5" x2="812.7" y2="827" stroke="#8e8e8e" stroke-width="2" stroke-dasharray="7 2"/>
<line x1="812.7" y1="832" x2="812.7" y2="833.5" stroke="#9a9a9a" stroke-width="1.2"/>
<line x1="847.3" y1="810.5" x2="847.3" y2="827" stroke="#8e8e8e" stroke-width="2" stroke-dasharray="7 2"/>
<line x1="847.3" y1="832" x2="847.3" y2="833.5" stroke="#9a9a9a" stroke-width="1.2"/>
<line x1="882" y1="810.5" x2="882" y2="827" stroke="#8e8e8e" stroke-width="2" stroke-dasharray="7 2"/>
<line x1="882" y1="832" x2="882" y2="833.5" stroke="#9a9a9a" stroke-width="1.2"/>
<line x1="882" y1="832" x2="882" y2="843" stroke="#8e8e8e" stroke-width="2" stroke-dasharray="20 1"/>
<line x1="887" y1="837" x2="931.9" y2="837" stroke="#c2c2c2" stroke-width="3"/>
<path d="M882.8 837 L892.5 831.2 L887.77 837 L892.5 842.8 Z M936.1 837 L926.4 831.2 L931.12 837 L926.4 842.8 Z" fill="#c2c2c2"/>
<path d="M912.7 841.05 A4.6 4.6 0 1 0 906.2 841.05 L909.45 838.03 Z" fill="#8cc63f" stroke="#4d7a25" stroke-width="0.9"/>
<rect x="660.4" y="968.4" width="329.2" height="3.6" fill="#000"/>
<path d="M660.4 968.9 L660.4 968.27 L661.48 968.27 L661.48 968.31 L662.52 968.31 L662.52 967.86 L664.45 967.86 L664.45 967.97 L665.48 967.97 L665.48 967.51 L668.4 967.51 L668.4 968.09 L669.99 968.09 L669.99 968.09 L671.62 968.09 L671.62 967.89 L673.84 967.89 L673.84 968.26 L676.91 968.26 L676.91 967.54 L678.29 967.54 L678.29 967.44 L681.26 967.44 L681.26 968.4 L684.01 968.4 L684.01 968.06 L685.78 968.06 L685.78 967.87 L688.21 967.87 L688.21 966.53 L690.97 966.53 L690.97 968.38 L692.3 968.38 L692.3 967.73 L693.38 967.73 L693.38 966.74 L696.15 966.74 L696.15 968.24 L698.98 968.24 L698.98 965.76 L702.08 965.76 L702.08 967.35 L704.92 967.35 L704.92 967.59 L707.69 967.59 L707.69 966.58 L709.05 966.58 L709.05 968.35 L712.18 968.35 L712.18 968.4 L714.53 968.4 L714.53 967.29 L715.94 967.29 L715.94 967.62 L718.29 967.62 L718.29 966.72 L721.1 966.72 L721.1 967.01 L722.97 967.01 L722.97 967.86 L725.65 967.86 L725.65 968.3 L727.71 968.3 L727.71 967.91 L729.43 967.91 L729.43 966.12 L731.42 966.12 L731.42 967.06 L732.58 967.06 L732.58 967.36 L733.58 967.36 L733.58 968.29 L734.59 968.29 L734.59 966.98 L735.99 966.98 L735.99 967.87 L737.01 967.87 L737.01 966.2 L738.12 966.2 L738.12 968.07 L740.96 968.07 L740.96 967.81 L744.09 967.81 L744.09 967.97 L745.49 967.97 L745.49 967.63 L747.87 967.63 L747.87 967.99 L748.94 967.99 L748.94 968.31 L751.39 968.31 L751.39 967.82 L754.51 967.82 L754.51 968.24 L756.64 968.24 L756.64 967.45 L759.81 967.45 L759.81 967.45 L760.85 967.45 L760.85 967.77 L762.12 967.77 L762.12 967.84 L764.22 967.84 L764.22 967.16 L766.87 967.16 L766.87 968 L767.99 968 L767.99 967.76 L769.28 967.76 L769.28 967.81 L771.78 967.81 L771.78 968.37 L774.82 968.37 L774.82 968.18 L777.55 968.18 L777.55 965.89 L780.29 965.89 L780.29 968.03 L781.6 968.03 L781.6 966.88 L784.78 966.88 L784.78 967.65 L787.06 967.65 L787.06 966.42 L788.95 966.42 L788.95 968.31 L790.94 968.31 L790.94 968.02 L793.88 968.02 L793.88 967.83 L796.83 967.83 L796.83 968.2 L798.82 968.2 L798.82 968.32 L801.99 968.32 L801.99 968.12 L804.15 968.12 L804.15 966.94 L806.29 966.94 L806.29 966.81 L809.27 966.81 L809.27 967.82 L811.58 967.82 L811.58 967.35 L812.66 967.35 L812.66 968.18 L814.68 968.18 L814.68 968.16 L817.24 968.16 L817.24 968.14 L818.56 968.14 L818.56 967.96 L820.55 967.96 L820.55 967.33 L822.25 967.33 L822.25 967.79 L824.02 967.79 L824.02 967.64 L826.02 967.64 L826.02 967.72 L828.77 967.72 L828.77 967.79 L831.29 967.79 L831.29 967.76 L832.57 967.76 L832.57 968.04 L833.65 968.04 L833.65 967.63 L836.29 967.63 L836.29 967.94 L839.46 967.94 L839.46 967.32 L840.61 967.32 L840.61 968.15 L842.43 968.15 L842.43 967.82 L844.29 967.82 L844.29 968.37 L845.79 968.37 L845.79 967.69 L848.57 967.69 L848.57 968.25 L851.69 968.25 L851.69 966.37 L853.78 966.37 L853.78 967.76 L855.88 967.76 L855.88 967.96 L858.31 967.96 L858.31 967.26 L861.1 967.26 L861.1 967.35 L862.19 967.35 L862.19 965.91 L865.11 965.91 L865.11 968.01 L866.84 968.01 L866.84 967.69 L868.66 967.69 L868.66 965.9 L870.03 965.9 L870.03 967.39 L871.74 967.39 L871.74 968.4 L873.73 968.4 L873.73 967.93 L876.18 967.93 L876.18 968.14 L878.71 968.14 L878.71 967.93 L881.54 967.93 L881.54 966.33 L882.93 966.33 L882.93 966.15 L884.77 966.15 L884.77 967.24 L887.54 967.24 L887.54 967.87 L889.26 967.87 L889.26 967.94 L890.42 967.94 L890.42 967.59 L891.98 967.59 L891.98 967.29 L893.2 967.29 L893.2 968.35 L894.55 968.35 L894.55 967.9 L895.66 967.9 L895.66 968.19 L897.27 968.19 L897.27 967.84 L898.98 967.84 L898.98 966.5 L901.06 966.5 L901.06 967.52 L904.15 967.52 L904.15 968.03 L907.1 968.03 L907.1 966.7 L908.72 966.7 L908.72 967.44 L910.13 967.44 L910.13 967.1 L911.17 967.1 L911.17 967.81 L913.58 967.81 L913.58 967.2 L916.27 967.2 L916.27 966.56 L918.74 966.56 L918.74 967.39 L921.21 967.39 L921.21 968.01 L923.14 968.01 L923.14 968.12 L925.72 968.12 L925.72 967.41 L927.52 967.41 L927.52 968.36 L929.33 968.36 L929.33 967.25 L932.3 967.25 L932.3 968.1 L935.46 968.1 L935.46 967.07 L936.48 967.07 L936.48 967.34 L938.3 967.34 L938.3 967.26 L941.03 967.26 L941.03 968.06 L942.99 968.06 L942.99 968.12 L945.87 968.12 L945.87 967.55 L947.88 967.55 L947.88 967.56 L949.17 967.56 L949.17 967.78 L950.61 967.78 L950.61 968 L952.19 968 L952.19 967.67 L955.02 967.67 L955.02 967.57 L956.59 967.57 L956.59 967.46 L958.95 967.46 L958.95 967.38 L960.19 967.38 L960.19 967.78 L963.28 967.78 L963.28 968.08 L964.77 968.08 L964.77 968.1 L966.69 968.1 L966.69 967.31 L969.87 967.31 L969.87 967.86 L972.89 967.86 L972.89 966.9 L974.59 966.9 L974.59 967.86 L976.8 967.86 L976.8 968.03 L979.86 968.03 L979.86 967.86 L981.17 967.86 L981.17 967.3 L982.4 967.3 L982.4 967.78 L983.81 967.78 L983.81 968.08 L985.41 968.08 L985.41 967.72 L986.64 967.72 L986.64 968.11 L988.21 968.11 L988.21 968.05 L989.6 968.05 L989.6 968.9 Z" fill="#000"/>
<rect x="670.8" y="965" width="2.6" height="5.2" fill="#000"/>
<rect x="679" y="966" width="2" height="4.2" fill="#000"/>
<rect x="687.8" y="956.6" width="2.6" height="13.6" fill="#000"/>
<rect x="694.7" y="959.7" width="2.6" height="10.5" fill="#000"/>
<rect x="703" y="965" width="2" height="5.2" fill="#000"/>
<rect x="709.8" y="941.5" width="2.8" height="28.7" fill="#000"/>
<rect x="714.1" y="951.3" width="2.8" height="18.9" fill="#000"/>
<rect x="719" y="964" width="2" height="6.2" fill="#000"/>
<rect x="730.1" y="954.2" width="2.8" height="16" fill="#000"/>
<rect x="739" y="966" width="2" height="4.2" fill="#000"/>
<rect x="747.3" y="952.3" width="2.8" height="17.9" fill="#000"/>
<rect x="759" y="966" width="2" height="4.2" fill="#000"/>
<rect x="769" y="965" width="2" height="5.2" fill="#000"/>
<rect x="778.1" y="908.3" width="2.8" height="61.9" fill="#000"/>
<rect x="781" y="935" width="2" height="35.2" fill="#000"/>
<rect x="794" y="965" width="2" height="5.2" fill="#000"/>
<rect x="812" y="942.1" width="2.8" height="28.1" fill="#000"/>
<rect x="814.5" y="958" width="2" height="12.2" fill="#000"/>
<rect x="845.9" y="960.9" width="2.8" height="9.3" fill="#000"/>
<rect x="851" y="964" width="2" height="6.2" fill="#000"/>
<rect x="900.3" y="921" width="2.8" height="49.2" fill="#000"/>
<rect x="658.8" y="970.2" width="3.2" height="7.3" fill="#000"/>
<rect x="670.5" y="970.2" width="3.2" height="5.4" fill="#000"/>
<rect x="682.2" y="970.2" width="3.2" height="5.4" fill="#000"/>
<rect x="693.9" y="970.2" width="3.2" height="5.4" fill="#000"/>
<rect x="705.6" y="970.2" width="3.2" height="7.3" fill="#000"/>
<rect x="717.3" y="970.2" width="3.2" height="5.4" fill="#000"/>
<rect x="729" y="970.2" width="3.2" height="5.4" fill="#000"/>
<rect x="740.7" y="970.2" width="3.2" height="5.4" fill="#000"/>
<rect x="752.4" y="970.2" width="3.2" height="7.3" fill="#000"/>
<rect x="764.1" y="970.2" width="3.2" height="5.4" fill="#000"/>
<rect x="775.8" y="970.2" width="3.2" height="5.4" fill="#000"/>
<rect x="787.5" y="970.2" width="3.2" height="5.4" fill="#000"/>
<rect x="799.2" y="970.2" width="3.2" height="7.3" fill="#000"/>
<rect x="810.9" y="970.2" width="3.2" height="5.4" fill="#000"/>
<rect x="822.6" y="970.2" width="3.2" height="5.4" fill="#000"/>
<rect x="834.3" y="970.2" width="3.2" height="5.4" fill="#000"/>
<rect x="846" y="970.2" width="3.2" height="7.3" fill="#000"/>
<rect x="857.7" y="970.2" width="3.2" height="5.4" fill="#000"/>
<rect x="869.4" y="970.2" width="3.2" height="5.4" fill="#000"/>
<rect x="881.1" y="970.2" width="3.2" height="5.4" fill="#000"/>
<rect x="892.8" y="970.2" width="3.2" height="7.3" fill="#000"/>
<rect x="904.5" y="970.2" width="3.2" height="5.4" fill="#000"/>
<rect x="916.2" y="970.2" width="3.2" height="5.4" fill="#000"/>
<rect x="927.9" y="970.2" width="3.2" height="5.4" fill="#000"/>
<rect x="939.6" y="970.2" width="3.2" height="7.3" fill="#000"/>
<rect x="951.3" y="970.2" width="3.2" height="5.4" fill="#000"/>
<rect x="963" y="970.2" width="3.2" height="5.4" fill="#000"/>
<rect x="974.7" y="970.2" width="3.2" height="5.4" fill="#000"/>
<rect x="986.4" y="970.2" width="3.2" height="7.3" fill="#000"/>
<text x="616.8" y="923" font-size="13" font-weight="normal" text-anchor="start" fill="#555" letter-spacing="0.55">48.5 min</text>
<text x="780" y="905" font-size="12.5" font-weight="bold" text-anchor="middle" fill="#000" letter-spacing="0.55">1107</text>
<text x="814.3" y="939.8" font-size="12.5" font-weight="bold" text-anchor="middle" fill="#000" letter-spacing="0.55">1253</text>
<text x="848.5" y="958.5" font-size="12.5" font-weight="bold" text-anchor="middle" fill="#000" letter-spacing="0.55">1399</text>
<text x="903.2" y="919.8" font-size="12.5" font-weight="bold" text-anchor="middle" fill="#e4202a" letter-spacing="0.55">1630</text>
<line x1="889.3" y1="921.8" x2="917.1" y2="921.8" stroke="#e4202a" stroke-width="1.3"/>
<text x="987.5" y="899.5" font-size="12.5" font-weight="bold" text-anchor="middle" fill="#000" letter-spacing="0.55">+</text>
<rect x="926.5" y="895.9" width="45" height="9.4" fill="#dcdcdc" stroke="#7a7a7a" stroke-width="1" rx="1"/>
<rect x="943" y="907" width="13.3" height="14.7" fill="#bde2e6" stroke="#5d6f70" stroke-width="1"/>
<rect x="943" y="923.4" width="13.3" height="14" fill="#bde2e6" stroke="#5d6f70" stroke-width="1"/>
<rect x="948.15" y="904.8" width="3" height="2.7" fill="#111"/>
<rect x="948.15" y="921.2" width="3" height="2.7" fill="#111"/>
<rect x="948.15" y="936.9" width="3" height="2" fill="#111"/>
<path d="M956.32 954.42 A9.5 9.5 0 1 0 942.88 954.42 L949.6 948.18 Z" fill="#8cc63f" stroke="#4d7a25" stroke-width="1"/>
<line x1="784.5" y1="918" x2="808.4" y2="918" stroke="#c2c2c2" stroke-width="3"/>
<path d="M780.3 918 L790 912.2 L785.27 918 L790 923.8 Z M812.6 918 L802.9 912.2 L807.62 918 L802.9 923.8 Z" fill="#c2c2c2"/>
<rect x="792.45" y="914.25" width="8" height="7.5" rx="1.5" fill="#bde2e6" stroke="#4a6468" stroke-width="1.4"/>
<line x1="818.4" y1="918" x2="841.2" y2="918" stroke="#c2c2c2" stroke-width="3"/>
<path d="M814.2 918 L823.9 912.2 L819.17 918 L823.9 923.8 Z M845.4 918 L835.7 912.2 L840.43 918 L835.7 923.8 Z" fill="#c2c2c2"/>
<rect x="825.8" y="914.25" width="8" height="7.5" rx="1.5" fill="#bde2e6" stroke="#4a6468" stroke-width="1.4"/>
<line x1="813.4" y1="907" x2="813.4" y2="922.2" stroke="#8e8e8e" stroke-width="2" stroke-dasharray="7 2"/>
<line x1="846.2" y1="907" x2="846.2" y2="922.2" stroke="#8e8e8e" stroke-width="2" stroke-dasharray="7 2"/>
<line x1="846.2" y1="924.5" x2="846.2" y2="943.3" stroke="#8e8e8e" stroke-width="2" stroke-dasharray="20 1"/>
<line x1="851.2" y1="929.2" x2="896.2" y2="929.2" stroke="#c2c2c2" stroke-width="3"/>
<path d="M847 929.2 L856.7 923.4 L851.98 929.2 L856.7 935 Z M900.4 929.2 L890.7 923.4 L895.43 929.2 L890.7 935 Z" fill="#c2c2c2"/>
<path d="M876.95 933.25 A4.6 4.6 0 1 0 870.45 933.25 L873.7 930.23 Z" fill="#8cc63f" stroke="#4d7a25" stroke-width="0.9"/>
<text x="708.2" y="992" font-size="12.5" font-weight="bold" text-anchor="middle" fill="#000" letter-spacing="0.55">800</text>
<text x="801.8" y="992" font-size="12.5" font-weight="bold" text-anchor="middle" fill="#000" letter-spacing="0.55">1200</text>
<text x="895.4" y="992" font-size="12.5" font-weight="bold" text-anchor="middle" fill="#000" letter-spacing="0.55">1600</text>
<text x="989" y="992" font-size="12.5" font-weight="bold" text-anchor="middle" fill="#000" letter-spacing="0.55">2000</text>
<text x="845" y="1008.4" font-size="16.5" font-weight="bold" text-anchor="middle" fill="#000" font-style="italic" textLength="21.5" lengthAdjust="spacingAndGlyphs">m/z</text>
<rect x="660.4" y="1113.9" width="328.7" height="3.4" fill="#000"/>
<path d="M660.4 1114.4 L660.4 1112.89 L662.41 1112.89 L662.41 1113.18 L665.21 1113.18 L665.21 1113 L667.58 1113 L667.58 1110.54 L670.34 1110.54 L670.34 1113.13 L671.81 1113.13 L671.81 1113.21 L673.94 1113.21 L673.94 1113.45 L675.1 1113.45 L675.1 1113.58 L676.28 1113.58 L676.28 1112.78 L678.39 1112.78 L678.39 1113.57 L680.75 1113.57 L680.75 1112.58 L682.3 1112.58 L682.3 1112.96 L684.5 1112.96 L684.5 1112.86 L686.26 1112.86 L686.26 1113.49 L687.77 1113.49 L687.77 1113.17 L690.1 1113.17 L690.1 1113.89 L692.6 1113.89 L692.6 1113.47 L693.86 1113.47 L693.86 1113.34 L695.88 1113.34 L695.88 1112.83 L698.97 1112.83 L698.97 1113.72 L700.55 1113.72 L700.55 1111.66 L701.8 1111.66 L701.8 1111 L704.35 1111 L704.35 1113.87 L706.12 1113.87 L706.12 1113.34 L707.94 1113.34 L707.94 1112.79 L710.15 1112.79 L710.15 1113.82 L712.41 1113.82 L712.41 1113.77 L713.44 1113.77 L713.44 1113.19 L715.16 1113.19 L715.16 1110.38 L716.97 1110.38 L716.97 1113.81 L720.06 1113.81 L720.06 1112.42 L723.21 1112.42 L723.21 1113.43 L726.14 1113.43 L726.14 1113.12 L728.3 1113.12 L728.3 1113.52 L730 1113.52 L730 1113.49 L732.51 1113.49 L732.51 1112.09 L735.65 1112.09 L735.65 1113.22 L737.08 1113.22 L737.08 1113.88 L739.48 1113.88 L739.48 1112.39 L742.12 1112.39 L742.12 1112.64 L743.48 1112.64 L743.48 1113.18 L746.22 1113.18 L746.22 1113.8 L748.86 1113.8 L748.86 1113.33 L750.52 1113.33 L750.52 1113.4 L752.73 1113.4 L752.73 1113.86 L755.74 1113.86 L755.74 1113.03 L758.23 1113.03 L758.23 1112.99 L760.2 1112.99 L760.2 1113.27 L761.81 1113.27 L761.81 1112.58 L764.36 1112.58 L764.36 1113.42 L766.18 1113.42 L766.18 1113.8 L769.21 1113.8 L769.21 1113.49 L771.54 1113.49 L771.54 1113.72 L774.42 1113.72 L774.42 1112.56 L777.6 1112.56 L777.6 1113.45 L779.27 1113.45 L779.27 1113.12 L781.05 1113.12 L781.05 1113.83 L783.52 1113.83 L783.52 1111.23 L786.5 1111.23 L786.5 1113 L788.81 1113 L788.81 1113.1 L791.05 1113.1 L791.05 1113.79 L793.97 1113.79 L793.97 1111.75 L796.71 1111.75 L796.71 1113.39 L799.89 1113.39 L799.89 1113.53 L802.62 1113.53 L802.62 1113.25 L804.61 1113.25 L804.61 1111.66 L805.87 1111.66 L805.87 1113.43 L808.21 1113.43 L808.21 1112.92 L810.39 1112.92 L810.39 1113.43 L811.98 1113.43 L811.98 1113.41 L813.21 1113.41 L813.21 1112.23 L816.1 1112.23 L816.1 1113.16 L818.97 1113.16 L818.97 1112.67 L819.99 1112.67 L819.99 1113.69 L821.55 1113.69 L821.55 1113.04 L823.19 1113.04 L823.19 1112.52 L824.69 1112.52 L824.69 1113.68 L827.46 1113.68 L827.46 1113.33 L828.71 1113.33 L828.71 1113.81 L829.75 1113.81 L829.75 1112.92 L832.38 1112.92 L832.38 1112.71 L834.04 1112.71 L834.04 1112.52 L835.33 1112.52 L835.33 1113.74 L838.06 1113.74 L838.06 1113.19 L841.14 1113.19 L841.14 1113.24 L842.15 1113.24 L842.15 1113.5 L844.15 1113.5 L844.15 1113.62 L847.26 1113.62 L847.26 1113.2 L848.97 1113.2 L848.97 1111.96 L851.76 1111.96 L851.76 1113.87 L854.36 1113.87 L854.36 1113.44 L856.13 1113.44 L856.13 1113.54 L858.08 1113.54 L858.08 1113 L859.37 1113 L859.37 1112.54 L860.65 1112.54 L860.65 1113.8 L862.65 1113.8 L862.65 1113.84 L863.89 1113.84 L863.89 1113.61 L865.5 1113.61 L865.5 1112.15 L866.98 1112.15 L866.98 1113.17 L869.63 1113.17 L869.63 1112.63 L871.79 1112.63 L871.79 1112.82 L874.37 1112.82 L874.37 1113.15 L876.91 1113.15 L876.91 1113.89 L879.27 1113.89 L879.27 1113.55 L881.82 1113.55 L881.82 1113.88 L883.43 1113.88 L883.43 1112.87 L886.32 1112.87 L886.32 1113.81 L888.87 1113.81 L888.87 1112.13 L890.22 1112.13 L890.22 1113.13 L891.72 1113.13 L891.72 1113.79 L894.59 1113.79 L894.59 1113.3 L897.32 1113.3 L897.32 1113.86 L899.49 1113.86 L899.49 1112.39 L902.01 1112.39 L902.01 1113.76 L904.66 1113.76 L904.66 1112.37 L906.89 1112.37 L906.89 1112.51 L908.92 1112.51 L908.92 1113.26 L910.26 1113.26 L910.26 1112.65 L912.01 1112.65 L912.01 1113.42 L914.14 1113.42 L914.14 1113.39 L916.52 1113.39 L916.52 1112.61 L918.48 1112.61 L918.48 1113.06 L921.19 1113.06 L921.19 1112.47 L922.46 1112.47 L922.46 1113.48 L923.49 1113.48 L923.49 1113.27 L925.78 1113.27 L925.78 1112.43 L928.86 1112.43 L928.86 1113.84 L930.48 1113.84 L930.48 1113.35 L932.71 1113.35 L932.71 1112.91 L935.38 1112.91 L935.38 1112.83 L937.36 1112.83 L937.36 1113.85 L940.39 1113.85 L940.39 1110.47 L943.51 1110.47 L943.51 1112.71 L944.95 1112.71 L944.95 1113.2 L946.31 1113.2 L946.31 1111.86 L947.55 1111.86 L947.55 1112.36 L949.67 1112.36 L949.67 1113.29 L951.52 1113.29 L951.52 1113.45 L954.41 1113.45 L954.41 1112.8 L955.81 1112.8 L955.81 1111.61 L957.22 1111.61 L957.22 1113.1 L958.49 1113.1 L958.49 1113.9 L960.58 1113.9 L960.58 1113.25 L962.13 1113.25 L962.13 1112.11 L965.31 1112.11 L965.31 1113.05 L966.99 1113.05 L966.99 1113.56 L969.67 1113.56 L969.67 1113.24 L971.57 1113.24 L971.57 1112.82 L973.4 1112.82 L973.4 1113.16 L975.93 1113.16 L975.93 1113.55 L977.85 1113.55 L977.85 1113.49 L979.48 1113.49 L979.48 1113 L981.09 1113 L981.09 1112.67 L982.87 1112.67 L982.87 1111.88 L983.88 1111.88 L983.88 1112.94 L984.97 1112.94 L984.97 1112.2 L986.17 1112.2 L986.17 1113.85 L988.09 1113.85 L988.09 1112.48 L989.1 1112.48 L989.1 1114.4 Z" fill="#000"/>
<rect x="671" y="1112" width="2" height="3.6" fill="#000"/>
<rect x="679" y="1111" width="2" height="4.6" fill="#000"/>
<rect x="687.7" y="1101" width="2.8" height="14.6" fill="#000"/>
<rect x="699" y="1112" width="2" height="3.6" fill="#000"/>
<rect x="713.7" y="1095.2" width="2.8" height="20.4" fill="#000"/>
<rect x="719" y="1110" width="2" height="5.6" fill="#000"/>
<rect x="728.7" y="1071.8" width="2.8" height="43.8" fill="#000"/>
<rect x="730.7" y="1092.3" width="2.8" height="23.3" fill="#000"/>
<rect x="735" y="1106" width="2" height="9.6" fill="#000"/>
<rect x="746.9" y="1099" width="2.8" height="16.6" fill="#000"/>
<rect x="759" y="1112" width="2" height="3.6" fill="#000"/>
<rect x="778.1" y="1054.2" width="2.8" height="61.4" fill="#000"/>
<rect x="781" y="1085" width="2" height="30.6" fill="#000"/>
<rect x="812" y="1094.5" width="2.8" height="21.1" fill="#000"/>
<rect x="845.9" y="1099.7" width="2.8" height="15.9" fill="#000"/>
<rect x="873.05" y="1105.5" width="2.5" height="10.1" fill="#000"/>
<rect x="880.6" y="1095" width="2.8" height="20.6" fill="#000"/>
<rect x="884.75" y="1107" width="2.5" height="8.6" fill="#000"/>
<rect x="889" y="1110" width="2" height="5.6" fill="#000"/>
<rect x="937.8" y="1075.8" width="2.8" height="39.8" fill="#000"/>
<rect x="944" y="1112" width="2" height="3.6" fill="#000"/>
<text x="616.8" y="1070.4" font-size="13" font-weight="normal" text-anchor="start" fill="#555" letter-spacing="0.55">48.6 min</text>
<text x="780" y="1049.3" font-size="12.5" font-weight="bold" text-anchor="middle" fill="#000" letter-spacing="0.55">1107</text>
<text x="814.3" y="1089.8" font-size="12.5" font-weight="bold" text-anchor="middle" fill="#000" letter-spacing="0.55">1253</text>
<text x="848.5" y="1095.5" font-size="12.5" font-weight="bold" text-anchor="middle" fill="#000" letter-spacing="0.55">1399</text>
<text x="884.2" y="1089.8" font-size="12.5" font-weight="bold" text-anchor="middle" fill="#000" letter-spacing="0.55">1545</text>
<text x="729.8" y="1067.9" font-size="12.5" font-weight="bold" text-anchor="middle" fill="#e4202a" letter-spacing="0.55">896</text>
<line x1="719.38" y1="1069.9" x2="740.22" y2="1069.9" stroke="#e4202a" stroke-width="1.3"/>
<text x="939.6" y="1072" font-size="12.5" font-weight="bold" text-anchor="middle" fill="#e4202a" letter-spacing="0.55">1791</text>
<line x1="925.7" y1="1074" x2="953.5" y2="1074" stroke="#e4202a" stroke-width="1.3"/>
<text x="1006" y="1035" font-size="12.5" font-weight="bold" text-anchor="middle" fill="#000" letter-spacing="0.55">+</text>
<rect x="948.1" y="1030.5" width="45.7" height="9.4" fill="#dcdcdc" stroke="#7a7a7a" stroke-width="1" rx="1"/>
<rect x="964.5" y="1041.6" width="13.6" height="14.7" fill="#bde2e6" stroke="#5d6f70" stroke-width="1"/>
<rect x="964.5" y="1058.7" width="13.6" height="14" fill="#bde2e6" stroke="#5d6f70" stroke-width="1"/>
<rect x="964.5" y="1074.4" width="13.6" height="14" fill="#bde2e6" stroke="#5d6f70" stroke-width="1"/>
<rect x="969.8" y="1039.4" width="3" height="2.7" fill="#111"/>
<rect x="969.8" y="1055.8" width="3" height="3.4" fill="#111"/>
<rect x="969.8" y="1072.2" width="3" height="2.7" fill="#111"/>
<rect x="969.8" y="1087.9" width="3" height="2" fill="#111"/>
<circle cx="971.3" cy="1099.2" r="9.3" fill="#8cc63f" stroke="#4d7a25" stroke-width="1"/>
<line x1="784.5" y1="1055.6" x2="807.7" y2="1055.6" stroke="#c2c2c2" stroke-width="3"/>
<path d="M780.3 1055.6 L790 1049.8 L785.27 1055.6 L790 1061.4 Z M811.9 1055.6 L802.2 1049.8 L806.93 1055.6 L802.2 1061.4 Z" fill="#c2c2c2"/>
<rect x="792.1" y="1051.85" width="8" height="7.5" rx="1.5" fill="#bde2e6" stroke="#4a6468" stroke-width="1.4"/>
<line x1="817.7" y1="1055.6" x2="842.3" y2="1055.6" stroke="#c2c2c2" stroke-width="3"/>
<path d="M813.5 1055.6 L823.2 1049.8 L818.48 1055.6 L823.2 1061.4 Z M846.5 1055.6 L836.8 1049.8 L841.52 1055.6 L836.8 1061.4 Z" fill="#c2c2c2"/>
<rect x="826" y="1051.85" width="8" height="7.5" rx="1.5" fill="#bde2e6" stroke="#4a6468" stroke-width="1.4"/>
<line x1="852.3" y1="1055.6" x2="877" y2="1055.6" stroke="#c2c2c2" stroke-width="3"/>
<path d="M848.1 1055.6 L857.8 1049.8 L853.07 1055.6 L857.8 1061.4 Z M881.2 1055.6 L871.5 1049.8 L876.23 1055.6 L871.5 1061.4 Z" fill="#c2c2c2"/>
<rect x="860.65" y="1051.85" width="8" height="7.5" rx="1.5" fill="#bde2e6" stroke="#4a6468" stroke-width="1.4"/>
<line x1="812.7" y1="1050.5" x2="812.7" y2="1064.5" stroke="#8e8e8e" stroke-width="2" stroke-dasharray="7 2"/>
<line x1="812.7" y1="1071" x2="812.7" y2="1072.5" stroke="#9a9a9a" stroke-width="1.2"/>
<line x1="847.3" y1="1050.5" x2="847.3" y2="1064.5" stroke="#8e8e8e" stroke-width="2" stroke-dasharray="7 2"/>
<line x1="847.3" y1="1071" x2="847.3" y2="1072.5" stroke="#9a9a9a" stroke-width="1.2"/>
<line x1="882" y1="1050.5" x2="882" y2="1064.5" stroke="#8e8e8e" stroke-width="2" stroke-dasharray="7 2"/>
<line x1="882" y1="1071" x2="882" y2="1072.5" stroke="#9a9a9a" stroke-width="1.2"/>
<line x1="847.3" y1="1075" x2="847.3" y2="1083" stroke="#8e8e8e" stroke-width="2" stroke-dasharray="8 1"/>
<line x1="887" y1="1100.9" x2="934.2" y2="1100.9" stroke="#c2c2c2" stroke-width="3"/>
<path d="M882.8 1100.9 L892.5 1095.1 L887.77 1100.9 L892.5 1106.7 Z M938.4 1100.9 L928.7 1095.1 L933.43 1100.9 L928.7 1106.7 Z" fill="#c2c2c2"/>
<circle cx="910.6" cy="1100.9" r="4.6" fill="#8cc63f" stroke="#4d7a25" stroke-width="0.8"/>
<rect x="660.4" y="1207.4" width="329.2" height="3.6" fill="#000"/>
<path d="M660.4 1207.9 L660.4 1207.08 L663 1207.08 L663 1207.33 L665.78 1207.33 L665.78 1205.51 L667.19 1205.51 L667.19 1206.58 L670.18 1206.58 L670.18 1207.05 L671.61 1207.05 L671.61 1206.62 L673.15 1206.62 L673.15 1207.07 L674.62 1207.07 L674.62 1206.22 L676.34 1206.22 L676.34 1207.07 L677.81 1207.07 L677.81 1206.06 L679.96 1206.06 L679.96 1206.08 L681.72 1206.08 L681.72 1207.25 L683.64 1207.25 L683.64 1206.55 L685.41 1206.55 L685.41 1207.35 L687.38 1207.35 L687.38 1206.83 L688.81 1206.83 L688.81 1206.7 L689.99 1206.7 L689.99 1206.83 L692.9 1206.83 L692.9 1206.66 L694.07 1206.66 L694.07 1207.16 L695.52 1207.16 L695.52 1207.25 L696.84 1207.25 L696.84 1206.7 L698 1206.7 L698 1206.53 L700 1206.53 L700 1207.4 L702.91 1207.4 L702.91 1206.29 L704.64 1206.29 L704.64 1207.23 L706.88 1207.23 L706.88 1205.56 L708.27 1205.56 L708.27 1207.05 L711.36 1207.05 L711.36 1207.11 L714.43 1207.11 L714.43 1206.51 L716.6 1206.51 L716.6 1207.12 L718 1207.12 L718 1207.06 L720.39 1207.06 L720.39 1206.83 L721.57 1206.83 L721.57 1207.23 L723.9 1207.23 L723.9 1205.82 L726.51 1205.82 L726.51 1207.33 L729.27 1207.33 L729.27 1206.9 L732.24 1206.9 L732.24 1205.82 L735.3 1205.82 L735.3 1207.3 L738.1 1207.3 L738.1 1206.39 L740.42 1206.39 L740.42 1206.73 L742.14 1206.73 L742.14 1207.38 L744 1207.38 L744 1207 L745.38 1207 L745.38 1206.53 L748.52 1206.53 L748.52 1207.32 L750.66 1207.32 L750.66 1206.66 L753.14 1206.66 L753.14 1207.02 L754.46 1207.02 L754.46 1207.1 L757.47 1207.1 L757.47 1206.93 L759.75 1206.93 L759.75 1207.24 L762.42 1207.24 L762.42 1206.98 L764.28 1206.98 L764.28 1207.35 L767.31 1207.35 L767.31 1206.84 L769.84 1206.84 L769.84 1207.14 L771.62 1207.14 L771.62 1207.19 L774.81 1207.19 L774.81 1205.34 L776.79 1205.34 L776.79 1206.45 L779.46 1206.45 L779.46 1206.48 L780.77 1206.48 L780.77 1206.43 L783.5 1206.43 L783.5 1206.23 L785.37 1206.23 L785.37 1205.79 L787.68 1205.79 L787.68 1206.19 L788.86 1206.19 L788.86 1205.6 L790.11 1205.6 L790.11 1206.84 L792.82 1206.84 L792.82 1205.94 L795.44 1205.94 L795.44 1207.26 L797.1 1207.26 L797.1 1207.21 L798.53 1207.21 L798.53 1207.23 L800.83 1207.23 L800.83 1206.81 L803.05 1206.81 L803.05 1205.4 L804.77 1205.4 L804.77 1207.24 L806.42 1207.24 L806.42 1207.25 L809.45 1207.25 L809.45 1207.33 L812.51 1207.33 L812.51 1207.19 L814.22 1207.19 L814.22 1207.28 L816.19 1207.28 L816.19 1206.84 L817.91 1206.84 L817.91 1206.64 L821.01 1206.64 L821.01 1206.98 L823.98 1206.98 L823.98 1206.96 L825.89 1206.96 L825.89 1206.83 L827.27 1206.83 L827.27 1206.81 L829.32 1206.81 L829.32 1206.08 L830.87 1206.08 L830.87 1207.22 L833.69 1207.22 L833.69 1207.11 L835.54 1207.11 L835.54 1207.14 L837.81 1207.14 L837.81 1207.39 L840.04 1207.39 L840.04 1207.23 L842.71 1207.23 L842.71 1207.16 L845.22 1207.16 L845.22 1207.15 L846.81 1207.15 L846.81 1207.4 L849.75 1207.4 L849.75 1207.24 L851.45 1207.24 L851.45 1207.2 L854.07 1207.2 L854.07 1207.11 L855.59 1207.11 L855.59 1206.62 L858.48 1206.62 L858.48 1206.28 L859.72 1206.28 L859.72 1206.44 L861.4 1206.44 L861.4 1206.64 L863.15 1206.64 L863.15 1207.21 L865.54 1207.21 L865.54 1207.23 L867.25 1207.23 L867.25 1206.76 L870.3 1206.76 L870.3 1207.1 L872.4 1207.1 L872.4 1206.23 L875.11 1206.23 L875.11 1207.05 L876.88 1207.05 L876.88 1207.06 L879.05 1207.06 L879.05 1206.17 L880.08 1206.17 L880.08 1207.32 L882.46 1207.32 L882.46 1207.24 L885.09 1207.24 L885.09 1207.21 L886.38 1207.21 L886.38 1207.23 L889.38 1207.23 L889.38 1206.64 L891.66 1206.64 L891.66 1206.87 L894.19 1206.87 L894.19 1206.02 L897.32 1206.02 L897.32 1207.08 L900.37 1207.08 L900.37 1206.24 L901.67 1206.24 L901.67 1207.25 L902.82 1207.25 L902.82 1206.83 L904.61 1206.83 L904.61 1206.26 L905.85 1206.26 L905.85 1207.08 L908.4 1207.08 L908.4 1206.04 L909.71 1206.04 L909.71 1206.77 L911.28 1206.77 L911.28 1207.18 L913.41 1207.18 L913.41 1207.03 L915.65 1207.03 L915.65 1207.1 L918.44 1207.1 L918.44 1206.26 L919.93 1206.26 L919.93 1206.99 L922.44 1206.99 L922.44 1207.09 L925.03 1207.09 L925.03 1206.71 L927.32 1206.71 L927.32 1206.78 L929.95 1206.78 L929.95 1206.93 L931.1 1206.93 L931.1 1206.38 L933.27 1206.38 L933.27 1206.59 L935.39 1206.59 L935.39 1207.15 L938.48 1207.15 L938.48 1206.46 L940.27 1206.46 L940.27 1206 L942.77 1206 L942.77 1205.83 L943.78 1205.83 L943.78 1207.04 L945.74 1207.04 L945.74 1205.7 L947.72 1205.7 L947.72 1206.95 L949.32 1206.95 L949.32 1206.88 L952.08 1206.88 L952.08 1207.36 L955.22 1207.36 L955.22 1207.3 L957.85 1207.3 L957.85 1207.04 L959.87 1207.04 L959.87 1206.98 L961.14 1206.98 L961.14 1207.21 L962.56 1207.21 L962.56 1206.9 L965.01 1206.9 L965.01 1207.3 L967.14 1207.3 L967.14 1207.31 L968.17 1207.31 L968.17 1206.12 L969.66 1206.12 L969.66 1207.2 L971.32 1207.2 L971.32 1206.3 L974.42 1206.3 L974.42 1206.99 L976.68 1206.99 L976.68 1207.36 L978.87 1207.36 L978.87 1207.37 L981.13 1207.37 L981.13 1206.57 L982.99 1206.57 L982.99 1206.43 L985.87 1206.43 L985.87 1206.74 L988.03 1206.74 L988.03 1206.85 L989.6 1206.85 L989.6 1207.9 Z" fill="#000"/>
<rect x="670.7" y="1202" width="2.6" height="7.2" fill="#000"/>
<rect x="679" y="1204" width="2" height="5.2" fill="#000"/>
<rect x="687.8" y="1198" width="2.6" height="11.2" fill="#000"/>
<rect x="699" y="1204" width="2" height="5.2" fill="#000"/>
<rect x="709.7" y="1199" width="2.6" height="10.2" fill="#000"/>
<rect x="714.1" y="1193.2" width="2.8" height="16" fill="#000"/>
<rect x="718" y="1202" width="2" height="7.2" fill="#000"/>
<rect x="730.1" y="1198.5" width="2.8" height="10.7" fill="#000"/>
<rect x="739" y="1204" width="2" height="5.2" fill="#000"/>
<rect x="747.3" y="1198" width="2.8" height="11.2" fill="#000"/>
<rect x="761" y="1204" width="2" height="5.2" fill="#000"/>
<rect x="778.1" y="1173.1" width="2.8" height="36.1" fill="#000"/>
<rect x="781" y="1195" width="2" height="14.2" fill="#000"/>
<rect x="812" y="1198.5" width="2.8" height="10.7" fill="#000"/>
<rect x="845.9" y="1200" width="2.8" height="9.2" fill="#000"/>
<rect x="850" y="1203" width="2" height="6.2" fill="#000"/>
<rect x="904.1" y="1147" width="2.8" height="62.2" fill="#000"/>
<rect x="658.8" y="1209.2" width="3.2" height="7.8" fill="#000"/>
<rect x="670.5" y="1209.2" width="3.2" height="5.4" fill="#000"/>
<rect x="682.2" y="1209.2" width="3.2" height="5.4" fill="#000"/>
<rect x="693.9" y="1209.2" width="3.2" height="5.4" fill="#000"/>
<rect x="705.6" y="1209.2" width="3.2" height="7.8" fill="#000"/>
<rect x="717.3" y="1209.2" width="3.2" height="5.4" fill="#000"/>
<rect x="729" y="1209.2" width="3.2" height="5.4" fill="#000"/>
<rect x="740.7" y="1209.2" width="3.2" height="5.4" fill="#000"/>
<rect x="752.4" y="1209.2" width="3.2" height="7.8" fill="#000"/>
<rect x="764.1" y="1209.2" width="3.2" height="5.4" fill="#000"/>
<rect x="775.8" y="1209.2" width="3.2" height="5.4" fill="#000"/>
<rect x="787.5" y="1209.2" width="3.2" height="5.4" fill="#000"/>
<rect x="799.2" y="1209.2" width="3.2" height="7.8" fill="#000"/>
<rect x="810.9" y="1209.2" width="3.2" height="5.4" fill="#000"/>
<rect x="822.6" y="1209.2" width="3.2" height="5.4" fill="#000"/>
<rect x="834.3" y="1209.2" width="3.2" height="5.4" fill="#000"/>
<rect x="846" y="1209.2" width="3.2" height="7.8" fill="#000"/>
<rect x="857.7" y="1209.2" width="3.2" height="5.4" fill="#000"/>
<rect x="869.4" y="1209.2" width="3.2" height="5.4" fill="#000"/>
<rect x="881.1" y="1209.2" width="3.2" height="5.4" fill="#000"/>
<rect x="892.8" y="1209.2" width="3.2" height="7.8" fill="#000"/>
<rect x="904.5" y="1209.2" width="3.2" height="5.4" fill="#000"/>
<rect x="916.2" y="1209.2" width="3.2" height="5.4" fill="#000"/>
<rect x="927.9" y="1209.2" width="3.2" height="5.4" fill="#000"/>
<rect x="939.6" y="1209.2" width="3.2" height="7.8" fill="#000"/>
<rect x="951.3" y="1209.2" width="3.2" height="5.4" fill="#000"/>
<rect x="963" y="1209.2" width="3.2" height="5.4" fill="#000"/>
<rect x="974.7" y="1209.2" width="3.2" height="5.4" fill="#000"/>
<rect x="986.4" y="1209.2" width="3.2" height="7.8" fill="#000"/>
<text x="616.8" y="1167.3" font-size="13" font-weight="normal" text-anchor="start" fill="#555" letter-spacing="0.55">49.7 min</text>
<text x="780" y="1168.8" font-size="12.5" font-weight="bold" text-anchor="middle" fill="#000" letter-spacing="0.55">1107</text>
<text x="814.3" y="1195.5" font-size="12.5" font-weight="bold" text-anchor="middle" fill="#000" letter-spacing="0.55">1253</text>
<text x="848.5" y="1196.2" font-size="12.5" font-weight="bold" text-anchor="middle" fill="#000" letter-spacing="0.55">1399</text>
<text x="905.6" y="1142.3" font-size="12.5" font-weight="bold" text-anchor="middle" fill="#e4202a" letter-spacing="0.55">1644</text>
<line x1="891.7" y1="1144.3" x2="919.5" y2="1144.3" stroke="#e4202a" stroke-width="1.3"/>
<text x="993.1" y="1136" font-size="12.5" font-weight="bold" text-anchor="middle" fill="#000" letter-spacing="0.55">+</text>
<rect x="932.9" y="1132.2" width="45.7" height="9.4" fill="#dcdcdc" stroke="#7a7a7a" stroke-width="1" rx="1"/>
<rect x="948.6" y="1143.9" width="13.6" height="14.1" fill="#bde2e6" stroke="#5d6f70" stroke-width="1"/>
<rect x="948.6" y="1160.3" width="13.6" height="13.6" fill="#bde2e6" stroke="#5d6f70" stroke-width="1"/>
<rect x="953.9" y="1141.1" width="3" height="3.3" fill="#111"/>
<rect x="953.9" y="1157.5" width="3" height="3.3" fill="#111"/>
<rect x="953.9" y="1173.4" width="3" height="2" fill="#111"/>
<circle cx="955.4" cy="1185.1" r="9.5" fill="#8cc63f" stroke="#4d7a25" stroke-width="1"/>
<line x1="784.5" y1="1175.8" x2="808.4" y2="1175.8" stroke="#c2c2c2" stroke-width="3"/>
<path d="M780.3 1175.8 L790 1170 L785.27 1175.8 L790 1181.6 Z M812.6 1175.8 L802.9 1170 L807.62 1175.8 L802.9 1181.6 Z" fill="#c2c2c2"/>
<rect x="792.45" y="1172.05" width="8" height="7.5" rx="1.5" fill="#bde2e6" stroke="#4a6468" stroke-width="1.4"/>
<line x1="818.4" y1="1175.8" x2="842.3" y2="1175.8" stroke="#c2c2c2" stroke-width="3"/>
<path d="M814.2 1175.8 L823.9 1170 L819.17 1175.8 L823.9 1181.6 Z M846.5 1175.8 L836.8 1170 L841.52 1175.8 L836.8 1181.6 Z" fill="#c2c2c2"/>
<rect x="826.35" y="1172.05" width="8" height="7.5" rx="1.5" fill="#bde2e6" stroke="#4a6468" stroke-width="1.4"/>
<line x1="813.4" y1="1166.9" x2="813.4" y2="1180.5" stroke="#8e8e8e" stroke-width="2" stroke-dasharray="7 2"/>
<line x1="847.3" y1="1166.9" x2="847.3" y2="1180.5" stroke="#8e8e8e" stroke-width="2" stroke-dasharray="7 2"/>
<line x1="852.3" y1="1175.8" x2="900.5" y2="1175.8" stroke="#c2c2c2" stroke-width="3"/>
<path d="M848.1 1175.8 L857.8 1170 L853.07 1175.8 L857.8 1181.6 Z M904.7 1175.8 L895 1170 L899.73 1175.8 L895 1181.6 Z" fill="#c2c2c2"/>
<circle cx="876.4" cy="1175.8" r="4.6" fill="#8cc63f" stroke="#4d7a25" stroke-width="0.8"/>
<text x="708.2" y="1232.5" font-size="12.5" font-weight="bold" text-anchor="middle" fill="#000" letter-spacing="0.55">800</text>
<text x="801.8" y="1232.5" font-size="12.5" font-weight="bold" text-anchor="middle" fill="#000" letter-spacing="0.55">1200</text>
<text x="895.4" y="1232.5" font-size="12.5" font-weight="bold" text-anchor="middle" fill="#000" letter-spacing="0.55">1600</text>
<text x="989" y="1232.5" font-size="12.5" font-weight="bold" text-anchor="middle" fill="#000" letter-spacing="0.55">2000</text>
<text x="845" y="1247.7" font-size="16.5" font-weight="bold" text-anchor="middle" fill="#000" font-style="italic" textLength="21.5" lengthAdjust="spacingAndGlyphs">m/z</text>
</svg>
</body></html>
